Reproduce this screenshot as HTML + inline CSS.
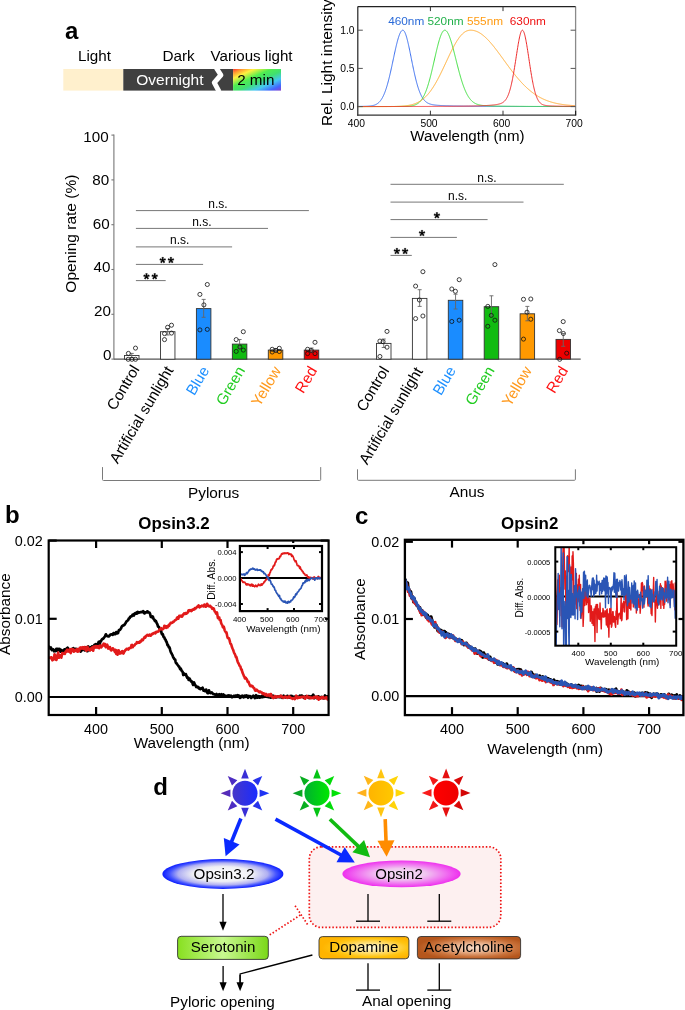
<!DOCTYPE html>
<html><head><meta charset="utf-8"><title>Figure</title>
<style>html,body{margin:0;padding:0;background:#fff;} body{width:685px;height:1010px;overflow:hidden;font-family:"Liberation Sans", sans-serif;} svg{display:block;will-change:transform;}</style>
</head><body>
<svg width="685" height="1010" viewBox="0 0 685 1010" font-family="'Liberation Sans', sans-serif">
<defs>
<linearGradient id="rb" x1="0" y1="0" x2="1" y2="1"><stop offset="0" stop-color="#ff3030"/><stop offset="0.1" stop-color="#ff9a30"/><stop offset="0.22" stop-color="#fff040"/><stop offset="0.4" stop-color="#50ee50"/><stop offset="0.55" stop-color="#40e070"/><stop offset="0.72" stop-color="#44c8f0"/><stop offset="0.88" stop-color="#4466ff"/><stop offset="1" stop-color="#8844cc"/></linearGradient>
<linearGradient id="sb" gradientUnits="userSpaceOnUse" x1="220" y1="0" x2="270" y2="0"><stop offset="0" stop-color="#5f2aae"/><stop offset="1" stop-color="#1535ff"/></linearGradient>
<linearGradient id="sbc" gradientUnits="userSpaceOnUse" x1="232.5" y1="0" x2="257.5" y2="0"><stop offset="0" stop-color="#4636c8"/><stop offset="1" stop-color="#1a2cff"/></linearGradient>
<linearGradient id="sg" gradientUnits="userSpaceOnUse" x1="292" y1="0" x2="342" y2="0"><stop offset="0" stop-color="#0a9a2a"/><stop offset="1" stop-color="#00ee00"/></linearGradient>
<linearGradient id="sgc" gradientUnits="userSpaceOnUse" x1="304.5" y1="0" x2="329.5" y2="0"><stop offset="0" stop-color="#00b030"/><stop offset="1" stop-color="#00e800"/></linearGradient>
<linearGradient id="sy" gradientUnits="userSpaceOnUse" x1="356" y1="0" x2="406" y2="0"><stop offset="0" stop-color="#ffaa22"/><stop offset="1" stop-color="#ffe000"/></linearGradient>
<linearGradient id="syc" gradientUnits="userSpaceOnUse" x1="368.5" y1="0" x2="393.5" y2="0"><stop offset="0" stop-color="#ffb400"/><stop offset="1" stop-color="#ffc800"/></linearGradient>
<linearGradient id="sr" gradientUnits="userSpaceOnUse" x1="421.1" y1="0" x2="471.1" y2="0"><stop offset="0" stop-color="#ff2020"/><stop offset="1" stop-color="#cc0000"/></linearGradient>
<linearGradient id="src" gradientUnits="userSpaceOnUse" x1="433.6" y1="0" x2="458.6" y2="0"><stop offset="0" stop-color="#ff0000"/><stop offset="1" stop-color="#ee0000"/></linearGradient>
<radialGradient id="eb" cx="0.5" cy="0.5" r="0.5"><stop offset="0" stop-color="#ffffff"/><stop offset="0.5" stop-color="#eeeef4"/><stop offset="0.74" stop-color="#b0b0f2"/><stop offset="0.88" stop-color="#4555ff"/><stop offset="1" stop-color="#0a1cff"/></radialGradient>
<radialGradient id="ep" cx="0.5" cy="0.5" r="0.5"><stop offset="0" stop-color="#f4dcf4"/><stop offset="0.4" stop-color="#f0c8f0"/><stop offset="0.75" stop-color="#f070f0"/><stop offset="1" stop-color="#ee30ee"/></radialGradient>
<linearGradient id="gs" x1="0" y1="0" x2="1" y2="0"><stop offset="0" stop-color="#88e020"/><stop offset="0.5" stop-color="#c8f890"/><stop offset="1" stop-color="#7ad818"/></linearGradient>
<radialGradient id="gd" cx="0.58" cy="0.5" r="0.55"><stop offset="0" stop-color="#fffae0"/><stop offset="0.35" stop-color="#ffe488"/><stop offset="0.75" stop-color="#ffc410"/><stop offset="1" stop-color="#ffb400"/></radialGradient>
<radialGradient id="ga" cx="0.55" cy="0.5" r="0.55"><stop offset="0" stop-color="#f8dcc8"/><stop offset="0.35" stop-color="#eab490"/><stop offset="0.75" stop-color="#c87038"/><stop offset="1" stop-color="#b5561c"/></radialGradient>
</defs>
<rect width="685" height="1010" fill="#fff"/>
<text x="65.00" y="38.80" font-size="24" text-anchor="start" fill="#000" font-weight="bold">a</text>
<text x="78.00" y="60.60" font-size="15.2" text-anchor="start" fill="#000">Light</text>
<text x="162.40" y="60.60" font-size="15.3" text-anchor="start" fill="#000">Dark</text>
<text x="210.60" y="60.60" font-size="15.1" text-anchor="start" fill="#000">Various light</text>
<rect x="63.30" y="69.00" width="60.00" height="21.60" fill="#fff0cd" stroke="none" stroke-width="1"/>
<rect x="123.30" y="69.00" width="109.80" height="21.60" fill="#404040" stroke="none" stroke-width="1"/>
<polyline points="216.30,68.00 220.90,75.00 214.30,82.60 219.10,91.60" fill="none" stroke="#fff" stroke-width="5" stroke-linejoin="round" stroke-linecap="butt"/>
<rect x="233.10" y="69.00" width="47.90" height="21.60" fill="url(#rb)" stroke="none" stroke-width="1"/>
<text x="136.30" y="85.20" font-size="15.5" text-anchor="start" fill="#fff">Overnight</text>
<text x="237.20" y="84.90" font-size="15.2" text-anchor="start" fill="#000">2 min</text>
<polyline points="357.80,106.41 358.04,106.41 358.28,106.41 358.53,106.41 358.77,106.40 359.01,106.40 359.25,106.40 359.50,106.40 359.74,106.39 359.98,106.39 360.22,106.39 360.46,106.39 360.71,106.38 360.95,106.38 361.19,106.38 361.43,106.37 361.68,106.37 361.92,106.37 362.16,106.36 362.40,106.36 362.65,106.35 362.89,106.35 363.13,106.35 363.37,106.34 363.61,106.34 363.86,106.33 364.10,106.33 364.34,106.32 364.58,106.31 364.83,106.31 365.07,106.30 365.31,106.29 365.55,106.29 365.79,106.28 366.04,106.27 366.28,106.26 366.52,106.25 366.76,106.24 367.01,106.23 367.25,106.22 367.49,106.21 367.73,106.19 367.98,106.18 368.22,106.16 368.46,106.15 368.70,106.13 368.94,106.11 369.19,106.09 369.43,106.07 369.67,106.05 369.91,106.02 370.16,106.00 370.40,105.97 370.64,105.94 370.88,105.91 371.12,105.88 371.37,105.84 371.61,105.80 371.85,105.76 372.09,105.72 372.34,105.67 372.58,105.62 372.82,105.57 373.06,105.51 373.31,105.45 373.55,105.39 373.79,105.32 374.03,105.25 374.27,105.17 374.52,105.09 374.76,105.00 375.00,104.91 375.24,104.81 375.49,104.71 375.73,104.60 375.97,104.48 376.21,104.36 376.45,104.23 376.70,104.09 376.94,103.94 377.18,103.79 377.42,103.62 377.67,103.45 377.91,103.27 378.15,103.08 378.39,102.88 378.64,102.66 378.88,102.44 379.12,102.21 379.36,101.96 379.60,101.70 379.85,101.43 380.09,101.15 380.33,100.85 380.57,100.54 380.82,100.21 381.06,99.87 381.30,99.52 381.54,99.14 381.78,98.76 382.03,98.35 382.27,97.93 382.51,97.49 382.75,97.04 383.00,96.56 383.24,96.07 383.48,95.56 383.72,95.03 383.97,94.48 384.21,93.91 384.45,93.33 384.69,92.72 384.93,92.09 385.18,91.44 385.42,90.77 385.66,90.08 385.90,89.37 386.15,88.64 386.39,87.89 386.63,87.12 386.87,86.32 387.11,85.51 387.36,84.67 387.60,83.82 387.84,82.95 388.08,82.05 388.33,81.14 388.57,80.21 388.81,79.26 389.05,78.29 389.29,77.31 389.54,76.31 389.78,75.29 390.02,74.26 390.26,73.21 390.51,72.15 390.75,71.07 390.99,69.99 391.23,68.89 391.48,67.79 391.72,66.67 391.96,65.55 392.20,64.42 392.44,63.28 392.69,62.14 392.93,61.00 393.17,59.86 393.41,58.72 393.66,57.57 393.90,56.44 394.14,55.30 394.38,54.17 394.62,53.05 394.87,51.94 395.11,50.84 395.35,49.75 395.59,48.67 395.84,47.61 396.08,46.57 396.32,45.54 396.56,44.54 396.81,43.55 397.05,42.59 397.29,41.66 397.53,40.75 397.77,39.87 398.02,39.02 398.26,38.20 398.50,37.42 398.74,36.67 398.99,35.95 399.23,35.27 399.47,34.63 399.71,34.03 399.95,33.47 400.20,32.95 400.44,32.47 400.68,32.03 400.92,31.65 401.17,31.30 401.41,31.00 401.65,30.75 401.89,30.55 402.14,30.39 402.38,30.28 402.62,30.22 402.86,30.20 403.10,30.24 403.35,30.35 403.59,30.51 403.83,30.74 404.07,31.02 404.32,31.36 404.56,31.76 404.80,32.22 405.04,32.73 405.28,33.29 405.53,33.91 405.77,34.57 406.01,35.28 406.25,36.04 406.50,36.84 406.74,37.68 406.98,38.57 407.22,39.49 407.47,40.44 407.71,41.43 407.95,42.44 408.19,43.49 408.43,44.56 408.68,45.65 408.92,46.76 409.16,47.90 409.40,49.05 409.65,50.21 409.89,51.39 410.13,52.58 410.37,53.77 410.61,54.97 410.86,56.18 411.10,57.39 411.34,58.60 411.58,59.81 411.83,61.02 412.07,62.22 412.31,63.42 412.55,64.61 412.80,65.79 413.04,66.96 413.28,68.12 413.52,69.27 413.76,70.40 414.01,71.52 414.25,72.62 414.49,73.71 414.73,74.78 414.98,75.83 415.22,76.86 415.46,77.88 415.70,78.87 415.94,79.84 416.19,80.79 416.43,81.72 416.67,82.63 416.91,83.51 417.16,84.37 417.40,85.21 417.64,86.03 417.88,86.83 418.13,87.60 418.37,88.34 418.61,89.07 418.85,89.77 419.09,90.45 419.34,91.11 419.58,91.75 419.82,92.36 420.06,92.95 420.31,93.52 420.55,94.07 420.79,94.60 421.03,95.11 421.27,95.60 421.52,96.07 421.76,96.52 422.00,96.96 422.24,97.37 422.49,97.77 422.73,98.15 422.97,98.51 423.21,98.86 423.45,99.19 423.70,99.51 423.94,99.81 424.18,100.10 424.42,100.38 424.67,100.64 424.91,100.89 425.15,101.13 425.39,101.35 425.64,101.57 425.88,101.77 426.12,101.97 426.36,102.15 426.60,102.33 426.85,102.49 427.09,102.65 427.33,102.80 427.57,102.94 427.82,103.08 428.06,103.20 428.30,103.32 428.54,103.44 428.78,103.55 429.03,103.65 429.27,103.74 429.51,103.84 429.75,103.92 430.00,104.01 430.24,104.08 430.48,104.16 430.72,104.23 430.97,104.30 431.21,104.36 431.45,104.42 431.69,104.48 431.93,104.53 432.18,104.58 432.42,104.63 432.66,104.68 432.90,104.72 433.15,104.76 433.39,104.80 433.63,104.84 433.87,104.88 434.11,104.91 434.36,104.95 434.60,104.98 434.84,105.01 435.08,105.04 435.33,105.07 435.57,105.10 435.81,105.12 436.05,105.15 436.30,105.17 436.54,105.19 436.78,105.22 437.02,105.24 437.26,105.26 437.51,105.28 437.75,105.30 437.99,105.32 438.23,105.34 438.48,105.35 438.72,105.37 438.96,105.39 439.20,105.40 439.44,105.42 439.69,105.44 439.93,105.45 440.17,105.47 440.41,105.48 440.66,105.49 440.90,105.51 441.14,105.52 441.38,105.54 441.63,105.55 441.87,105.56 442.11,105.57 442.35,105.59 442.59,105.60 442.84,105.61 443.08,105.62 443.32,105.63 443.56,105.64 443.81,105.65 444.05,105.66 444.29,105.67 444.53,105.68 444.77,105.69 445.02,105.70 445.26,105.71 445.50,105.72 445.74,105.73 445.99,105.74 446.23,105.75 446.47,105.76 446.71,105.77 446.96,105.78 447.20,105.79 447.44,105.79 447.68,105.80 447.92,105.81 448.17,105.82 448.41,105.83 448.65,105.83 448.89,105.84 449.14,105.85 449.38,105.86 449.62,105.86 449.86,105.87 450.10,105.88 450.35,105.89 450.59,105.89 450.83,105.90 451.07,105.91 451.32,105.91 451.56,105.92 451.80,105.93 452.04,105.93 452.28,105.94 452.53,105.94 452.77,105.95 453.01,105.96 453.25,105.96 453.50,105.97 453.74,105.97 453.98,105.98 454.22,105.99 454.47,105.99 454.71,106.00 454.95,106.00 455.19,106.01 455.43,106.01 455.68,106.02 455.92,106.02 456.16,106.03 456.40,106.03 456.65,106.04 456.89,106.04 457.13,106.05 457.37,106.05 457.61,106.06 457.86,106.06 458.10,106.07 458.34,106.07 458.58,106.07 458.83,106.08 459.07,106.08 459.31,106.09 459.55,106.09 459.80,106.10 460.04,106.10 460.28,106.10 460.52,106.11 460.76,106.11 461.01,106.12 461.25,106.12 461.49,106.12 461.73,106.13 461.98,106.13 462.22,106.13 462.46,106.14 462.70,106.14 462.94,106.15 463.19,106.15 463.43,106.15 463.67,106.16 463.91,106.16 464.16,106.16 464.40,106.17 464.64,106.17 464.88,106.17 465.13,106.18 465.37,106.18 465.61,106.18 465.85,106.19 466.09,106.19 466.34,106.19 466.58,106.19 466.82,106.20 467.06,106.20 467.31,106.20 467.55,106.21 467.79,106.21 468.03,106.21 468.27,106.21 468.52,106.22 468.76,106.22 469.00,106.22 469.24,106.23 469.49,106.23 469.73,106.23 469.97,106.23 470.21,106.24 470.46,106.24 470.70,106.24 470.94,106.24 471.18,106.25 471.42,106.25 471.67,106.25 471.91,106.25 472.15,106.26 472.39,106.26 472.64,106.26 472.88,106.26 473.12,106.26 473.36,106.27 473.60,106.27 473.85,106.27 474.09,106.27 474.33,106.28 474.57,106.28 474.82,106.28 475.06,106.28 475.30,106.28 475.54,106.29 475.79,106.29 476.03,106.29 476.27,106.29 476.51,106.29 476.75,106.30 477.00,106.30 477.24,106.30 477.48,106.30 477.72,106.30 477.97,106.31 478.21,106.31 478.45,106.31 478.69,106.31 478.93,106.31 479.18,106.32 479.42,106.32 479.66,106.32 479.90,106.32 480.15,106.32 480.39,106.32 480.63,106.33 480.87,106.33 481.12,106.33 481.36,106.33 481.60,106.33 481.84,106.33 482.08,106.34 482.33,106.34 482.57,106.34 482.81,106.34 483.05,106.34 483.30,106.34 483.54,106.34 483.78,106.35 484.02,106.35 484.26,106.35 484.51,106.35 484.75,106.35 484.99,106.35 485.23,106.35 485.48,106.36 485.72,106.36 485.96,106.36 486.20,106.36 486.44,106.36 486.69,106.36 486.93,106.36 487.17,106.37 487.41,106.37 487.66,106.37 487.90,106.37 488.14,106.37 488.38,106.37 488.63,106.37 488.87,106.37 489.11,106.38 489.35,106.38 489.59,106.38 489.84,106.38 490.08,106.38 490.32,106.38 490.56,106.38 490.81,106.38 491.05,106.39 491.29,106.39 491.53,106.39 491.77,106.39 492.02,106.39 492.26,106.39 492.50,106.39 492.74,106.39 492.99,106.39 493.23,106.40 493.47,106.40 493.71,106.40 493.96,106.40 494.20,106.40 494.44,106.40 494.68,106.40 494.92,106.40 495.17,106.40 495.41,106.41 495.65,106.41 495.89,106.41 496.14,106.41 496.38,106.41 496.62,106.41 496.86,106.41 497.10,106.41 497.35,106.41 497.59,106.41 497.83,106.41 498.07,106.42 498.32,106.42 498.56,106.42 498.80,106.42 499.04,106.42 499.29,106.42 499.53,106.42 499.77,106.42 500.01,106.42 500.25,106.42 500.50,106.42 500.74,106.43 500.98,106.43 501.22,106.43 501.47,106.43 501.71,106.43 501.95,106.43 502.19,106.43 502.43,106.43 502.68,106.43 502.92,106.43 503.16,106.43 503.40,106.43 503.65,106.44 503.89,106.44 504.13,106.44 504.37,106.44 504.62,106.44 504.86,106.44 505.10,106.44 505.34,106.44 505.58,106.44 505.83,106.44 506.07,106.44 506.31,106.44 506.55,106.44 506.80,106.44 507.04,106.45 507.28,106.45 507.52,106.45 507.76,106.45 508.01,106.45 508.25,106.45 508.49,106.45 508.73,106.45 508.98,106.45 509.22,106.45 509.46,106.45 509.70,106.45 509.95,106.45 510.19,106.45 510.43,106.46 510.67,106.46 510.91,106.46 511.16,106.46 511.40,106.46 511.64,106.46 511.88,106.46 512.13,106.46 512.37,106.46 512.61,106.46 512.85,106.46 513.09,106.46 513.34,106.46 513.58,106.46 513.82,106.46 514.06,106.46 514.31,106.46 514.55,106.47 514.79,106.47 515.03,106.47 515.27,106.47 515.52,106.47 515.76,106.47 516.00,106.47 516.24,106.47 516.49,106.47 516.73,106.47 516.97,106.47 517.21,106.47 517.46,106.47 517.70,106.47 517.94,106.47 518.18,106.47 518.42,106.47 518.67,106.47 518.91,106.48 519.15,106.48 519.39,106.48 519.64,106.48 519.88,106.48 520.12,106.48 520.36,106.48 520.60,106.48 520.85,106.48 521.09,106.48 521.33,106.48 521.57,106.48 521.82,106.48 522.06,106.48 522.30,106.48 522.54,106.48 522.79,106.48 523.03,106.48 523.27,106.48 523.51,106.48 523.75,106.49 524.00,106.49 524.24,106.49 524.48,106.49 524.72,106.49 524.97,106.49 525.21,106.49 525.45,106.49 525.69,106.49 525.93,106.49 526.18,106.49 526.42,106.49 526.66,106.49 526.90,106.49 527.15,106.49 527.39,106.49 527.63,106.49 527.87,106.49 528.12,106.49 528.36,106.49 528.60,106.49 528.84,106.49 529.08,106.49 529.33,106.49 529.57,106.50 529.81,106.50 530.05,106.50 530.30,106.50 530.54,106.50 530.78,106.50 531.02,106.50 531.26,106.50 531.51,106.50 531.75,106.50 531.99,106.50 532.23,106.50 532.48,106.50 532.72,106.50 532.96,106.50 533.20,106.50 533.45,106.50 533.69,106.50 533.93,106.50 534.17,106.50 534.41,106.50 534.66,106.50 534.90,106.50 535.14,106.50 535.38,106.50 535.63,106.50 535.87,106.50 536.11,106.51 536.35,106.51 536.59,106.51 536.84,106.51 537.08,106.51 537.32,106.51 537.56,106.51 537.81,106.51 538.05,106.51 538.29,106.51 538.53,106.51 538.78,106.51 539.02,106.51 539.26,106.51 539.50,106.51 539.74,106.51 539.99,106.51 540.23,106.51 540.47,106.51 540.71,106.51 540.96,106.51 541.20,106.51 541.44,106.51 541.68,106.51 541.92,106.51 542.17,106.51 542.41,106.51 542.65,106.51 542.89,106.51 543.14,106.51 543.38,106.51 543.62,106.52 543.86,106.52 544.11,106.52 544.35,106.52 544.59,106.52 544.83,106.52 545.07,106.52 545.32,106.52 545.56,106.52 545.80,106.52 546.04,106.52 546.29,106.52 546.53,106.52 546.77,106.52 547.01,106.52 547.25,106.52 547.50,106.52 547.74,106.52 547.98,106.52 548.22,106.52 548.47,106.52 548.71,106.52 548.95,106.52 549.19,106.52 549.43,106.52 549.68,106.52 549.92,106.52 550.16,106.52 550.40,106.52 550.65,106.52 550.89,106.52 551.13,106.52 551.37,106.52 551.62,106.52 551.86,106.52 552.10,106.52 552.34,106.52 552.58,106.52 552.83,106.53 553.07,106.53 553.31,106.53 553.55,106.53 553.80,106.53 554.04,106.53 554.28,106.53 554.52,106.53 554.76,106.53 555.01,106.53 555.25,106.53 555.49,106.53 555.73,106.53 555.98,106.53 556.22,106.53 556.46,106.53 556.70,106.53 556.95,106.53 557.19,106.53 557.43,106.53 557.67,106.53 557.91,106.53 558.16,106.53 558.40,106.53 558.64,106.53 558.88,106.53 559.13,106.53 559.37,106.53 559.61,106.53 559.85,106.53 560.09,106.53 560.34,106.53 560.58,106.53 560.82,106.53 561.06,106.53 561.31,106.53 561.55,106.53 561.79,106.53 562.03,106.53 562.28,106.53 562.52,106.53 562.76,106.53 563.00,106.53 563.24,106.53 563.49,106.53 563.73,106.53 563.97,106.54 564.21,106.54 564.46,106.54 564.70,106.54 564.94,106.54 565.18,106.54 565.42,106.54 565.67,106.54 565.91,106.54 566.15,106.54 566.39,106.54 566.64,106.54 566.88,106.54 567.12,106.54 567.36,106.54 567.61,106.54 567.85,106.54 568.09,106.54 568.33,106.54 568.57,106.54 568.82,106.54 569.06,106.54 569.30,106.54 569.54,106.54 569.79,106.54 570.03,106.54 570.27,106.54 570.51,106.54 570.75,106.54 571.00,106.54 571.24,106.54 571.48,106.54 571.72,106.54 571.97,106.54 572.21,106.54 572.45,106.54 572.69,106.54 572.94,106.54 573.18,106.54 573.42,106.54 573.66,106.54 573.90,106.54 574.15,106.54 574.39,106.54 574.63,106.54 574.87,106.54 575.12,106.54 575.36,106.54 575.60,106.54" fill="none" stroke="#3c70f0" stroke-width="1.0" stroke-linejoin="round"/>
<polyline points="357.80,106.55 358.04,106.55 358.28,106.55 358.53,106.55 358.77,106.55 359.01,106.55 359.25,106.55 359.50,106.55 359.74,106.55 359.98,106.55 360.22,106.55 360.46,106.55 360.71,106.55 360.95,106.55 361.19,106.55 361.43,106.55 361.68,106.55 361.92,106.55 362.16,106.55 362.40,106.55 362.65,106.55 362.89,106.55 363.13,106.55 363.37,106.55 363.61,106.55 363.86,106.55 364.10,106.55 364.34,106.55 364.58,106.55 364.83,106.55 365.07,106.55 365.31,106.55 365.55,106.55 365.79,106.55 366.04,106.55 366.28,106.54 366.52,106.54 366.76,106.54 367.01,106.54 367.25,106.54 367.49,106.54 367.73,106.54 367.98,106.54 368.22,106.54 368.46,106.54 368.70,106.54 368.94,106.54 369.19,106.54 369.43,106.54 369.67,106.54 369.91,106.54 370.16,106.54 370.40,106.54 370.64,106.54 370.88,106.54 371.12,106.54 371.37,106.54 371.61,106.54 371.85,106.54 372.09,106.54 372.34,106.54 372.58,106.53 372.82,106.53 373.06,106.53 373.31,106.53 373.55,106.53 373.79,106.53 374.03,106.53 374.27,106.53 374.52,106.53 374.76,106.53 375.00,106.53 375.24,106.53 375.49,106.53 375.73,106.53 375.97,106.53 376.21,106.53 376.45,106.53 376.70,106.53 376.94,106.53 377.18,106.53 377.42,106.53 377.67,106.53 377.91,106.52 378.15,106.52 378.39,106.52 378.64,106.52 378.88,106.52 379.12,106.52 379.36,106.52 379.60,106.52 379.85,106.52 380.09,106.52 380.33,106.52 380.57,106.52 380.82,106.52 381.06,106.52 381.30,106.52 381.54,106.52 381.78,106.52 382.03,106.51 382.27,106.51 382.51,106.51 382.75,106.51 383.00,106.51 383.24,106.51 383.48,106.51 383.72,106.51 383.97,106.51 384.21,106.51 384.45,106.51 384.69,106.51 384.93,106.51 385.18,106.51 385.42,106.51 385.66,106.50 385.90,106.50 386.15,106.50 386.39,106.50 386.63,106.50 386.87,106.50 387.11,106.50 387.36,106.50 387.60,106.50 387.84,106.50 388.08,106.50 388.33,106.50 388.57,106.49 388.81,106.49 389.05,106.49 389.29,106.49 389.54,106.49 389.78,106.49 390.02,106.49 390.26,106.49 390.51,106.49 390.75,106.49 390.99,106.49 391.23,106.48 391.48,106.48 391.72,106.48 391.96,106.48 392.20,106.48 392.44,106.48 392.69,106.48 392.93,106.48 393.17,106.48 393.41,106.47 393.66,106.47 393.90,106.47 394.14,106.47 394.38,106.47 394.62,106.47 394.87,106.47 395.11,106.47 395.35,106.46 395.59,106.46 395.84,106.46 396.08,106.46 396.32,106.46 396.56,106.46 396.81,106.46 397.05,106.45 397.29,106.45 397.53,106.45 397.77,106.45 398.02,106.45 398.26,106.45 398.50,106.44 398.74,106.44 398.99,106.44 399.23,106.44 399.47,106.44 399.71,106.43 399.95,106.43 400.20,106.43 400.44,106.43 400.68,106.42 400.92,106.42 401.17,106.42 401.41,106.41 401.65,106.41 401.89,106.41 402.14,106.40 402.38,106.40 402.62,106.40 402.86,106.39 403.10,106.39 403.35,106.38 403.59,106.38 403.83,106.37 404.07,106.37 404.32,106.36 404.56,106.36 404.80,106.35 405.04,106.34 405.28,106.33 405.53,106.33 405.77,106.32 406.01,106.31 406.25,106.30 406.50,106.29 406.74,106.28 406.98,106.27 407.22,106.26 407.47,106.24 407.71,106.23 407.95,106.21 408.19,106.20 408.43,106.18 408.68,106.16 408.92,106.14 409.16,106.12 409.40,106.10 409.65,106.08 409.89,106.05 410.13,106.03 410.37,106.00 410.61,105.97 410.86,105.94 411.10,105.90 411.34,105.87 411.58,105.83 411.83,105.79 412.07,105.74 412.31,105.70 412.55,105.65 412.80,105.60 413.04,105.54 413.28,105.48 413.52,105.42 413.76,105.35 414.01,105.28 414.25,105.21 414.49,105.13 414.73,105.05 414.98,104.96 415.22,104.87 415.46,104.77 415.70,104.67 415.94,104.56 416.19,104.44 416.43,104.32 416.67,104.19 416.91,104.06 417.16,103.91 417.40,103.77 417.64,103.61 417.88,103.44 418.13,103.27 418.37,103.09 418.61,102.90 418.85,102.69 419.09,102.48 419.34,102.26 419.58,102.03 419.82,101.79 420.06,101.54 420.31,101.28 420.55,101.00 420.79,100.71 421.03,100.41 421.27,100.10 421.52,99.77 421.76,99.44 422.00,99.08 422.24,98.72 422.49,98.33 422.73,97.94 422.97,97.53 423.21,97.10 423.45,96.66 423.70,96.20 423.94,95.73 424.18,95.23 424.42,94.73 424.67,94.20 424.91,93.66 425.15,93.10 425.39,92.53 425.64,91.93 425.88,91.32 426.12,90.69 426.36,90.05 426.60,89.38 426.85,88.70 427.09,88.00 427.33,87.28 427.57,86.54 427.82,85.79 428.06,85.01 428.30,84.22 428.54,83.42 428.78,82.59 429.03,81.75 429.27,80.89 429.51,80.02 429.75,79.13 430.00,78.23 430.24,77.31 430.48,76.37 430.72,75.43 430.97,74.47 431.21,73.49 431.45,72.51 431.69,71.51 431.93,70.50 432.18,69.49 432.42,68.46 432.66,67.42 432.90,66.38 433.15,65.34 433.39,64.28 433.63,63.22 433.87,62.16 434.11,61.10 434.36,60.04 434.60,58.97 434.84,57.91 435.08,56.85 435.33,55.79 435.57,54.74 435.81,53.69 436.05,52.65 436.30,51.62 436.54,50.59 436.78,49.58 437.02,48.58 437.26,47.60 437.51,46.63 437.75,45.67 437.99,44.73 438.23,43.81 438.48,42.92 438.72,42.04 438.96,41.18 439.20,40.35 439.44,39.55 439.69,38.77 439.93,38.02 440.17,37.29 440.41,36.60 440.66,35.94 440.90,35.30 441.14,34.71 441.38,34.14 441.63,33.61 441.87,33.12 442.11,32.66 442.35,32.24 442.59,31.86 442.84,31.51 443.08,31.21 443.32,30.94 443.56,30.72 443.81,30.53 444.05,30.39 444.29,30.28 444.53,30.22 444.77,30.20 445.02,30.22 445.26,30.27 445.50,30.36 445.74,30.49 445.99,30.65 446.23,30.84 446.47,31.08 446.71,31.34 446.96,31.64 447.20,31.97 447.44,32.34 447.68,32.74 447.92,33.17 448.17,33.63 448.41,34.12 448.65,34.64 448.89,35.20 449.14,35.77 449.38,36.38 449.62,37.01 449.86,37.67 450.10,38.35 450.35,39.05 450.59,39.78 450.83,40.53 451.07,41.30 451.32,42.09 451.56,42.90 451.80,43.72 452.04,44.56 452.28,45.42 452.53,46.29 452.77,47.17 453.01,48.07 453.25,48.98 453.50,49.89 453.74,50.82 453.98,51.75 454.22,52.70 454.47,53.64 454.71,54.60 454.95,55.55 455.19,56.52 455.43,57.48 455.68,58.44 455.92,59.41 456.16,60.37 456.40,61.34 456.65,62.30 456.89,63.26 457.13,64.22 457.37,65.17 457.61,66.12 457.86,67.06 458.10,67.99 458.34,68.92 458.58,69.84 458.83,70.75 459.07,71.66 459.31,72.55 459.55,73.44 459.80,74.31 460.04,75.17 460.28,76.03 460.52,76.87 460.76,77.69 461.01,78.51 461.25,79.31 461.49,80.11 461.73,80.88 461.98,81.65 462.22,82.40 462.46,83.13 462.70,83.86 462.94,84.56 463.19,85.26 463.43,85.94 463.67,86.60 463.91,87.25 464.16,87.89 464.40,88.51 464.64,89.11 464.88,89.70 465.13,90.28 465.37,90.84 465.61,91.39 465.85,91.92 466.09,92.44 466.34,92.94 466.58,93.43 466.82,93.91 467.06,94.37 467.31,94.82 467.55,95.26 467.79,95.68 468.03,96.09 468.27,96.48 468.52,96.87 468.76,97.24 469.00,97.59 469.24,97.94 469.49,98.28 469.73,98.60 469.97,98.91 470.21,99.21 470.46,99.50 470.70,99.78 470.94,100.05 471.18,100.31 471.42,100.56 471.67,100.80 471.91,101.03 472.15,101.26 472.39,101.47 472.64,101.68 472.88,101.87 473.12,102.06 473.36,102.24 473.60,102.42 473.85,102.58 474.09,102.74 474.33,102.90 474.57,103.04 474.82,103.18 475.06,103.32 475.30,103.45 475.54,103.57 475.79,103.68 476.03,103.80 476.27,103.90 476.51,104.01 476.75,104.10 477.00,104.20 477.24,104.28 477.48,104.37 477.72,104.45 477.97,104.53 478.21,104.60 478.45,104.67 478.69,104.74 478.93,104.80 479.18,104.86 479.42,104.92 479.66,104.97 479.90,105.03 480.15,105.08 480.39,105.12 480.63,105.17 480.87,105.21 481.12,105.25 481.36,105.29 481.60,105.33 481.84,105.36 482.08,105.40 482.33,105.43 482.57,105.46 482.81,105.49 483.05,105.52 483.30,105.54 483.54,105.57 483.78,105.59 484.02,105.61 484.26,105.64 484.51,105.66 484.75,105.68 484.99,105.70 485.23,105.71 485.48,105.73 485.72,105.75 485.96,105.76 486.20,105.78 486.44,105.79 486.69,105.81 486.93,105.82 487.17,105.83 487.41,105.85 487.66,105.86 487.90,105.87 488.14,105.88 488.38,105.89 488.63,105.90 488.87,105.91 489.11,105.92 489.35,105.93 489.59,105.94 489.84,105.95 490.08,105.96 490.32,105.97 490.56,105.97 490.81,105.98 491.05,105.99 491.29,106.00 491.53,106.00 491.77,106.01 492.02,106.02 492.26,106.02 492.50,106.03 492.74,106.03 492.99,106.04 493.23,106.05 493.47,106.05 493.71,106.06 493.96,106.06 494.20,106.07 494.44,106.07 494.68,106.08 494.92,106.08 495.17,106.09 495.41,106.09 495.65,106.10 495.89,106.10 496.14,106.11 496.38,106.11 496.62,106.12 496.86,106.12 497.10,106.13 497.35,106.13 497.59,106.13 497.83,106.14 498.07,106.14 498.32,106.15 498.56,106.15 498.80,106.15 499.04,106.16 499.29,106.16 499.53,106.17 499.77,106.17 500.01,106.17 500.25,106.18 500.50,106.18 500.74,106.18 500.98,106.19 501.22,106.19 501.47,106.19 501.71,106.20 501.95,106.20 502.19,106.20 502.43,106.21 502.68,106.21 502.92,106.21 503.16,106.22 503.40,106.22 503.65,106.22 503.89,106.22 504.13,106.23 504.37,106.23 504.62,106.23 504.86,106.24 505.10,106.24 505.34,106.24 505.58,106.24 505.83,106.25 506.07,106.25 506.31,106.25 506.55,106.26 506.80,106.26 507.04,106.26 507.28,106.26 507.52,106.27 507.76,106.27 508.01,106.27 508.25,106.27 508.49,106.27 508.73,106.28 508.98,106.28 509.22,106.28 509.46,106.28 509.70,106.29 509.95,106.29 510.19,106.29 510.43,106.29 510.67,106.30 510.91,106.30 511.16,106.30 511.40,106.30 511.64,106.30 511.88,106.31 512.13,106.31 512.37,106.31 512.61,106.31 512.85,106.31 513.09,106.32 513.34,106.32 513.58,106.32 513.82,106.32 514.06,106.32 514.31,106.33 514.55,106.33 514.79,106.33 515.03,106.33 515.27,106.33 515.52,106.33 515.76,106.34 516.00,106.34 516.24,106.34 516.49,106.34 516.73,106.34 516.97,106.34 517.21,106.35 517.46,106.35 517.70,106.35 517.94,106.35 518.18,106.35 518.42,106.35 518.67,106.36 518.91,106.36 519.15,106.36 519.39,106.36 519.64,106.36 519.88,106.36 520.12,106.36 520.36,106.37 520.60,106.37 520.85,106.37 521.09,106.37 521.33,106.37 521.57,106.37 521.82,106.37 522.06,106.38 522.30,106.38 522.54,106.38 522.79,106.38 523.03,106.38 523.27,106.38 523.51,106.38 523.75,106.39 524.00,106.39 524.24,106.39 524.48,106.39 524.72,106.39 524.97,106.39 525.21,106.39 525.45,106.39 525.69,106.40 525.93,106.40 526.18,106.40 526.42,106.40 526.66,106.40 526.90,106.40 527.15,106.40 527.39,106.40 527.63,106.40 527.87,106.41 528.12,106.41 528.36,106.41 528.60,106.41 528.84,106.41 529.08,106.41 529.33,106.41 529.57,106.41 529.81,106.41 530.05,106.42 530.30,106.42 530.54,106.42 530.78,106.42 531.02,106.42 531.26,106.42 531.51,106.42 531.75,106.42 531.99,106.42 532.23,106.42 532.48,106.42 532.72,106.43 532.96,106.43 533.20,106.43 533.45,106.43 533.69,106.43 533.93,106.43 534.17,106.43 534.41,106.43 534.66,106.43 534.90,106.43 535.14,106.43 535.38,106.44 535.63,106.44 535.87,106.44 536.11,106.44 536.35,106.44 536.59,106.44 536.84,106.44 537.08,106.44 537.32,106.44 537.56,106.44 537.81,106.44 538.05,106.44 538.29,106.45 538.53,106.45 538.78,106.45 539.02,106.45 539.26,106.45 539.50,106.45 539.74,106.45 539.99,106.45 540.23,106.45 540.47,106.45 540.71,106.45 540.96,106.45 541.20,106.45 541.44,106.46 541.68,106.46 541.92,106.46 542.17,106.46 542.41,106.46 542.65,106.46 542.89,106.46 543.14,106.46 543.38,106.46 543.62,106.46 543.86,106.46 544.11,106.46 544.35,106.46 544.59,106.46 544.83,106.46 545.07,106.47 545.32,106.47 545.56,106.47 545.80,106.47 546.04,106.47 546.29,106.47 546.53,106.47 546.77,106.47 547.01,106.47 547.25,106.47 547.50,106.47 547.74,106.47 547.98,106.47 548.22,106.47 548.47,106.47 548.71,106.47 548.95,106.48 549.19,106.48 549.43,106.48 549.68,106.48 549.92,106.48 550.16,106.48 550.40,106.48 550.65,106.48 550.89,106.48 551.13,106.48 551.37,106.48 551.62,106.48 551.86,106.48 552.10,106.48 552.34,106.48 552.58,106.48 552.83,106.48 553.07,106.48 553.31,106.48 553.55,106.49 553.80,106.49 554.04,106.49 554.28,106.49 554.52,106.49 554.76,106.49 555.01,106.49 555.25,106.49 555.49,106.49 555.73,106.49 555.98,106.49 556.22,106.49 556.46,106.49 556.70,106.49 556.95,106.49 557.19,106.49 557.43,106.49 557.67,106.49 557.91,106.49 558.16,106.49 558.40,106.49 558.64,106.50 558.88,106.50 559.13,106.50 559.37,106.50 559.61,106.50 559.85,106.50 560.09,106.50 560.34,106.50 560.58,106.50 560.82,106.50 561.06,106.50 561.31,106.50 561.55,106.50 561.79,106.50 562.03,106.50 562.28,106.50 562.52,106.50 562.76,106.50 563.00,106.50 563.24,106.50 563.49,106.50 563.73,106.50 563.97,106.50 564.21,106.50 564.46,106.50 564.70,106.51 564.94,106.51 565.18,106.51 565.42,106.51 565.67,106.51 565.91,106.51 566.15,106.51 566.39,106.51 566.64,106.51 566.88,106.51 567.12,106.51 567.36,106.51 567.61,106.51 567.85,106.51 568.09,106.51 568.33,106.51 568.57,106.51 568.82,106.51 569.06,106.51 569.30,106.51 569.54,106.51 569.79,106.51 570.03,106.51 570.27,106.51 570.51,106.51 570.75,106.51 571.00,106.51 571.24,106.51 571.48,106.52 571.72,106.52 571.97,106.52 572.21,106.52 572.45,106.52 572.69,106.52 572.94,106.52 573.18,106.52 573.42,106.52 573.66,106.52 573.90,106.52 574.15,106.52 574.39,106.52 574.63,106.52 574.87,106.52 575.12,106.52 575.36,106.52 575.60,106.52" fill="none" stroke="#3ee03e" stroke-width="1.0" stroke-linejoin="round"/>
<polyline points="357.80,106.60 358.04,106.60 358.28,106.60 358.53,106.60 358.77,106.60 359.01,106.60 359.25,106.60 359.50,106.60 359.74,106.60 359.98,106.60 360.22,106.60 360.46,106.60 360.71,106.60 360.95,106.60 361.19,106.60 361.43,106.60 361.68,106.60 361.92,106.60 362.16,106.60 362.40,106.60 362.65,106.60 362.89,106.60 363.13,106.60 363.37,106.60 363.61,106.60 363.86,106.60 364.10,106.60 364.34,106.60 364.58,106.60 364.83,106.60 365.07,106.60 365.31,106.60 365.55,106.60 365.79,106.60 366.04,106.60 366.28,106.60 366.52,106.60 366.76,106.60 367.01,106.60 367.25,106.60 367.49,106.60 367.73,106.60 367.98,106.60 368.22,106.60 368.46,106.60 368.70,106.60 368.94,106.60 369.19,106.60 369.43,106.60 369.67,106.60 369.91,106.60 370.16,106.60 370.40,106.60 370.64,106.60 370.88,106.60 371.12,106.60 371.37,106.60 371.61,106.60 371.85,106.60 372.09,106.60 372.34,106.60 372.58,106.60 372.82,106.60 373.06,106.60 373.31,106.60 373.55,106.60 373.79,106.60 374.03,106.60 374.27,106.60 374.52,106.60 374.76,106.60 375.00,106.60 375.24,106.60 375.49,106.60 375.73,106.60 375.97,106.60 376.21,106.60 376.45,106.60 376.70,106.60 376.94,106.60 377.18,106.60 377.42,106.60 377.67,106.60 377.91,106.60 378.15,106.60 378.39,106.60 378.64,106.60 378.88,106.60 379.12,106.60 379.36,106.60 379.60,106.59 379.85,106.59 380.09,106.59 380.33,106.59 380.57,106.59 380.82,106.59 381.06,106.59 381.30,106.59 381.54,106.59 381.78,106.59 382.03,106.59 382.27,106.59 382.51,106.59 382.75,106.59 383.00,106.59 383.24,106.59 383.48,106.59 383.72,106.59 383.97,106.59 384.21,106.59 384.45,106.58 384.69,106.58 384.93,106.58 385.18,106.58 385.42,106.58 385.66,106.58 385.90,106.58 386.15,106.58 386.39,106.58 386.63,106.58 386.87,106.57 387.11,106.57 387.36,106.57 387.60,106.57 387.84,106.57 388.08,106.57 388.33,106.57 388.57,106.56 388.81,106.56 389.05,106.56 389.29,106.56 389.54,106.56 389.78,106.55 390.02,106.55 390.26,106.55 390.51,106.55 390.75,106.54 390.99,106.54 391.23,106.54 391.48,106.54 391.72,106.53 391.96,106.53 392.20,106.53 392.44,106.52 392.69,106.52 392.93,106.51 393.17,106.51 393.41,106.51 393.66,106.50 393.90,106.50 394.14,106.49 394.38,106.49 394.62,106.48 394.87,106.48 395.11,106.47 395.35,106.46 395.59,106.46 395.84,106.45 396.08,106.44 396.32,106.44 396.56,106.43 396.81,106.42 397.05,106.42 397.29,106.41 397.53,106.40 397.77,106.39 398.02,106.38 398.26,106.37 398.50,106.36 398.74,106.35 398.99,106.34 399.23,106.33 399.47,106.32 399.71,106.30 399.95,106.29 400.20,106.28 400.44,106.27 400.68,106.25 400.92,106.24 401.17,106.22 401.41,106.21 401.65,106.19 401.89,106.17 402.14,106.16 402.38,106.14 402.62,106.12 402.86,106.10 403.10,106.08 403.35,106.06 403.59,106.04 403.83,106.01 404.07,105.99 404.32,105.97 404.56,105.94 404.80,105.92 405.04,105.89 405.28,105.86 405.53,105.84 405.77,105.81 406.01,105.78 406.25,105.74 406.50,105.71 406.74,105.68 406.98,105.64 407.22,105.61 407.47,105.57 407.71,105.53 407.95,105.50 408.19,105.45 408.43,105.41 408.68,105.37 408.92,105.33 409.16,105.28 409.40,105.23 409.65,105.18 409.89,105.13 410.13,105.08 410.37,105.03 410.61,104.98 410.86,104.92 411.10,104.86 411.34,104.80 411.58,104.74 411.83,104.68 412.07,104.61 412.31,104.55 412.55,104.48 412.80,104.41 413.04,104.33 413.28,104.26 413.52,104.18 413.76,104.10 414.01,104.02 414.25,103.94 414.49,103.85 414.73,103.77 414.98,103.68 415.22,103.58 415.46,103.49 415.70,103.39 415.94,103.29 416.19,103.19 416.43,103.09 416.67,102.98 416.91,102.87 417.16,102.76 417.40,102.64 417.64,102.52 417.88,102.40 418.13,102.28 418.37,102.15 418.61,102.02 418.85,101.89 419.09,101.75 419.34,101.61 419.58,101.47 419.82,101.32 420.06,101.17 420.31,101.02 420.55,100.86 420.79,100.70 421.03,100.54 421.27,100.37 421.52,100.20 421.76,100.03 422.00,99.85 422.24,99.67 422.49,99.49 422.73,99.30 422.97,99.11 423.21,98.91 423.45,98.71 423.70,98.51 423.94,98.30 424.18,98.09 424.42,97.87 424.67,97.65 424.91,97.43 425.15,97.20 425.39,96.97 425.64,96.73 425.88,96.49 426.12,96.25 426.36,96.00 426.60,95.74 426.85,95.49 427.09,95.22 427.33,94.96 427.57,94.69 427.82,94.41 428.06,94.13 428.30,93.85 428.54,93.56 428.78,93.27 429.03,92.97 429.27,92.67 429.51,92.36 429.75,92.05 430.00,91.73 430.24,91.41 430.48,91.09 430.72,90.76 430.97,90.42 431.21,90.08 431.45,89.74 431.69,89.39 431.93,89.04 432.18,88.68 432.42,88.32 432.66,87.96 432.90,87.59 433.15,87.21 433.39,86.83 433.63,86.45 433.87,86.06 434.11,85.67 434.36,85.28 434.60,84.87 434.84,84.47 435.08,84.06 435.33,83.65 435.57,83.23 435.81,82.81 436.05,82.38 436.30,81.96 436.54,81.52 436.78,81.09 437.02,80.64 437.26,80.20 437.51,79.75 437.75,79.30 437.99,78.84 438.23,78.39 438.48,77.92 438.72,77.46 438.96,76.99 439.20,76.52 439.44,76.04 439.69,75.56 439.93,75.08 440.17,74.60 440.41,74.11 440.66,73.62 440.90,73.13 441.14,72.64 441.38,72.14 441.63,71.64 441.87,71.14 442.11,70.64 442.35,70.13 442.59,69.63 442.84,69.12 443.08,68.61 443.32,68.10 443.56,67.58 443.81,67.07 444.05,66.55 444.29,66.04 444.53,65.52 444.77,65.00 445.02,64.48 445.26,63.96 445.50,63.44 445.74,62.92 445.99,62.40 446.23,61.88 446.47,61.36 446.71,60.84 446.96,60.32 447.20,59.80 447.44,59.29 447.68,58.77 447.92,58.25 448.17,57.74 448.41,57.22 448.65,56.71 448.89,56.20 449.14,55.69 449.38,55.18 449.62,54.67 449.86,54.17 450.10,53.67 450.35,53.17 450.59,52.67 450.83,52.17 451.07,51.68 451.32,51.19 451.56,50.71 451.80,50.22 452.04,49.74 452.28,49.27 452.53,48.79 452.77,48.32 453.01,47.86 453.25,47.40 453.50,46.94 453.74,46.49 453.98,46.04 454.22,45.59 454.47,45.15 454.71,44.72 454.95,44.29 455.19,43.86 455.43,43.44 455.68,43.03 455.92,42.62 456.16,42.21 456.40,41.81 456.65,41.42 456.89,41.03 457.13,40.65 457.37,40.27 457.61,39.90 457.86,39.54 458.10,39.18 458.34,38.83 458.58,38.48 458.83,38.14 459.07,37.81 459.31,37.49 459.55,37.17 459.80,36.86 460.04,36.55 460.28,36.25 460.52,35.96 460.76,35.68 461.01,35.40 461.25,35.13 461.49,34.86 461.73,34.61 461.98,34.36 462.22,34.12 462.46,33.88 462.70,33.66 462.94,33.44 463.19,33.22 463.43,33.02 463.67,32.82 463.91,32.63 464.16,32.45 464.40,32.28 464.64,32.11 464.88,31.95 465.13,31.79 465.37,31.65 465.61,31.51 465.85,31.38 466.09,31.26 466.34,31.14 466.58,31.03 466.82,30.93 467.06,30.84 467.31,30.75 467.55,30.67 467.79,30.59 468.03,30.53 468.27,30.47 468.52,30.41 468.76,30.37 469.00,30.32 469.24,30.29 469.49,30.26 469.73,30.24 469.97,30.22 470.21,30.21 470.46,30.20 470.70,30.20 470.94,30.20 471.18,30.21 471.42,30.22 471.67,30.23 471.91,30.25 472.15,30.27 472.39,30.29 472.64,30.32 472.88,30.36 473.12,30.39 473.36,30.44 473.60,30.48 473.85,30.53 474.09,30.59 474.33,30.64 474.57,30.71 474.82,30.77 475.06,30.84 475.30,30.92 475.54,31.00 475.79,31.08 476.03,31.16 476.27,31.25 476.51,31.35 476.75,31.45 477.00,31.55 477.24,31.65 477.48,31.76 477.72,31.88 477.97,31.99 478.21,32.12 478.45,32.24 478.69,32.37 478.93,32.50 479.18,32.64 479.42,32.78 479.66,32.92 479.90,33.07 480.15,33.22 480.39,33.37 480.63,33.53 480.87,33.69 481.12,33.86 481.36,34.03 481.60,34.20 481.84,34.37 482.08,34.55 482.33,34.73 482.57,34.92 482.81,35.11 483.05,35.30 483.30,35.50 483.54,35.70 483.78,35.90 484.02,36.10 484.26,36.31 484.51,36.52 484.75,36.74 484.99,36.95 485.23,37.17 485.48,37.40 485.72,37.62 485.96,37.85 486.20,38.08 486.44,38.32 486.69,38.56 486.93,38.80 487.17,39.04 487.41,39.29 487.66,39.53 487.90,39.78 488.14,40.04 488.38,40.29 488.63,40.55 488.87,40.81 489.11,41.08 489.35,41.34 489.59,41.61 489.84,41.88 490.08,42.15 490.32,42.43 490.56,42.70 490.81,42.98 491.05,43.26 491.29,43.55 491.53,43.83 491.77,44.12 492.02,44.41 492.26,44.70 492.50,44.99 492.74,45.29 492.99,45.58 493.23,45.88 493.47,46.18 493.71,46.48 493.96,46.79 494.20,47.09 494.44,47.40 494.68,47.71 494.92,48.01 495.17,48.33 495.41,48.64 495.65,48.95 495.89,49.26 496.14,49.58 496.38,49.90 496.62,50.22 496.86,50.53 497.10,50.85 497.35,51.18 497.59,51.50 497.83,51.82 498.07,52.15 498.32,52.47 498.56,52.80 498.80,53.12 499.04,53.45 499.29,53.78 499.53,54.11 499.77,54.44 500.01,54.77 500.25,55.10 500.50,55.43 500.74,55.76 500.98,56.09 501.22,56.43 501.47,56.76 501.71,57.09 501.95,57.42 502.19,57.76 502.43,58.09 502.68,58.43 502.92,58.76 503.16,59.10 503.40,59.43 503.65,59.76 503.89,60.10 504.13,60.43 504.37,60.77 504.62,61.10 504.86,61.44 505.10,61.77 505.34,62.10 505.58,62.44 505.83,62.77 506.07,63.10 506.31,63.44 506.55,63.77 506.80,64.10 507.04,64.43 507.28,64.76 507.52,65.09 507.76,65.42 508.01,65.75 508.25,66.08 508.49,66.41 508.73,66.74 508.98,67.07 509.22,67.39 509.46,67.72 509.70,68.04 509.95,68.37 510.19,68.69 510.43,69.01 510.67,69.33 510.91,69.66 511.16,69.98 511.40,70.29 511.64,70.61 511.88,70.93 512.13,71.24 512.37,71.56 512.61,71.87 512.85,72.19 513.09,72.50 513.34,72.81 513.58,73.12 513.82,73.43 514.06,73.73 514.31,74.04 514.55,74.34 514.79,74.65 515.03,74.95 515.27,75.25 515.52,75.55 515.76,75.85 516.00,76.14 516.24,76.44 516.49,76.73 516.73,77.03 516.97,77.32 517.21,77.61 517.46,77.90 517.70,78.18 517.94,78.47 518.18,78.75 518.42,79.03 518.67,79.32 518.91,79.59 519.15,79.87 519.39,80.15 519.64,80.42 519.88,80.70 520.12,80.97 520.36,81.24 520.60,81.51 520.85,81.77 521.09,82.04 521.33,82.30 521.57,82.56 521.82,82.82 522.06,83.08 522.30,83.34 522.54,83.59 522.79,83.85 523.03,84.10 523.27,84.35 523.51,84.60 523.75,84.85 524.00,85.09 524.24,85.33 524.48,85.57 524.72,85.81 524.97,86.05 525.21,86.29 525.45,86.52 525.69,86.76 525.93,86.99 526.18,87.22 526.42,87.44 526.66,87.67 526.90,87.89 527.15,88.11 527.39,88.34 527.63,88.55 527.87,88.77 528.12,88.99 528.36,89.20 528.60,89.41 528.84,89.62 529.08,89.83 529.33,90.03 529.57,90.24 529.81,90.44 530.05,90.64 530.30,90.84 530.54,91.04 530.78,91.23 531.02,91.43 531.26,91.62 531.51,91.81 531.75,92.00 531.99,92.19 532.23,92.37 532.48,92.55 532.72,92.74 532.96,92.92 533.20,93.09 533.45,93.27 533.69,93.45 533.93,93.62 534.17,93.79 534.41,93.96 534.66,94.13 534.90,94.29 535.14,94.46 535.38,94.62 535.63,94.78 535.87,94.94 536.11,95.10 536.35,95.26 536.59,95.41 536.84,95.56 537.08,95.71 537.32,95.86 537.56,96.01 537.81,96.16 538.05,96.30 538.29,96.45 538.53,96.59 538.78,96.73 539.02,96.87 539.26,97.01 539.50,97.14 539.74,97.27 539.99,97.41 540.23,97.54 540.47,97.67 540.71,97.80 540.96,97.92 541.20,98.05 541.44,98.17 541.68,98.29 541.92,98.41 542.17,98.53 542.41,98.65 542.65,98.77 542.89,98.88 543.14,99.00 543.38,99.11 543.62,99.22 543.86,99.33 544.11,99.44 544.35,99.54 544.59,99.65 544.83,99.75 545.07,99.86 545.32,99.96 545.56,100.06 545.80,100.16 546.04,100.25 546.29,100.35 546.53,100.44 546.77,100.54 547.01,100.63 547.25,100.72 547.50,100.81 547.74,100.90 547.98,100.99 548.22,101.08 548.47,101.16 548.71,101.25 548.95,101.33 549.19,101.41 549.43,101.49 549.68,101.57 549.92,101.65 550.16,101.73 550.40,101.80 550.65,101.88 550.89,101.95 551.13,102.03 551.37,102.10 551.62,102.17 551.86,102.24 552.10,102.31 552.34,102.38 552.58,102.45 552.83,102.51 553.07,102.58 553.31,102.64 553.55,102.71 553.80,102.77 554.04,102.83 554.28,102.89 554.52,102.95 554.76,103.01 555.01,103.07 555.25,103.12 555.49,103.18 555.73,103.24 555.98,103.29 556.22,103.35 556.46,103.40 556.70,103.45 556.95,103.50 557.19,103.55 557.43,103.60 557.67,103.65 557.91,103.70 558.16,103.75 558.40,103.79 558.64,103.84 558.88,103.88 559.13,103.93 559.37,103.97 559.61,104.02 559.85,104.06 560.09,104.10 560.34,104.14 560.58,104.18 560.82,104.22 561.06,104.26 561.31,104.30 561.55,104.34 561.79,104.37 562.03,104.41 562.28,104.45 562.52,104.48 562.76,104.52 563.00,104.55 563.24,104.58 563.49,104.62 563.73,104.65 563.97,104.68 564.21,104.71 564.46,104.74 564.70,104.78 564.94,104.80 565.18,104.83 565.42,104.86 565.67,104.89 565.91,104.92 566.15,104.95 566.39,104.97 566.64,105.00 566.88,105.03 567.12,105.05 567.36,105.08 567.61,105.10 567.85,105.13 568.09,105.15 568.33,105.17 568.57,105.20 568.82,105.22 569.06,105.24 569.30,105.26 569.54,105.28 569.79,105.30 570.03,105.33 570.27,105.35 570.51,105.37 570.75,105.39 571.00,105.40 571.24,105.42 571.48,105.44 571.72,105.46 571.97,105.48 572.21,105.50 572.45,105.51 572.69,105.53 572.94,105.55 573.18,105.56 573.42,105.58 573.66,105.59 573.90,105.61 574.15,105.62 574.39,105.64 574.63,105.65 574.87,105.67 575.12,105.68 575.36,105.70 575.60,105.71" fill="none" stroke="#ffaa2a" stroke-width="1.0" stroke-linejoin="round"/>
<polyline points="357.80,106.55 358.04,106.55 358.28,106.55 358.53,106.55 358.77,106.55 359.01,106.55 359.25,106.55 359.50,106.55 359.74,106.54 359.98,106.54 360.22,106.54 360.46,106.54 360.71,106.54 360.95,106.54 361.19,106.54 361.43,106.54 361.68,106.54 361.92,106.54 362.16,106.54 362.40,106.54 362.65,106.54 362.89,106.54 363.13,106.54 363.37,106.54 363.61,106.54 363.86,106.54 364.10,106.54 364.34,106.54 364.58,106.54 364.83,106.54 365.07,106.54 365.31,106.54 365.55,106.54 365.79,106.54 366.04,106.54 366.28,106.54 366.52,106.54 366.76,106.54 367.01,106.54 367.25,106.54 367.49,106.54 367.73,106.54 367.98,106.54 368.22,106.54 368.46,106.54 368.70,106.54 368.94,106.54 369.19,106.54 369.43,106.54 369.67,106.54 369.91,106.54 370.16,106.54 370.40,106.54 370.64,106.54 370.88,106.54 371.12,106.54 371.37,106.54 371.61,106.54 371.85,106.54 372.09,106.54 372.34,106.54 372.58,106.54 372.82,106.53 373.06,106.53 373.31,106.53 373.55,106.53 373.79,106.53 374.03,106.53 374.27,106.53 374.52,106.53 374.76,106.53 375.00,106.53 375.24,106.53 375.49,106.53 375.73,106.53 375.97,106.53 376.21,106.53 376.45,106.53 376.70,106.53 376.94,106.53 377.18,106.53 377.42,106.53 377.67,106.53 377.91,106.53 378.15,106.53 378.39,106.53 378.64,106.53 378.88,106.53 379.12,106.53 379.36,106.53 379.60,106.53 379.85,106.53 380.09,106.53 380.33,106.53 380.57,106.53 380.82,106.53 381.06,106.53 381.30,106.53 381.54,106.53 381.78,106.53 382.03,106.53 382.27,106.53 382.51,106.53 382.75,106.53 383.00,106.53 383.24,106.52 383.48,106.52 383.72,106.52 383.97,106.52 384.21,106.52 384.45,106.52 384.69,106.52 384.93,106.52 385.18,106.52 385.42,106.52 385.66,106.52 385.90,106.52 386.15,106.52 386.39,106.52 386.63,106.52 386.87,106.52 387.11,106.52 387.36,106.52 387.60,106.52 387.84,106.52 388.08,106.52 388.33,106.52 388.57,106.52 388.81,106.52 389.05,106.52 389.29,106.52 389.54,106.52 389.78,106.52 390.02,106.52 390.26,106.52 390.51,106.52 390.75,106.52 390.99,106.52 391.23,106.52 391.48,106.52 391.72,106.51 391.96,106.51 392.20,106.51 392.44,106.51 392.69,106.51 392.93,106.51 393.17,106.51 393.41,106.51 393.66,106.51 393.90,106.51 394.14,106.51 394.38,106.51 394.62,106.51 394.87,106.51 395.11,106.51 395.35,106.51 395.59,106.51 395.84,106.51 396.08,106.51 396.32,106.51 396.56,106.51 396.81,106.51 397.05,106.51 397.29,106.51 397.53,106.51 397.77,106.51 398.02,106.51 398.26,106.51 398.50,106.51 398.74,106.50 398.99,106.50 399.23,106.50 399.47,106.50 399.71,106.50 399.95,106.50 400.20,106.50 400.44,106.50 400.68,106.50 400.92,106.50 401.17,106.50 401.41,106.50 401.65,106.50 401.89,106.50 402.14,106.50 402.38,106.50 402.62,106.50 402.86,106.50 403.10,106.50 403.35,106.50 403.59,106.50 403.83,106.50 404.07,106.50 404.32,106.50 404.56,106.50 404.80,106.49 405.04,106.49 405.28,106.49 405.53,106.49 405.77,106.49 406.01,106.49 406.25,106.49 406.50,106.49 406.74,106.49 406.98,106.49 407.22,106.49 407.47,106.49 407.71,106.49 407.95,106.49 408.19,106.49 408.43,106.49 408.68,106.49 408.92,106.49 409.16,106.49 409.40,106.49 409.65,106.49 409.89,106.49 410.13,106.48 410.37,106.48 410.61,106.48 410.86,106.48 411.10,106.48 411.34,106.48 411.58,106.48 411.83,106.48 412.07,106.48 412.31,106.48 412.55,106.48 412.80,106.48 413.04,106.48 413.28,106.48 413.52,106.48 413.76,106.48 414.01,106.48 414.25,106.48 414.49,106.48 414.73,106.47 414.98,106.47 415.22,106.47 415.46,106.47 415.70,106.47 415.94,106.47 416.19,106.47 416.43,106.47 416.67,106.47 416.91,106.47 417.16,106.47 417.40,106.47 417.64,106.47 417.88,106.47 418.13,106.47 418.37,106.47 418.61,106.47 418.85,106.46 419.09,106.46 419.34,106.46 419.58,106.46 419.82,106.46 420.06,106.46 420.31,106.46 420.55,106.46 420.79,106.46 421.03,106.46 421.27,106.46 421.52,106.46 421.76,106.46 422.00,106.46 422.24,106.46 422.49,106.45 422.73,106.45 422.97,106.45 423.21,106.45 423.45,106.45 423.70,106.45 423.94,106.45 424.18,106.45 424.42,106.45 424.67,106.45 424.91,106.45 425.15,106.45 425.39,106.45 425.64,106.44 425.88,106.44 426.12,106.44 426.36,106.44 426.60,106.44 426.85,106.44 427.09,106.44 427.33,106.44 427.57,106.44 427.82,106.44 428.06,106.44 428.30,106.44 428.54,106.44 428.78,106.43 429.03,106.43 429.27,106.43 429.51,106.43 429.75,106.43 430.00,106.43 430.24,106.43 430.48,106.43 430.72,106.43 430.97,106.43 431.21,106.43 431.45,106.42 431.69,106.42 431.93,106.42 432.18,106.42 432.42,106.42 432.66,106.42 432.90,106.42 433.15,106.42 433.39,106.42 433.63,106.42 433.87,106.41 434.11,106.41 434.36,106.41 434.60,106.41 434.84,106.41 435.08,106.41 435.33,106.41 435.57,106.41 435.81,106.41 436.05,106.41 436.30,106.40 436.54,106.40 436.78,106.40 437.02,106.40 437.26,106.40 437.51,106.40 437.75,106.40 437.99,106.40 438.23,106.40 438.48,106.39 438.72,106.39 438.96,106.39 439.20,106.39 439.44,106.39 439.69,106.39 439.93,106.39 440.17,106.39 440.41,106.38 440.66,106.38 440.90,106.38 441.14,106.38 441.38,106.38 441.63,106.38 441.87,106.38 442.11,106.38 442.35,106.37 442.59,106.37 442.84,106.37 443.08,106.37 443.32,106.37 443.56,106.37 443.81,106.37 444.05,106.36 444.29,106.36 444.53,106.36 444.77,106.36 445.02,106.36 445.26,106.36 445.50,106.36 445.74,106.35 445.99,106.35 446.23,106.35 446.47,106.35 446.71,106.35 446.96,106.35 447.20,106.34 447.44,106.34 447.68,106.34 447.92,106.34 448.17,106.34 448.41,106.34 448.65,106.33 448.89,106.33 449.14,106.33 449.38,106.33 449.62,106.33 449.86,106.33 450.10,106.32 450.35,106.32 450.59,106.32 450.83,106.32 451.07,106.32 451.32,106.31 451.56,106.31 451.80,106.31 452.04,106.31 452.28,106.31 452.53,106.30 452.77,106.30 453.01,106.30 453.25,106.30 453.50,106.30 453.74,106.29 453.98,106.29 454.22,106.29 454.47,106.29 454.71,106.29 454.95,106.28 455.19,106.28 455.43,106.28 455.68,106.28 455.92,106.27 456.16,106.27 456.40,106.27 456.65,106.27 456.89,106.26 457.13,106.26 457.37,106.26 457.61,106.26 457.86,106.25 458.10,106.25 458.34,106.25 458.58,106.25 458.83,106.24 459.07,106.24 459.31,106.24 459.55,106.24 459.80,106.23 460.04,106.23 460.28,106.23 460.52,106.22 460.76,106.22 461.01,106.22 461.25,106.22 461.49,106.21 461.73,106.21 461.98,106.21 462.22,106.20 462.46,106.20 462.70,106.20 462.94,106.19 463.19,106.19 463.43,106.19 463.67,106.18 463.91,106.18 464.16,106.18 464.40,106.17 464.64,106.17 464.88,106.17 465.13,106.16 465.37,106.16 465.61,106.16 465.85,106.15 466.09,106.15 466.34,106.14 466.58,106.14 466.82,106.14 467.06,106.13 467.31,106.13 467.55,106.12 467.79,106.12 468.03,106.12 468.27,106.11 468.52,106.11 468.76,106.10 469.00,106.10 469.24,106.09 469.49,106.09 469.73,106.08 469.97,106.08 470.21,106.08 470.46,106.07 470.70,106.07 470.94,106.06 471.18,106.06 471.42,106.05 471.67,106.05 471.91,106.04 472.15,106.03 472.39,106.03 472.64,106.02 472.88,106.02 473.12,106.01 473.36,106.01 473.60,106.00 473.85,106.00 474.09,105.99 474.33,105.98 474.57,105.98 474.82,105.97 475.06,105.97 475.30,105.96 475.54,105.95 475.79,105.95 476.03,105.94 476.27,105.93 476.51,105.93 476.75,105.92 477.00,105.91 477.24,105.90 477.48,105.90 477.72,105.89 477.97,105.88 478.21,105.87 478.45,105.87 478.69,105.86 478.93,105.85 479.18,105.84 479.42,105.83 479.66,105.83 479.90,105.82 480.15,105.81 480.39,105.80 480.63,105.79 480.87,105.78 481.12,105.77 481.36,105.76 481.60,105.75 481.84,105.74 482.08,105.73 482.33,105.72 482.57,105.71 482.81,105.70 483.05,105.69 483.30,105.68 483.54,105.67 483.78,105.66 484.02,105.65 484.26,105.64 484.51,105.62 484.75,105.61 484.99,105.60 485.23,105.59 485.48,105.57 485.72,105.56 485.96,105.55 486.20,105.54 486.44,105.52 486.69,105.51 486.93,105.49 487.17,105.48 487.41,105.46 487.66,105.45 487.90,105.43 488.14,105.42 488.38,105.40 488.63,105.39 488.87,105.37 489.11,105.35 489.35,105.33 489.59,105.32 489.84,105.30 490.08,105.28 490.32,105.26 490.56,105.24 490.81,105.22 491.05,105.20 491.29,105.18 491.53,105.16 491.77,105.14 492.02,105.12 492.26,105.09 492.50,105.07 492.74,105.04 492.99,105.02 493.23,105.00 493.47,104.97 493.71,104.94 493.96,104.92 494.20,104.89 494.44,104.86 494.68,104.83 494.92,104.80 495.17,104.77 495.41,104.73 495.65,104.70 495.89,104.66 496.14,104.63 496.38,104.59 496.62,104.55 496.86,104.51 497.10,104.47 497.35,104.42 497.59,104.38 497.83,104.33 498.07,104.28 498.32,104.23 498.56,104.17 498.80,104.12 499.04,104.05 499.29,103.99 499.53,103.92 499.77,103.85 500.01,103.78 500.25,103.70 500.50,103.61 500.74,103.53 500.98,103.43 501.22,103.33 501.47,103.22 501.71,103.11 501.95,102.99 502.19,102.86 502.43,102.73 502.68,102.58 502.92,102.43 503.16,102.26 503.40,102.09 503.65,101.90 503.89,101.70 504.13,101.49 504.37,101.26 504.62,101.02 504.86,100.76 505.10,100.49 505.34,100.20 505.58,99.89 505.83,99.56 506.07,99.21 506.31,98.84 506.55,98.44 506.80,98.02 507.04,97.58 507.28,97.11 507.52,96.62 507.76,96.09 508.01,95.54 508.25,94.96 508.49,94.34 508.73,93.70 508.98,93.02 509.22,92.31 509.46,91.56 509.70,90.78 509.95,89.96 510.19,89.11 510.43,88.21 510.67,87.28 510.91,86.32 511.16,85.31 511.40,84.27 511.64,83.19 511.88,82.07 512.13,80.91 512.37,79.72 512.61,78.49 512.85,77.22 513.09,75.93 513.34,74.59 513.58,73.23 513.82,71.83 514.06,70.41 514.31,68.96 514.55,67.48 514.79,65.99 515.03,64.47 515.27,62.94 515.52,61.39 515.76,59.83 516.00,58.26 516.24,56.69 516.49,55.13 516.73,53.56 516.97,52.00 517.21,50.46 517.46,48.93 517.70,47.43 517.94,45.95 518.18,44.51 518.42,43.10 518.67,41.74 518.91,40.43 519.15,39.17 519.39,37.97 519.64,36.84 519.88,35.78 520.12,34.80 520.36,33.90 520.60,33.09 520.85,32.37 521.09,31.75 521.33,31.23 521.57,30.81 521.82,30.50 522.06,30.30 522.30,30.21 522.54,30.22 522.79,30.34 523.03,30.56 523.27,30.88 523.51,31.30 523.75,31.82 524.00,32.43 524.24,33.14 524.48,33.93 524.72,34.81 524.97,35.76 525.21,36.80 525.45,37.91 525.69,39.08 525.93,40.32 526.18,41.62 526.42,42.97 526.66,44.37 526.90,45.81 527.15,47.29 527.39,48.80 527.63,50.35 527.87,51.91 528.12,53.50 528.36,55.10 528.60,56.71 528.84,58.33 529.08,59.94 529.33,61.56 529.57,63.17 529.81,64.77 530.05,66.35 530.30,67.92 530.54,69.47 530.78,71.00 531.02,72.50 531.26,73.97 531.51,75.41 531.75,76.82 531.99,78.20 532.23,79.54 532.48,80.84 532.72,82.11 532.96,83.34 533.20,84.52 533.45,85.67 533.69,86.78 533.93,87.84 534.17,88.87 534.41,89.85 534.66,90.79 534.90,91.69 535.14,92.55 535.38,93.37 535.63,94.16 535.87,94.90 536.11,95.61 536.35,96.28 536.59,96.91 536.84,97.51 537.08,98.08 537.32,98.61 537.56,99.12 537.81,99.59 538.05,100.04 538.29,100.46 538.53,100.85 538.78,101.21 539.02,101.56 539.26,101.88 539.50,102.18 539.74,102.46 539.99,102.72 540.23,102.96 540.47,103.18 540.71,103.39 540.96,103.59 541.20,103.77 541.44,103.93 541.68,104.09 541.92,104.23 542.17,104.36 542.41,104.48 542.65,104.59 542.89,104.70 543.14,104.79 543.38,104.88 543.62,104.96 543.86,105.04 544.11,105.11 544.35,105.17 544.59,105.23 544.83,105.29 545.07,105.34 545.32,105.39 545.56,105.43 545.80,105.47 546.04,105.51 546.29,105.54 546.53,105.58 546.77,105.61 547.01,105.64 547.25,105.66 547.50,105.69 547.74,105.71 547.98,105.73 548.22,105.75 548.47,105.77 548.71,105.79 548.95,105.81 549.19,105.83 549.43,105.84 549.68,105.86 549.92,105.87 550.16,105.88 550.40,105.90 550.65,105.91 550.89,105.92 551.13,105.93 551.37,105.95 551.62,105.96 551.86,105.97 552.10,105.98 552.34,105.99 552.58,106.00 552.83,106.01 553.07,106.02 553.31,106.02 553.55,106.03 553.80,106.04 554.04,106.05 554.28,106.06 554.52,106.07 554.76,106.07 555.01,106.08 555.25,106.09 555.49,106.10 555.73,106.10 555.98,106.11 556.22,106.12 556.46,106.12 556.70,106.13 556.95,106.14 557.19,106.14 557.43,106.15 557.67,106.15 557.91,106.16 558.16,106.16 558.40,106.17 558.64,106.18 558.88,106.18 559.13,106.19 559.37,106.19 559.61,106.20 559.85,106.20 560.09,106.21 560.34,106.21 560.58,106.22 560.82,106.22 561.06,106.23 561.31,106.23 561.55,106.23 561.79,106.24 562.03,106.24 562.28,106.25 562.52,106.25 562.76,106.25 563.00,106.26 563.24,106.26 563.49,106.27 563.73,106.27 563.97,106.27 564.21,106.28 564.46,106.28 564.70,106.28 564.94,106.29 565.18,106.29 565.42,106.29 565.67,106.30 565.91,106.30 566.15,106.30 566.39,106.31 566.64,106.31 566.88,106.31 567.12,106.32 567.36,106.32 567.61,106.32 567.85,106.33 568.09,106.33 568.33,106.33 568.57,106.33 568.82,106.34 569.06,106.34 569.30,106.34 569.54,106.34 569.79,106.35 570.03,106.35 570.27,106.35 570.51,106.35 570.75,106.36 571.00,106.36 571.24,106.36 571.48,106.36 571.72,106.37 571.97,106.37 572.21,106.37 572.45,106.37 572.69,106.37 572.94,106.38 573.18,106.38 573.42,106.38 573.66,106.38 573.90,106.38 574.15,106.39 574.39,106.39 574.63,106.39 574.87,106.39 575.12,106.39 575.36,106.40 575.60,106.40" fill="none" stroke="#ee2a2a" stroke-width="1.0" stroke-linejoin="round"/>
<line x1="575.60" y1="6.60" x2="575.60" y2="115.20" stroke="#8a8a8a" stroke-width="1.3"/>
<line x1="357.80" y1="6.60" x2="575.60" y2="6.60" stroke="#222" stroke-width="1.2"/>
<line x1="357.80" y1="6.60" x2="357.80" y2="115.80" stroke="#222" stroke-width="1.2"/>
<line x1="357.20" y1="115.20" x2="576.20" y2="115.20" stroke="#333" stroke-width="1.2"/>
<line x1="575.60" y1="115.20" x2="575.60" y2="110.70" stroke="#222" stroke-width="1.2"/>
<line x1="430.40" y1="115.20" x2="430.40" y2="110.70" stroke="#333" stroke-width="1"/>
<line x1="430.40" y1="6.60" x2="430.40" y2="11.10" stroke="#333" stroke-width="1"/>
<line x1="503.00" y1="115.20" x2="503.00" y2="110.70" stroke="#333" stroke-width="1"/>
<line x1="503.00" y1="6.60" x2="503.00" y2="11.10" stroke="#333" stroke-width="1"/>
<line x1="357.80" y1="106.60" x2="362.80" y2="106.60" stroke="#555" stroke-width="1"/>
<line x1="575.60" y1="106.60" x2="570.60" y2="106.60" stroke="#555" stroke-width="1"/>
<line x1="357.80" y1="68.40" x2="362.80" y2="68.40" stroke="#555" stroke-width="1"/>
<line x1="575.60" y1="68.40" x2="570.60" y2="68.40" stroke="#555" stroke-width="1"/>
<line x1="357.80" y1="30.20" x2="362.80" y2="30.20" stroke="#555" stroke-width="1"/>
<line x1="575.60" y1="30.20" x2="570.60" y2="30.20" stroke="#555" stroke-width="1"/>
<text x="354.50" y="110.30" font-size="10.3" text-anchor="end" fill="#000">0.0</text>
<text x="354.50" y="72.10" font-size="10.3" text-anchor="end" fill="#000">0.5</text>
<text x="354.50" y="33.90" font-size="10.3" text-anchor="end" fill="#000">1.0</text>
<text x="356.40" y="126.80" font-size="10.3" text-anchor="middle" fill="#000">400</text>
<text x="429.00" y="126.80" font-size="10.3" text-anchor="middle" fill="#000">500</text>
<text x="501.60" y="126.80" font-size="10.3" text-anchor="middle" fill="#000">600</text>
<text x="574.20" y="126.80" font-size="10.3" text-anchor="middle" fill="#000">700</text>
<text x="467.40" y="140.70" font-size="15.1" text-anchor="middle" fill="#000">Wavelength (nm)</text>
<text x="332.40" y="62.60" font-size="15.5" text-anchor="middle" fill="#000" transform="rotate(-90 332.40 62.60)">Rel. Light intensity</text>
<text x="388.20" y="24.60" font-size="11.8" text-anchor="start" fill="#2a6ad8">460nm</text>
<text x="427.50" y="24.60" font-size="11.8" text-anchor="start" fill="#22b04a">520nm</text>
<text x="467.00" y="24.60" font-size="11.8" text-anchor="start" fill="#ff9a10">555nm</text>
<text x="509.80" y="24.60" font-size="11.8" text-anchor="start" fill="#ee1111">630nm</text>
<line x1="113.90" y1="134.60" x2="113.90" y2="359.60" stroke="#777" stroke-width="1.1"/>
<line x1="111.40" y1="359.10" x2="113.90" y2="359.10" stroke="#777" stroke-width="1.1"/>
<text x="111.50" y="359.70" font-size="15.2" text-anchor="end" fill="#000">0</text>
<line x1="111.40" y1="314.30" x2="113.90" y2="314.30" stroke="#777" stroke-width="1.1"/>
<text x="110.90" y="316.40" font-size="15.2" text-anchor="end" fill="#000">20</text>
<line x1="111.40" y1="269.50" x2="113.90" y2="269.50" stroke="#777" stroke-width="1.1"/>
<text x="110.50" y="272.20" font-size="15.2" text-anchor="end" fill="#000">40</text>
<line x1="111.40" y1="224.70" x2="113.90" y2="224.70" stroke="#777" stroke-width="1.1"/>
<text x="109.70" y="228.70" font-size="15.2" text-anchor="end" fill="#000">60</text>
<line x1="111.40" y1="179.90" x2="113.90" y2="179.90" stroke="#777" stroke-width="1.1"/>
<text x="109.20" y="185.10" font-size="15.2" text-anchor="end" fill="#000">80</text>
<line x1="111.40" y1="135.10" x2="113.90" y2="135.10" stroke="#777" stroke-width="1.1"/>
<text x="108.60" y="141.80" font-size="15.2" text-anchor="end" fill="#000">100</text>
<line x1="113.90" y1="359.20" x2="580.70" y2="359.20" stroke="#555" stroke-width="1.3"/>
<text x="76.20" y="233.60" font-size="15.5" text-anchor="middle" fill="#000" transform="rotate(-90 76.20 233.60)">Opening rate (%)</text>
<rect x="124.50" y="355.50" width="14.50" height="3.70" fill="#ffffff" stroke="#333" stroke-width="0.9"/>
<line x1="131.75" y1="353.40" x2="131.75" y2="357.50" stroke="#666" stroke-width="0.9"/>
<line x1="129.75" y1="353.40" x2="133.75" y2="353.40" stroke="#666" stroke-width="0.9"/>
<line x1="129.75" y1="357.50" x2="133.75" y2="357.50" stroke="#666" stroke-width="0.9"/>
<circle cx="135.50" cy="348.10" r="2.05" fill="none" stroke="#111" stroke-width="0.8"/>
<circle cx="128.40" cy="353.40" r="2.05" fill="none" stroke="#111" stroke-width="0.8"/>
<circle cx="128.20" cy="359.30" r="2.05" fill="none" stroke="#111" stroke-width="0.8"/>
<circle cx="131.90" cy="359.30" r="2.05" fill="none" stroke="#111" stroke-width="0.8"/>
<circle cx="135.50" cy="359.30" r="2.05" fill="none" stroke="#111" stroke-width="0.8"/>
<rect x="160.45" y="331.70" width="14.50" height="27.50" fill="#ffffff" stroke="#333" stroke-width="0.9"/>
<line x1="167.70" y1="328.50" x2="167.70" y2="335.00" stroke="#666" stroke-width="0.9"/>
<line x1="165.70" y1="328.50" x2="169.70" y2="328.50" stroke="#666" stroke-width="0.9"/>
<line x1="165.70" y1="335.00" x2="169.70" y2="335.00" stroke="#666" stroke-width="0.9"/>
<circle cx="171.50" cy="325.20" r="2.05" fill="none" stroke="#111" stroke-width="0.8"/>
<circle cx="167.60" cy="327.30" r="2.05" fill="none" stroke="#111" stroke-width="0.8"/>
<circle cx="164.50" cy="333.60" r="2.05" fill="none" stroke="#111" stroke-width="0.8"/>
<circle cx="171.50" cy="333.10" r="2.05" fill="none" stroke="#111" stroke-width="0.8"/>
<circle cx="164.50" cy="339.60" r="2.05" fill="none" stroke="#111" stroke-width="0.8"/>
<rect x="196.40" y="308.60" width="14.50" height="50.60" fill="#1a8cff" stroke="#333" stroke-width="0.9"/>
<line x1="203.65" y1="299.40" x2="203.65" y2="317.30" stroke="#666" stroke-width="0.9"/>
<line x1="201.65" y1="299.40" x2="205.65" y2="299.40" stroke="#666" stroke-width="0.9"/>
<line x1="201.65" y1="317.30" x2="205.65" y2="317.30" stroke="#666" stroke-width="0.9"/>
<circle cx="207.30" cy="284.50" r="2.05" fill="none" stroke="#111" stroke-width="0.8"/>
<circle cx="199.90" cy="294.40" r="2.05" fill="none" stroke="#111" stroke-width="0.8"/>
<circle cx="203.90" cy="304.90" r="2.05" fill="none" stroke="#111" stroke-width="0.8"/>
<circle cx="199.90" cy="329.90" r="2.05" fill="none" stroke="#111" stroke-width="0.8"/>
<circle cx="207.30" cy="329.40" r="2.05" fill="none" stroke="#111" stroke-width="0.8"/>
<rect x="232.35" y="344.10" width="14.50" height="15.10" fill="#11bb11" stroke="#333" stroke-width="0.9"/>
<line x1="239.60" y1="339.50" x2="239.60" y2="348.50" stroke="#666" stroke-width="0.9"/>
<line x1="237.60" y1="339.50" x2="241.60" y2="339.50" stroke="#666" stroke-width="0.9"/>
<line x1="237.60" y1="348.50" x2="241.60" y2="348.50" stroke="#666" stroke-width="0.9"/>
<circle cx="243.30" cy="331.70" r="2.05" fill="none" stroke="#111" stroke-width="0.8"/>
<circle cx="236.20" cy="339.60" r="2.05" fill="none" stroke="#111" stroke-width="0.8"/>
<circle cx="239.90" cy="347.00" r="2.05" fill="none" stroke="#111" stroke-width="0.8"/>
<circle cx="236.20" cy="351.40" r="2.05" fill="none" stroke="#111" stroke-width="0.8"/>
<circle cx="243.30" cy="350.10" r="2.05" fill="none" stroke="#111" stroke-width="0.8"/>
<rect x="268.30" y="350.10" width="14.50" height="9.10" fill="#ff9900" stroke="#333" stroke-width="0.9"/>
<line x1="275.55" y1="348.50" x2="275.55" y2="351.50" stroke="#666" stroke-width="0.9"/>
<line x1="273.55" y1="348.50" x2="277.55" y2="348.50" stroke="#666" stroke-width="0.9"/>
<line x1="273.55" y1="351.50" x2="277.55" y2="351.50" stroke="#666" stroke-width="0.9"/>
<circle cx="272.20" cy="349.30" r="2.05" fill="none" stroke="#111" stroke-width="0.8"/>
<circle cx="279.30" cy="348.30" r="2.05" fill="none" stroke="#111" stroke-width="0.8"/>
<circle cx="272.20" cy="352.00" r="2.05" fill="none" stroke="#111" stroke-width="0.8"/>
<circle cx="279.30" cy="351.50" r="2.05" fill="none" stroke="#111" stroke-width="0.8"/>
<circle cx="275.80" cy="350.50" r="2.05" fill="none" stroke="#111" stroke-width="0.8"/>
<rect x="304.25" y="350.10" width="14.50" height="9.10" fill="#ee0000" stroke="#333" stroke-width="0.9"/>
<line x1="311.50" y1="348.00" x2="311.50" y2="352.00" stroke="#666" stroke-width="0.9"/>
<line x1="309.50" y1="348.00" x2="313.50" y2="348.00" stroke="#666" stroke-width="0.9"/>
<line x1="309.50" y1="352.00" x2="313.50" y2="352.00" stroke="#666" stroke-width="0.9"/>
<circle cx="315.00" cy="342.30" r="2.05" fill="none" stroke="#111" stroke-width="0.8"/>
<circle cx="307.60" cy="349.30" r="2.05" fill="none" stroke="#111" stroke-width="0.8"/>
<circle cx="311.30" cy="350.50" r="2.05" fill="none" stroke="#111" stroke-width="0.8"/>
<circle cx="307.60" cy="353.60" r="2.05" fill="none" stroke="#111" stroke-width="0.8"/>
<circle cx="315.00" cy="353.60" r="2.05" fill="none" stroke="#111" stroke-width="0.8"/>
<text x="140.05" y="369.20" font-size="15.2" text-anchor="end" fill="#000" transform="rotate(-59.3 140.05 369.20)">Control</text>
<text x="173.80" y="370.20" font-size="15.2" text-anchor="end" fill="#000" transform="rotate(-59.3 173.80 370.20)">Artificial sunlight</text>
<text x="209.75" y="370.20" font-size="15.2" text-anchor="end" fill="#1e90ff" transform="rotate(-59.3 209.75 370.20)">Blue</text>
<text x="245.70" y="370.20" font-size="15.2" text-anchor="end" fill="#22cc22" transform="rotate(-59.3 245.70 370.20)">Green</text>
<text x="281.65" y="370.20" font-size="15.2" text-anchor="end" fill="#ff9a1e" transform="rotate(-59.3 281.65 370.20)">Yellow</text>
<text x="317.60" y="370.20" font-size="15.2" text-anchor="end" fill="#ff1111" transform="rotate(-59.3 317.60 370.20)">Red</text>
<rect x="376.50" y="343.40" width="14.50" height="15.80" fill="#ffffff" stroke="#333" stroke-width="0.9"/>
<line x1="383.75" y1="339.00" x2="383.75" y2="347.50" stroke="#666" stroke-width="0.9"/>
<line x1="381.75" y1="339.00" x2="385.75" y2="339.00" stroke="#666" stroke-width="0.9"/>
<line x1="381.75" y1="347.50" x2="385.75" y2="347.50" stroke="#666" stroke-width="0.9"/>
<circle cx="387.00" cy="331.40" r="2.05" fill="none" stroke="#111" stroke-width="0.8"/>
<circle cx="379.90" cy="341.10" r="2.05" fill="none" stroke="#111" stroke-width="0.8"/>
<circle cx="383.10" cy="341.70" r="2.05" fill="none" stroke="#111" stroke-width="0.8"/>
<circle cx="387.00" cy="347.20" r="2.05" fill="none" stroke="#111" stroke-width="0.8"/>
<circle cx="379.90" cy="356.50" r="2.05" fill="none" stroke="#111" stroke-width="0.8"/>
<rect x="412.40" y="298.40" width="14.50" height="60.80" fill="#ffffff" stroke="#333" stroke-width="0.9"/>
<line x1="419.65" y1="289.70" x2="419.65" y2="306.40" stroke="#666" stroke-width="0.9"/>
<line x1="417.65" y1="289.70" x2="421.65" y2="289.70" stroke="#666" stroke-width="0.9"/>
<line x1="417.65" y1="306.40" x2="421.65" y2="306.40" stroke="#666" stroke-width="0.9"/>
<circle cx="422.90" cy="271.70" r="2.05" fill="none" stroke="#111" stroke-width="0.8"/>
<circle cx="415.60" cy="286.10" r="2.05" fill="none" stroke="#111" stroke-width="0.8"/>
<circle cx="419.40" cy="300.00" r="2.05" fill="none" stroke="#111" stroke-width="0.8"/>
<circle cx="415.60" cy="318.60" r="2.05" fill="none" stroke="#111" stroke-width="0.8"/>
<circle cx="422.90" cy="316.00" r="2.05" fill="none" stroke="#111" stroke-width="0.8"/>
<rect x="448.30" y="300.30" width="14.50" height="58.90" fill="#1a8cff" stroke="#333" stroke-width="0.9"/>
<line x1="455.55" y1="294.20" x2="455.55" y2="309.00" stroke="#666" stroke-width="0.9"/>
<line x1="453.55" y1="294.20" x2="457.55" y2="294.20" stroke="#666" stroke-width="0.9"/>
<line x1="453.55" y1="309.00" x2="457.55" y2="309.00" stroke="#666" stroke-width="0.9"/>
<circle cx="459.20" cy="279.70" r="2.05" fill="none" stroke="#111" stroke-width="0.8"/>
<circle cx="451.80" cy="289.00" r="2.05" fill="none" stroke="#111" stroke-width="0.8"/>
<circle cx="455.40" cy="291.30" r="2.05" fill="none" stroke="#111" stroke-width="0.8"/>
<circle cx="451.80" cy="321.50" r="2.05" fill="none" stroke="#111" stroke-width="0.8"/>
<circle cx="459.20" cy="320.20" r="2.05" fill="none" stroke="#111" stroke-width="0.8"/>
<rect x="484.20" y="306.70" width="14.50" height="52.50" fill="#11bb11" stroke="#333" stroke-width="0.9"/>
<line x1="491.45" y1="295.80" x2="491.45" y2="316.00" stroke="#666" stroke-width="0.9"/>
<line x1="489.45" y1="295.80" x2="493.45" y2="295.80" stroke="#666" stroke-width="0.9"/>
<line x1="489.45" y1="316.00" x2="493.45" y2="316.00" stroke="#666" stroke-width="0.9"/>
<circle cx="494.90" cy="264.60" r="2.05" fill="none" stroke="#111" stroke-width="0.8"/>
<circle cx="487.80" cy="306.40" r="2.05" fill="none" stroke="#111" stroke-width="0.8"/>
<circle cx="491.30" cy="315.40" r="2.05" fill="none" stroke="#111" stroke-width="0.8"/>
<circle cx="494.90" cy="320.20" r="2.05" fill="none" stroke="#111" stroke-width="0.8"/>
<circle cx="487.80" cy="326.30" r="2.05" fill="none" stroke="#111" stroke-width="0.8"/>
<rect x="520.10" y="313.80" width="14.50" height="45.40" fill="#ff9900" stroke="#333" stroke-width="0.9"/>
<line x1="527.35" y1="306.40" x2="527.35" y2="320.80" stroke="#666" stroke-width="0.9"/>
<line x1="525.35" y1="306.40" x2="529.35" y2="306.40" stroke="#666" stroke-width="0.9"/>
<line x1="525.35" y1="320.80" x2="529.35" y2="320.80" stroke="#666" stroke-width="0.9"/>
<circle cx="523.50" cy="299.30" r="2.05" fill="none" stroke="#111" stroke-width="0.8"/>
<circle cx="530.80" cy="299.00" r="2.05" fill="none" stroke="#111" stroke-width="0.8"/>
<circle cx="527.00" cy="312.20" r="2.05" fill="none" stroke="#111" stroke-width="0.8"/>
<circle cx="530.80" cy="319.20" r="2.05" fill="none" stroke="#111" stroke-width="0.8"/>
<circle cx="523.50" cy="339.10" r="2.05" fill="none" stroke="#111" stroke-width="0.8"/>
<rect x="556.00" y="339.40" width="14.50" height="19.80" fill="#ee0000" stroke="#333" stroke-width="0.9"/>
<line x1="563.25" y1="333.50" x2="563.25" y2="346.30" stroke="#666" stroke-width="0.9"/>
<line x1="561.25" y1="333.50" x2="565.25" y2="333.50" stroke="#666" stroke-width="0.9"/>
<line x1="561.25" y1="346.30" x2="565.25" y2="346.30" stroke="#666" stroke-width="0.9"/>
<circle cx="563.20" cy="321.60" r="2.05" fill="none" stroke="#111" stroke-width="0.8"/>
<circle cx="559.40" cy="330.60" r="2.05" fill="none" stroke="#111" stroke-width="0.8"/>
<circle cx="563.40" cy="333.50" r="2.05" fill="none" stroke="#111" stroke-width="0.8"/>
<circle cx="566.70" cy="353.20" r="2.05" fill="none" stroke="#111" stroke-width="0.8"/>
<circle cx="559.70" cy="359.30" r="2.05" fill="none" stroke="#111" stroke-width="0.8"/>
<text x="389.65" y="370.40" font-size="15.2" text-anchor="end" fill="#000" transform="rotate(-59.3 389.65 370.40)">Control</text>
<text x="423.35" y="371.20" font-size="15.2" text-anchor="end" fill="#000" transform="rotate(-59.3 423.35 371.20)">Artificial sunlight</text>
<text x="456.45" y="370.20" font-size="15.2" text-anchor="end" fill="#1e90ff" transform="rotate(-59.3 456.45 370.20)">Blue</text>
<text x="495.15" y="370.20" font-size="15.2" text-anchor="end" fill="#22cc22" transform="rotate(-59.3 495.15 370.20)">Green</text>
<text x="532.35" y="370.20" font-size="15.2" text-anchor="end" fill="#ff9a1e" transform="rotate(-59.3 532.35 370.20)">Yellow</text>
<text x="568.65" y="370.20" font-size="15.2" text-anchor="end" fill="#ff1111" transform="rotate(-59.3 568.65 370.20)">Red</text>
<line x1="135.90" y1="210.60" x2="308.90" y2="210.60" stroke="#777" stroke-width="1"/>
<text x="217.90" y="208.10" font-size="12" text-anchor="middle" fill="#000">n.s.</text>
<line x1="135.90" y1="228.40" x2="268.00" y2="228.40" stroke="#777" stroke-width="1"/>
<text x="201.80" y="225.90" font-size="12" text-anchor="middle" fill="#000">n.s.</text>
<line x1="135.90" y1="246.90" x2="232.10" y2="246.90" stroke="#777" stroke-width="1"/>
<text x="179.70" y="244.40" font-size="12" text-anchor="middle" fill="#000">n.s.</text>
<line x1="135.90" y1="264.40" x2="203.10" y2="264.40" stroke="#777" stroke-width="1"/>
<path d="M163.00,260.20 L163.50,257.35 L161.90,257.35 L162.40,260.20 Z M162.79,260.49 L165.66,260.08 L165.16,258.56 L162.61,259.91 Z M162.46,260.38 L163.73,262.98 L165.02,262.04 L162.94,260.02 Z M162.46,260.02 L160.38,262.04 L161.67,262.98 L162.94,260.38 Z M162.79,259.91 L160.24,258.56 L159.74,260.08 L162.61,260.49 Z" fill="#000" stroke="#000" stroke-width="0.4" stroke-linejoin="round"/>
<path d="M171.20,260.20 L171.70,257.35 L170.10,257.35 L170.60,260.20 Z M170.99,260.49 L173.86,260.08 L173.36,258.56 L170.81,259.91 Z M170.66,260.38 L171.93,262.98 L173.22,262.04 L171.14,260.02 Z M170.66,260.02 L168.58,262.04 L169.87,262.98 L171.14,260.38 Z M170.99,259.91 L168.44,258.56 L167.94,260.08 L170.81,260.49 Z" fill="#000" stroke="#000" stroke-width="0.4" stroke-linejoin="round"/>
<line x1="135.90" y1="280.60" x2="165.70" y2="280.60" stroke="#777" stroke-width="1"/>
<path d="M146.80,276.40 L147.30,273.55 L145.70,273.55 L146.20,276.40 Z M146.59,276.69 L149.46,276.28 L148.96,274.76 L146.41,276.11 Z M146.26,276.58 L147.53,279.18 L148.82,278.24 L146.74,276.22 Z M146.26,276.22 L144.18,278.24 L145.47,279.18 L146.74,276.58 Z M146.59,276.11 L144.04,274.76 L143.54,276.28 L146.41,276.69 Z" fill="#000" stroke="#000" stroke-width="0.4" stroke-linejoin="round"/>
<path d="M155.00,276.40 L155.50,273.55 L153.90,273.55 L154.40,276.40 Z M154.79,276.69 L157.66,276.28 L157.16,274.76 L154.61,276.11 Z M154.46,276.58 L155.73,279.18 L157.02,278.24 L154.94,276.22 Z M154.46,276.22 L152.38,278.24 L153.67,279.18 L154.94,276.58 Z M154.79,276.11 L152.24,274.76 L151.74,276.28 L154.61,276.69 Z" fill="#000" stroke="#000" stroke-width="0.4" stroke-linejoin="round"/>
<line x1="390.50" y1="184.30" x2="563.80" y2="184.30" stroke="#777" stroke-width="1"/>
<text x="487.00" y="181.80" font-size="12" text-anchor="middle" fill="#000">n.s.</text>
<line x1="390.50" y1="202.10" x2="523.50" y2="202.10" stroke="#777" stroke-width="1"/>
<text x="457.70" y="199.60" font-size="12" text-anchor="middle" fill="#000">n.s.</text>
<line x1="390.50" y1="219.60" x2="487.60" y2="219.60" stroke="#777" stroke-width="1"/>
<path d="M437.20,215.40 L437.70,212.55 L436.10,212.55 L436.60,215.40 Z M436.99,215.69 L439.86,215.28 L439.36,213.76 L436.81,215.11 Z M436.66,215.58 L437.93,218.18 L439.22,217.24 L437.14,215.22 Z M436.66,215.22 L434.58,217.24 L435.87,218.18 L437.14,215.58 Z M436.99,215.11 L434.44,213.76 L433.94,215.28 L436.81,215.69 Z" fill="#000" stroke="#000" stroke-width="0.4" stroke-linejoin="round"/>
<line x1="390.50" y1="237.40" x2="456.90" y2="237.40" stroke="#777" stroke-width="1"/>
<path d="M422.30,233.20 L422.80,230.35 L421.20,230.35 L421.70,233.20 Z M422.09,233.49 L424.96,233.08 L424.46,231.56 L421.91,232.91 Z M421.76,233.38 L423.03,235.98 L424.32,235.04 L422.24,233.02 Z M421.76,233.02 L419.68,235.04 L420.97,235.98 L422.24,233.38 Z M422.09,232.91 L419.54,231.56 L419.04,233.08 L421.91,233.49 Z" fill="#000" stroke="#000" stroke-width="0.4" stroke-linejoin="round"/>
<line x1="390.50" y1="255.40" x2="411.80" y2="255.40" stroke="#777" stroke-width="1"/>
<path d="M397.20,251.20 L397.70,248.35 L396.10,248.35 L396.60,251.20 Z M396.99,251.49 L399.86,251.08 L399.36,249.56 L396.81,250.91 Z M396.66,251.38 L397.93,253.98 L399.22,253.04 L397.14,251.02 Z M396.66,251.02 L394.58,253.04 L395.87,253.98 L397.14,251.38 Z M396.99,250.91 L394.44,249.56 L393.94,251.08 L396.81,251.49 Z" fill="#000" stroke="#000" stroke-width="0.4" stroke-linejoin="round"/>
<path d="M405.40,251.20 L405.90,248.35 L404.30,248.35 L404.80,251.20 Z M405.19,251.49 L408.06,251.08 L407.56,249.56 L405.01,250.91 Z M404.86,251.38 L406.13,253.98 L407.42,253.04 L405.34,251.02 Z M404.86,251.02 L402.78,253.04 L404.07,253.98 L405.34,251.38 Z M405.19,250.91 L402.64,249.56 L402.14,251.08 L405.01,251.49 Z" fill="#000" stroke="#000" stroke-width="0.4" stroke-linejoin="round"/>
<path d="M102.5,467.1 V479.5 Q102.5,480.5 103.5,480.5 H319.7 Q320.7,480.5 320.7,479.5 V467.1" fill="none" stroke="#7a7a7a" stroke-width="1.0"/>
<path d="M357.5,469.3 V479.3 Q357.5,480.3 358.5,480.3 H574.4 Q575.4,480.3 575.4,479.3 V469.3" fill="none" stroke="#7a7a7a" stroke-width="1.0"/>
<text x="213.60" y="497.50" font-size="15.4" text-anchor="middle" fill="#000">Pylorus</text>
<text x="467.00" y="497.40" font-size="15.4" text-anchor="middle" fill="#000">Anus</text>
<text x="5.00" y="522.50" font-size="24" text-anchor="start" fill="#000" font-weight="bold">b</text>
<text x="174.00" y="528.70" font-size="16.9" text-anchor="middle" fill="#000" font-weight="bold">Opsin3.2</text>
<defs><clipPath id="cb"><rect x="48.7" y="540.5" width="279.90000000000003" height="174.5"/></clipPath></defs>
<line x1="48.70" y1="697.00" x2="328.60" y2="697.00" stroke="#000" stroke-width="2.2"/>
<g clip-path="url(#cb)"><path d="M48.70,646.55 L49.15,646.71 L49.60,647.62 L50.05,648.28 L50.50,648.71 L50.95,647.59 L51.40,648.51 L51.85,650.14 L52.30,649.71 L52.75,649.94 L53.20,649.38 L53.65,650.11 L54.10,651.27 L54.55,650.93 L55.00,650.30 L55.45,651.07 L55.90,650.55 L56.35,648.87 L56.80,649.89 L57.25,650.58 L57.70,648.81 L58.15,648.74 L58.60,649.90 L59.05,649.64 L59.50,648.85 L59.95,649.80 L60.40,651.62 L60.85,651.34 L61.30,649.98 L61.75,650.37 L62.20,651.42 L62.65,650.79 L63.10,650.57 L63.55,651.52 L64.00,650.85 L64.45,649.32 L64.90,649.68 L65.35,650.44 L65.80,650.97 L66.25,649.73 L66.70,648.32 L67.15,648.62 L67.60,647.74 L68.05,648.44 L68.50,650.16 L68.95,649.44 L69.40,650.06 L69.85,651.23 L70.30,650.60 L70.75,650.24 L71.20,650.47 L71.65,649.10 L72.10,648.82 L72.55,650.32 L73.00,648.46 L73.45,648.25 L73.90,649.43 L74.35,649.76 L74.80,649.60 L75.25,648.97 L75.70,649.57 L76.15,648.90 L76.60,649.09 L77.05,649.68 L77.50,649.59 L77.95,649.26 L78.40,649.72 L78.85,650.58 L79.30,649.59 L79.75,649.61 L80.20,650.72 L80.65,651.61 L81.10,649.40 L81.55,648.69 L82.00,650.27 L82.45,649.49 L82.90,648.31 L83.35,649.31 L83.80,649.06 L84.25,648.45 L84.70,650.36 L85.15,648.60 L85.60,647.27 L86.05,647.42 L86.50,647.77 L86.95,649.89 L87.40,651.20 L87.85,648.56 L88.30,646.46 L88.75,648.31 L89.20,649.91 L89.65,649.59 L90.10,647.65 L90.55,647.41 L91.00,647.82 L91.45,647.25 L91.90,646.51 L92.35,646.79 L92.80,647.42 L93.25,646.87 L93.70,646.28 L94.15,645.16 L94.60,644.75 L95.05,646.44 L95.50,646.40 L95.95,644.05 L96.40,644.91 L96.85,646.12 L97.30,646.40 L97.75,645.71 L98.20,643.39 L98.65,641.89 L99.10,642.95 L99.55,645.70 L100.00,643.10 L100.45,641.02 L100.90,641.17 L101.35,640.48 L101.80,639.46 L102.25,639.09 L102.70,638.72 L103.15,638.84 L103.60,638.15 L104.05,637.56 L104.50,636.94 L104.95,636.34 L105.40,635.27 L105.85,634.28 L106.30,635.61 L106.75,635.92 L107.20,635.70 L107.65,636.17 L108.10,636.46 L108.55,636.52 L109.00,636.32 L109.45,635.83 L109.90,634.95 L110.35,634.60 L110.80,634.67 L111.25,634.40 L111.70,634.25 L112.15,634.61 L112.60,634.82 L113.05,634.47 L113.50,633.16 L113.95,633.06 L114.40,633.89 L114.85,634.24 L115.30,634.16 L115.75,633.03 L116.20,632.06 L116.65,633.02 L117.10,633.35 L117.55,632.85 L118.00,633.11 L118.45,631.38 L118.90,630.10 L119.35,630.31 L119.80,629.95 L120.25,629.52 L120.70,628.86 L121.15,628.18 L121.60,626.82 L122.05,626.14 L122.50,626.00 L122.95,625.63 L123.40,625.25 L123.85,624.99 L124.30,625.11 L124.75,624.43 L125.20,623.65 L125.65,623.01 L126.10,622.08 L126.55,621.41 L127.00,620.83 L127.45,620.56 L127.90,620.26 L128.35,619.81 L128.80,618.59 L129.25,618.21 L129.70,618.01 L130.15,616.76 L130.60,616.65 L131.05,616.39 L131.50,616.32 L131.95,615.99 L132.40,615.01 L132.85,614.56 L133.30,615.42 L133.75,615.55 L134.20,614.01 L134.65,613.69 L135.10,613.21 L135.55,613.82 L136.00,613.58 L136.45,612.68 L136.90,613.46 L137.35,612.26 L137.80,611.89 L138.25,612.87 L138.70,612.78 L139.15,612.29 L139.60,612.46 L140.05,612.39 L140.50,612.11 L140.95,611.98 L141.40,612.15 L141.85,611.76 L142.30,611.86 L142.75,612.09 L143.20,611.18 L143.65,611.64 L144.10,613.05 L144.55,613.39 L145.00,612.35 L145.45,612.27 L145.90,612.36 L146.35,612.01 L146.80,612.33 L147.25,611.33 L147.70,611.56 L148.15,612.45 L148.60,612.36 L149.05,612.57 L149.50,612.66 L149.95,613.41 L150.40,615.06 L150.85,616.85 L151.30,616.92 L151.75,617.13 L152.20,617.50 L152.65,616.52 L153.10,617.26 L153.55,619.01 L154.00,619.33 L154.45,619.91 L154.90,621.08 L155.35,621.18 L155.80,620.84 L156.25,621.83 L156.70,623.14 L157.15,623.75 L157.60,625.01 L158.05,626.72 L158.50,626.72 L158.95,626.95 L159.40,628.41 L159.85,629.26 L160.30,630.19 L160.75,630.55 L161.20,631.31 L161.65,633.41 L162.10,634.35 L162.55,633.95 L163.00,634.76 L163.45,636.60 L163.90,637.39 L164.35,637.40 L164.80,638.92 L165.25,639.53 L165.70,639.99 L166.15,641.59 L166.60,641.75 L167.05,643.36 L167.50,645.13 L167.95,644.94 L168.40,646.07 L168.85,647.43 L169.30,647.19 L169.75,648.06 L170.20,650.13 L170.65,651.76 L171.10,652.66 L171.55,653.31 L172.00,654.37 L172.45,655.15 L172.90,656.41 L173.35,657.50 L173.80,657.97 L174.25,659.07 L174.70,659.31 L175.15,659.60 L175.60,661.79 L176.05,663.19 L176.50,663.12 L176.95,663.91 L177.40,664.55 L177.85,665.21 L178.30,665.79 L178.75,666.46 L179.20,666.68 L179.65,667.88 L180.10,669.08 L180.55,668.31 L181.00,669.12 L181.45,670.39 L181.90,671.23 L182.35,671.45 L182.80,672.14 L183.25,675.02 L183.70,674.66 L184.15,673.48 L184.60,674.41 L185.05,674.79 L185.50,674.50 L185.95,674.28 L186.40,675.86 L186.85,676.86 L187.30,677.89 L187.75,678.01 L188.20,677.74 L188.65,679.99 L189.10,679.98 L189.55,678.54 L190.00,679.36 L190.45,680.25 L190.90,681.14 L191.35,681.68 L191.80,681.35 L192.25,681.85 L192.70,683.98 L193.15,684.97 L193.60,682.72 L194.05,682.44 L194.50,683.77 L194.95,684.51 L195.40,685.20 L195.85,686.17 L196.30,687.05 L196.75,686.86 L197.20,686.82 L197.65,686.69 L198.10,687.09 L198.55,688.08 L199.00,688.50 L199.45,688.00 L199.90,688.65 L200.35,689.18 L200.80,688.73 L201.25,688.45 L201.70,688.39 L202.15,688.65 L202.60,687.74 L203.05,688.74 L203.50,690.59 L203.95,690.17 L204.40,690.59 L204.85,691.10 L205.30,690.95 L205.75,689.69 L206.20,689.58 L206.65,691.25 L207.10,692.34 L207.55,693.16 L208.00,693.25 L208.45,691.94 L208.90,690.33 L209.35,691.37 L209.80,692.65 L210.25,693.02 L210.70,693.12 L211.15,692.93 L211.60,692.43 L212.05,692.73 L212.50,693.43 L212.95,693.56 L213.40,694.18 L213.85,694.13 L214.30,694.21 L214.75,694.39 L215.20,694.71 L215.65,695.04 L216.10,694.45 L216.55,693.96 L217.00,695.15 L217.45,695.44 L217.90,695.12 L218.35,695.42 L218.80,694.71 L219.25,694.19 L219.70,694.59 L220.15,695.14 L220.60,695.44 L221.05,694.74 L221.50,694.19 L221.95,694.83 L222.40,695.97 L222.85,694.90 L223.30,694.38 L223.75,695.33 L224.20,695.38 L224.65,695.46 L225.10,695.48 L225.55,696.55 L226.00,696.60 L226.45,696.08 L226.90,696.12 L227.35,695.57 L227.80,695.68 L228.25,695.97 L228.70,695.33 L229.15,695.44 L229.60,695.76 L230.05,696.18 L230.50,696.29 L230.95,695.68 L231.40,696.45 L231.85,697.23 L232.30,697.16 L232.75,697.00 L233.20,696.35 L233.65,695.86 L234.10,695.81 L234.55,696.51 L235.00,696.73 L235.45,695.55 L235.90,695.51 L236.35,695.57 L236.80,695.69 L237.25,695.82 L237.70,695.14 L238.15,695.82 L238.60,696.44 L239.05,695.58 L239.50,696.01 L239.95,697.92 L240.40,696.83 L240.85,696.67 L241.30,697.07 L241.75,695.92 L242.20,696.18 L242.65,695.71 L243.10,696.45 L243.55,697.41 L244.00,696.39 L244.45,696.02 L244.90,695.64 L245.35,695.61 L245.80,696.82 L246.25,696.15 L246.70,695.47 L247.15,696.40 L247.60,697.13 L248.05,697.73 L248.50,696.99 L248.95,695.96 L249.40,696.41 L249.85,696.60 L250.30,696.22 L250.75,696.94 L251.20,697.93 L251.65,697.53 L252.10,696.60 L252.55,696.76 L253.00,695.92 L253.45,695.63 L253.90,696.04 L254.35,697.24 L254.80,698.12 L255.25,697.01 L255.70,696.56 L256.15,695.25 L256.60,695.70 L257.05,697.76 L257.50,697.04 L257.95,696.58 L258.40,697.30 L258.85,696.20 L259.30,696.31 L259.75,697.74 L260.20,697.40 L260.65,696.70 L261.10,696.98 L261.55,696.25 L262.00,695.91 L262.45,697.19 L262.90,696.54 L263.35,696.51 L263.80,696.92 L264.25,695.40 L264.70,695.56 L265.15,696.11 L265.60,696.32 L266.05,696.22 L266.50,696.59 L266.95,696.81 L267.40,696.46 L267.85,696.54 L268.30,696.21 L268.75,697.09 L269.20,697.36 L269.65,696.58 L270.10,695.85 L270.55,696.63 L271.00,697.61 L271.45,696.88 L271.90,696.64 L272.35,696.29 L272.80,695.67 L273.25,695.78 L273.70,696.46 L274.15,697.01 L274.60,696.47 L275.05,696.69 L275.50,697.45 L275.95,697.18 L276.40,697.30 L276.85,697.08 L277.30,696.51 L277.75,696.89 L278.20,696.93 L278.65,697.09 L279.10,696.49 L279.55,696.81 L280.00,697.04 L280.45,696.26 L280.90,695.97 L281.35,696.35 L281.80,697.66 L282.25,697.90 L282.70,697.68 L283.15,696.38 L283.60,695.59 L284.05,696.13 L284.50,696.06 L284.95,696.85 L285.40,697.40 L285.85,696.84 L286.30,696.99 L286.75,696.53 L287.20,695.84 L287.65,695.88 L288.10,696.58 L288.55,697.19 L289.00,697.23 L289.45,697.60 L289.90,696.64 L290.35,695.83 L290.80,696.58 L291.25,696.19 L291.70,695.86 L292.15,697.03 L292.60,697.84 L293.05,697.88 L293.50,697.35 L293.95,696.72 L294.40,697.24 L294.85,697.16 L295.30,696.79 L295.75,697.64 L296.20,697.29 L296.65,696.33 L297.10,696.51 L297.55,697.11 L298.00,697.36 L298.45,697.14 L298.90,697.18 L299.35,696.32 L299.80,695.62 L300.25,696.49 L300.70,696.46 L301.15,695.72 L301.60,695.58 L302.05,695.80 L302.50,696.31 L302.95,696.26 L303.40,696.47 L303.85,697.81 L304.30,697.63 L304.75,697.42 L305.20,697.64 L305.65,696.46 L306.10,696.19 L306.55,696.26 L307.00,696.77 L307.45,696.69 L307.90,696.97 L308.35,697.82 L308.80,696.17 L309.25,696.28 L309.70,698.05 L310.15,697.27 L310.60,696.99 L311.05,696.50 L311.50,696.14 L311.95,696.21 L312.40,696.32 L312.85,696.26 L313.30,694.72 L313.75,695.81 L314.20,698.25 L314.65,697.76 L315.10,697.04 L315.55,697.39 L316.00,696.82 L316.45,697.07 L316.90,698.05 L317.35,697.14 L317.80,696.60 L318.25,697.39 L318.70,696.41 L319.15,697.04 L319.60,698.71 L320.05,697.44 L320.50,697.34 L320.95,697.84 L321.40,696.90 L321.85,697.62 L322.30,697.82 L322.75,697.24 L323.20,697.88 L323.65,698.36 L324.10,698.05 L324.55,696.72 L325.00,695.51 L325.45,696.76 L325.90,697.08 L326.35,696.60 L326.80,696.53 L327.25,696.37 L327.70,696.27 L328.15,697.17 L328.60,697.30" fill="none" stroke="#000" stroke-width="2.7" stroke-linejoin="round"/>
<path d="M48.70,657.82 L49.15,657.61 L49.60,657.71 L50.05,657.94 L50.50,658.20 L50.95,657.19 L51.40,657.27 L51.85,658.23 L52.30,660.35 L52.75,659.58 L53.20,657.79 L53.65,659.57 L54.10,657.33 L54.55,654.31 L55.00,655.03 L55.45,656.40 L55.90,659.61 L56.35,659.95 L56.80,658.69 L57.25,658.00 L57.70,654.50 L58.15,652.46 L58.60,655.52 L59.05,657.65 L59.50,655.32 L59.95,655.95 L60.40,655.46 L60.85,655.18 L61.30,657.64 L61.75,655.60 L62.20,652.95 L62.65,654.14 L63.10,653.86 L63.55,653.59 L64.00,653.21 L64.45,652.89 L64.90,653.81 L65.35,652.41 L65.80,651.23 L66.25,651.59 L66.70,650.41 L67.15,649.68 L67.60,650.79 L68.05,651.41 L68.50,650.39 L68.95,651.16 L69.40,651.87 L69.85,649.14 L70.30,650.62 L70.75,653.13 L71.20,651.61 L71.65,649.19 L72.10,649.31 L72.55,649.42 L73.00,649.05 L73.45,651.05 L73.90,651.62 L74.35,650.25 L74.80,650.14 L75.25,649.88 L75.70,650.27 L76.15,651.05 L76.60,649.86 L77.05,649.08 L77.50,651.56 L77.95,651.77 L78.40,649.31 L78.85,650.72 L79.30,650.83 L79.75,647.86 L80.20,648.39 L80.65,648.50 L81.10,647.34 L81.55,648.39 L82.00,648.65 L82.45,647.59 L82.90,647.14 L83.35,647.26 L83.80,648.82 L84.25,648.69 L84.70,647.09 L85.15,649.62 L85.60,649.63 L86.05,649.12 L86.50,650.83 L86.95,649.31 L87.40,646.79 L87.85,647.34 L88.30,649.26 L88.75,649.73 L89.20,649.17 L89.65,649.38 L90.10,650.58 L90.55,648.49 L91.00,648.50 L91.45,649.62 L91.90,647.76 L92.35,647.29 L92.80,649.52 L93.25,650.70 L93.70,647.31 L94.15,646.46 L94.60,647.95 L95.05,647.66 L95.50,647.25 L95.95,646.00 L96.40,647.17 L96.85,647.56 L97.30,646.34 L97.75,646.56 L98.20,646.14 L98.65,647.28 L99.10,648.22 L99.55,646.80 L100.00,645.43 L100.45,645.44 L100.90,647.00 L101.35,647.31 L101.80,646.41 L102.25,645.76 L102.70,645.08 L103.15,645.35 L103.60,643.66 L104.05,644.83 L104.50,645.79 L104.95,643.90 L105.40,646.07 L105.85,647.12 L106.30,646.26 L106.75,645.85 L107.20,644.71 L107.65,645.74 L108.10,648.61 L108.55,647.95 L109.00,648.44 L109.45,648.58 L109.90,647.01 L110.35,648.87 L110.80,649.91 L111.25,650.44 L111.70,650.11 L112.15,648.89 L112.60,648.22 L113.05,648.42 L113.50,649.45 L113.95,649.50 L114.40,650.97 L114.85,651.81 L115.30,649.78 L115.75,652.75 L116.20,653.88 L116.65,650.52 L117.10,652.50 L117.55,654.80 L118.00,652.68 L118.45,650.33 L118.90,650.54 L119.35,652.98 L119.80,653.61 L120.25,652.24 L120.70,652.27 L121.15,653.10 L121.60,652.24 L122.05,651.27 L122.50,651.08 L122.95,652.16 L123.40,653.56 L123.85,652.77 L124.30,651.61 L124.75,651.28 L125.20,650.11 L125.65,649.71 L126.10,649.85 L126.55,648.80 L127.00,648.83 L127.45,649.01 L127.90,649.34 L128.35,649.56 L128.80,649.11 L129.25,648.00 L129.70,647.90 L130.15,648.01 L130.60,647.96 L131.05,647.26 L131.50,645.01 L131.95,644.92 L132.40,647.04 L132.85,647.19 L133.30,645.71 L133.75,645.59 L134.20,645.62 L134.65,645.08 L135.10,644.26 L135.55,643.75 L136.00,643.78 L136.45,643.10 L136.90,642.13 L137.35,642.19 L137.80,642.91 L138.25,642.84 L138.70,642.28 L139.15,641.89 L139.60,642.60 L140.05,642.16 L140.50,641.07 L140.95,641.59 L141.40,640.78 L141.85,639.62 L142.30,639.79 L142.75,640.17 L143.20,639.49 L143.65,638.51 L144.10,638.10 L144.55,637.04 L145.00,637.29 L145.45,637.52 L145.90,635.90 L146.35,635.74 L146.80,635.52 L147.25,634.88 L147.70,635.53 L148.15,635.35 L148.60,635.66 L149.05,635.17 L149.50,634.56 L149.95,635.35 L150.40,635.72 L150.85,635.69 L151.30,634.87 L151.75,634.24 L152.20,633.88 L152.65,634.18 L153.10,633.67 L153.55,633.15 L154.00,633.21 L154.45,632.86 L154.90,632.56 L155.35,633.28 L155.80,632.87 L156.25,631.72 L156.70,631.97 L157.15,631.93 L157.60,631.80 L158.05,631.50 L158.50,631.54 L158.95,630.35 L159.40,629.62 L159.85,629.50 L160.30,629.34 L160.75,629.09 L161.20,628.22 L161.65,628.50 L162.10,629.39 L162.55,629.42 L163.00,628.60 L163.45,628.73 L163.90,627.84 L164.35,625.83 L164.80,625.82 L165.25,626.44 L165.70,626.98 L166.15,627.90 L166.60,626.35 L167.05,626.24 L167.50,627.40 L167.95,626.31 L168.40,625.44 L168.85,625.95 L169.30,625.53 L169.75,623.82 L170.20,623.57 L170.65,622.85 L171.10,622.73 L171.55,623.08 L172.00,622.73 L172.45,622.69 L172.90,621.72 L173.35,621.91 L173.80,621.64 L174.25,621.12 L174.70,620.52 L175.15,619.95 L175.60,620.01 L176.05,619.53 L176.50,619.29 L176.95,617.87 L177.40,617.32 L177.85,618.11 L178.30,618.65 L178.75,617.57 L179.20,615.89 L179.65,615.86 L180.10,616.49 L180.55,616.29 L181.00,615.67 L181.45,616.09 L181.90,616.64 L182.35,616.27 L182.80,615.01 L183.25,614.36 L183.70,614.41 L184.15,613.34 L184.60,613.55 L185.05,613.98 L185.50,612.98 L185.95,613.32 L186.40,613.62 L186.85,613.02 L187.30,612.92 L187.75,612.54 L188.20,611.04 L188.65,610.24 L189.10,611.13 L189.55,610.74 L190.00,610.07 L190.45,610.45 L190.90,610.96 L191.35,611.21 L191.80,610.75 L192.25,609.82 L192.70,609.64 L193.15,609.80 L193.60,609.07 L194.05,609.29 L194.50,609.42 L194.95,608.18 L195.40,608.37 L195.85,608.43 L196.30,607.90 L196.75,607.08 L197.20,606.59 L197.65,606.68 L198.10,606.02 L198.55,605.35 L199.00,606.70 L199.45,607.40 L199.90,606.32 L200.35,606.85 L200.80,606.62 L201.25,606.30 L201.70,605.69 L202.15,605.53 L202.60,606.00 L203.05,606.15 L203.50,606.45 L203.95,605.51 L204.40,604.51 L204.85,604.69 L205.30,605.97 L205.75,606.68 L206.20,606.52 L206.65,605.31 L207.10,603.78 L207.55,604.47 L208.00,605.64 L208.45,605.70 L208.90,606.13 L209.35,606.48 L209.80,605.89 L210.25,605.74 L210.70,606.60 L211.15,607.28 L211.60,607.38 L212.05,608.67 L212.50,608.83 L212.95,608.15 L213.40,608.29 L213.85,608.68 L214.30,610.17 L214.75,611.45 L215.20,611.92 L215.65,612.65 L216.10,613.57 L216.55,613.25 L217.00,612.42 L217.45,615.31 L217.90,618.15 L218.35,617.80 L218.80,617.34 L219.25,617.55 L219.70,619.90 L220.15,619.98 L220.60,620.00 L221.05,622.67 L221.50,623.78 L221.95,624.62 L222.40,625.38 L222.85,627.08 L223.30,627.53 L223.75,626.56 L224.20,628.10 L224.65,630.37 L225.10,631.10 L225.55,631.81 L226.00,632.52 L226.45,632.41 L226.90,634.41 L227.35,636.86 L227.80,638.06 L228.25,638.20 L228.70,638.00 L229.15,638.77 L229.60,640.37 L230.05,642.37 L230.50,643.86 L230.95,644.00 L231.40,644.97 L231.85,646.82 L232.30,647.91 L232.75,649.02 L233.20,650.01 L233.65,651.44 L234.10,652.74 L234.55,653.69 L235.00,654.42 L235.45,655.64 L235.90,657.05 L236.35,656.94 L236.80,658.37 L237.25,660.41 L237.70,661.73 L238.15,662.85 L238.60,663.39 L239.05,664.59 L239.50,665.63 L239.95,666.30 L240.40,666.42 L240.85,668.55 L241.30,669.66 L241.75,669.58 L242.20,671.68 L242.65,673.04 L243.10,673.98 L243.55,675.09 L244.00,676.30 L244.45,676.86 L244.90,678.40 L245.35,678.44 L245.80,677.79 L246.25,678.80 L246.70,679.10 L247.15,680.10 L247.60,681.78 L248.05,681.97 L248.50,681.58 L248.95,682.95 L249.40,684.20 L249.85,685.38 L250.30,686.15 L250.75,685.77 L251.20,685.55 L251.65,685.99 L252.10,686.52 L252.55,686.19 L253.00,686.73 L253.45,687.77 L253.90,688.10 L254.35,688.42 L254.80,689.80 L255.25,690.75 L255.70,690.71 L256.15,690.36 L256.60,689.64 L257.05,690.03 L257.50,690.88 L257.95,691.07 L258.40,691.09 L258.85,691.96 L259.30,692.42 L259.75,691.69 L260.20,691.55 L260.65,691.94 L261.10,692.46 L261.55,692.44 L262.00,692.48 L262.45,693.63 L262.90,693.96 L263.35,693.39 L263.80,693.27 L264.25,693.96 L264.70,694.65 L265.15,695.12 L265.60,694.90 L266.05,693.92 L266.50,694.79 L266.95,695.67 L267.40,695.26 L267.85,695.35 L268.30,694.72 L268.75,694.50 L269.20,695.23 L269.65,695.99 L270.10,695.98 L270.55,694.01 L271.00,693.95 L271.45,695.76 L271.90,696.61 L272.35,696.88 L272.80,697.56 L273.25,698.00 L273.70,697.52 L274.15,697.37 L274.60,696.11 L275.05,696.15 L275.50,697.21 L275.95,696.60 L276.40,696.64 L276.85,697.16 L277.30,696.67 L277.75,696.43 L278.20,696.57 L278.65,696.77 L279.10,696.73 L279.55,696.91 L280.00,696.21 L280.45,695.83 L280.90,695.98 L281.35,695.91 L281.80,697.03 L282.25,697.31 L282.70,697.03 L283.15,697.09 L283.60,697.95 L284.05,697.40 L284.50,697.10 L284.95,696.93 L285.40,696.29 L285.85,697.15 L286.30,697.00 L286.75,697.05 L287.20,697.86 L287.65,697.20 L288.10,696.84 L288.55,697.27 L289.00,696.38 L289.45,696.50 L289.90,697.09 L290.35,697.86 L290.80,697.83 L291.25,698.01 L291.70,698.19 L292.15,698.31 L292.60,698.84 L293.05,698.11 L293.50,698.24 L293.95,698.47 L294.40,698.76 L294.85,699.18 L295.30,698.31 L295.75,696.84 L296.20,695.69 L296.65,696.12 L297.10,697.82 L297.55,698.20 L298.00,697.89 L298.45,697.53 L298.90,697.16 L299.35,697.19 L299.80,697.70 L300.25,696.97 L300.70,697.14 L301.15,697.30 L301.60,696.86 L302.05,697.27 L302.50,697.17 L302.95,696.96 L303.40,696.58 L303.85,696.98 L304.30,697.02 L304.75,698.35 L305.20,698.68 L305.65,697.14 L306.10,697.08 L306.55,696.88 L307.00,695.93 L307.45,696.34 L307.90,697.71 L308.35,697.10 L308.80,696.95 L309.25,697.10 L309.70,697.08 L310.15,697.86 L310.60,698.12 L311.05,698.16 L311.50,697.57 L311.95,697.79 L312.40,697.92 L312.85,697.66 L313.30,698.23 L313.75,697.91 L314.20,696.93 L314.65,697.39 L315.10,697.47 L315.55,696.73 L316.00,696.74 L316.45,697.60 L316.90,698.07 L317.35,696.54 L317.80,696.98 L318.25,699.12 L318.70,699.65 L319.15,698.35 L319.60,697.50 L320.05,698.03 L320.50,698.44 L320.95,698.21 L321.40,697.23 L321.85,697.59 L322.30,698.43 L322.75,697.40 L323.20,696.92 L323.65,697.71 L324.10,697.90 L324.55,698.02 L325.00,698.42 L325.45,698.43 L325.90,697.98 L326.35,697.05 L326.80,697.41 L327.25,698.78 L327.70,699.45 L328.15,698.74 L328.60,697.75" fill="none" stroke="#e21a1a" stroke-width="2.6" stroke-linejoin="round"/></g>
<rect x="48.70" y="540.50" width="279.90" height="174.50" fill="none" stroke="#000" stroke-width="2.2"/>
<line x1="96.10" y1="715.00" x2="96.10" y2="707.00" stroke="#000" stroke-width="2.2"/>
<line x1="96.10" y1="540.50" x2="96.10" y2="548.00" stroke="#000" stroke-width="2.2"/>
<text x="96.10" y="734.20" font-size="14.4" text-anchor="middle" fill="#000">400</text>
<line x1="161.80" y1="715.00" x2="161.80" y2="707.00" stroke="#000" stroke-width="2.2"/>
<line x1="161.80" y1="540.50" x2="161.80" y2="548.00" stroke="#000" stroke-width="2.2"/>
<text x="161.80" y="734.20" font-size="14.4" text-anchor="middle" fill="#000">500</text>
<line x1="227.50" y1="715.00" x2="227.50" y2="707.00" stroke="#000" stroke-width="2.2"/>
<line x1="227.50" y1="540.50" x2="227.50" y2="548.00" stroke="#000" stroke-width="2.2"/>
<text x="227.50" y="734.20" font-size="14.4" text-anchor="middle" fill="#000">600</text>
<line x1="293.20" y1="715.00" x2="293.20" y2="707.00" stroke="#000" stroke-width="2.2"/>
<line x1="293.20" y1="540.50" x2="293.20" y2="548.00" stroke="#000" stroke-width="2.2"/>
<text x="293.20" y="734.20" font-size="14.4" text-anchor="middle" fill="#000">700</text>
<line x1="48.70" y1="618.80" x2="56.70" y2="618.80" stroke="#000" stroke-width="2.2"/>
<line x1="328.60" y1="618.80" x2="320.60" y2="618.80" stroke="#000" stroke-width="2.2"/>
<line x1="48.70" y1="540.60" x2="56.70" y2="540.60" stroke="#000" stroke-width="2.2"/>
<line x1="328.60" y1="540.60" x2="320.60" y2="540.60" stroke="#000" stroke-width="2.2"/>
<text x="42.80" y="702.00" font-size="14.4" text-anchor="end" fill="#000">0.00</text>
<text x="42.80" y="623.80" font-size="14.4" text-anchor="end" fill="#000">0.01</text>
<text x="42.80" y="545.60" font-size="14.4" text-anchor="end" fill="#000">0.02</text>
<text x="191.70" y="747.80" font-size="15.3" text-anchor="middle" fill="#000">Wavelength (nm)</text>
<text x="10.40" y="614.10" font-size="15.3" text-anchor="middle" fill="#000" transform="rotate(-90 10.40 614.10)">Absorbance</text>
<rect x="236.90" y="543.00" width="88.10" height="79.10" fill="#fff" stroke="none" stroke-width="1"/>
<defs><clipPath id="cib"><rect x="239.9" y="546.0" width="82.1" height="65.10000000000002"/></clipPath></defs>
<line x1="239.90" y1="578.10" x2="322.00" y2="578.10" stroke="#000" stroke-width="2.0"/>
<g clip-path="url(#cib)"><path d="M239.90,578.97 L240.25,579.01 L240.60,578.42 L240.95,578.60 L241.30,579.98 L241.65,580.64 L242.00,580.66 L242.35,581.18 L242.70,581.93 L243.05,582.39 L243.40,582.04 L243.75,581.97 L244.10,582.45 L244.45,582.34 L244.80,582.12 L245.15,582.69 L245.50,583.16 L245.85,584.29 L246.20,584.76 L246.55,583.86 L246.90,583.85 L247.25,584.86 L247.60,584.75 L247.95,584.00 L248.30,584.19 L248.65,584.32 L249.00,584.75 L249.35,585.37 L249.70,584.89 L250.05,584.52 L250.40,585.90 L250.75,585.78 L251.10,585.12 L251.45,585.05 L251.80,584.11 L252.15,584.53 L252.50,586.23 L252.85,586.17 L253.20,584.95 L253.55,585.29 L253.90,586.12 L254.25,586.42 L254.60,586.73 L254.95,586.16 L255.30,585.91 L255.65,585.22 L256.00,585.49 L256.35,586.30 L256.70,586.25 L257.05,586.58 L257.40,585.96 L257.75,585.40 L258.10,585.10 L258.45,584.23 L258.80,584.48 L259.15,585.37 L259.50,584.90 L259.85,585.08 L260.20,585.52 L260.55,585.36 L260.90,584.92 L261.25,583.87 L261.60,584.38 L261.95,585.20 L262.30,584.59 L262.65,583.89 L263.00,583.55 L263.35,583.41 L263.70,583.01 L264.05,581.86 L264.40,581.98 L264.75,581.71 L265.10,580.68 L265.45,580.60 L265.80,580.28 L266.15,579.17 L266.50,579.02 L266.85,579.46 L267.20,578.75 L267.55,578.50 L267.90,577.27 L268.25,574.79 L268.60,574.61 L268.95,575.79 L269.30,575.39 L269.65,573.86 L270.00,572.57 L270.35,572.18 L270.70,570.73 L271.05,569.64 L271.40,569.46 L271.75,569.77 L272.10,569.14 L272.45,568.50 L272.80,568.16 L273.15,566.15 L273.50,566.45 L273.85,566.11 L274.20,564.78 L274.55,565.25 L274.90,564.08 L275.25,562.13 L275.60,562.10 L275.95,561.95 L276.30,560.30 L276.65,559.19 L277.00,558.99 L277.35,559.38 L277.70,559.01 L278.05,558.53 L278.40,559.00 L278.75,558.91 L279.10,558.47 L279.45,558.10 L279.80,556.46 L280.15,556.11 L280.50,556.59 L280.85,555.70 L281.20,554.80 L281.55,553.90 L281.90,553.63 L282.25,554.04 L282.60,553.76 L282.95,553.17 L283.30,553.16 L283.65,553.54 L284.00,553.48 L284.35,553.00 L284.70,553.61 L285.05,553.52 L285.40,553.26 L285.75,552.99 L286.10,552.91 L286.45,553.46 L286.80,553.43 L287.15,553.23 L287.50,552.77 L287.85,552.91 L288.20,553.22 L288.55,553.87 L288.90,554.54 L289.25,553.68 L289.60,553.65 L289.95,554.09 L290.30,554.23 L290.65,554.51 L291.00,554.04 L291.35,555.09 L291.70,556.35 L292.05,555.83 L292.40,555.28 L292.75,556.03 L293.10,556.80 L293.45,557.36 L293.80,558.64 L294.15,559.94 L294.50,560.05 L294.85,560.54 L295.20,561.71 L295.55,561.46 L295.90,560.79 L296.25,561.86 L296.60,563.35 L296.95,564.51 L297.30,565.38 L297.65,565.24 L298.00,565.88 L298.35,565.63 L298.70,565.52 L299.05,566.37 L299.40,567.55 L299.75,568.44 L300.10,566.92 L300.45,567.79 L300.80,569.21 L301.15,569.45 L301.50,570.10 L301.85,570.33 L302.20,571.24 L302.55,571.66 L302.90,571.42 L303.25,572.37 L303.60,573.35 L303.95,573.15 L304.30,573.66 L304.65,573.80 L305.00,574.65 L305.35,575.33 L305.70,575.03 L306.05,575.42 L306.40,575.21 L306.75,574.88 L307.10,575.65 L307.45,576.59 L307.80,577.35 L308.15,577.63 L308.50,576.81 L308.85,577.02 L309.20,577.98 L309.55,578.29 L309.90,578.18 L310.25,577.34 L310.60,577.79 L310.95,578.07 L311.30,577.87 L311.65,577.53 L312.00,577.61 L312.35,577.91 L312.70,578.02 L313.05,579.08 L313.40,579.09 L313.75,577.82 L314.10,576.90 L314.45,576.99 L314.80,577.65 L315.15,578.14 L315.50,577.90 L315.85,577.86 L316.20,578.02 L316.55,578.16 L316.90,578.63 L317.25,578.35 L317.60,577.74 L317.95,577.00 L318.30,576.38 L318.65,576.90 L319.00,576.99 L319.35,577.40 L319.70,578.37 L320.05,578.12 L320.40,577.49 L320.75,577.49 L321.10,577.77 L321.45,577.78 L321.80,577.93 L322.15,578.30" fill="none" stroke="#e21a1a" stroke-width="1.7" stroke-linejoin="round"/>
<path d="M239.90,574.69 L240.25,574.43 L240.60,574.21 L240.95,574.33 L241.30,574.33 L241.65,574.06 L242.00,574.75 L242.35,574.79 L242.70,574.68 L243.05,574.78 L243.40,574.60 L243.75,574.16 L244.10,573.80 L244.45,575.12 L244.80,575.35 L245.15,574.60 L245.50,574.29 L245.85,574.17 L246.20,573.49 L246.55,572.62 L246.90,573.10 L247.25,573.55 L247.60,572.87 L247.95,572.10 L248.30,571.77 L248.65,571.42 L249.00,570.73 L249.35,569.89 L249.70,570.07 L250.05,569.68 L250.40,569.05 L250.75,569.27 L251.10,569.00 L251.45,569.14 L251.80,569.16 L252.15,568.80 L252.50,568.40 L252.85,568.03 L253.20,568.65 L253.55,569.16 L253.90,568.84 L254.25,568.94 L254.60,569.31 L254.95,569.32 L255.30,570.02 L255.65,569.88 L256.00,569.47 L256.35,569.91 L256.70,569.72 L257.05,569.12 L257.40,569.60 L257.75,570.28 L258.10,570.09 L258.45,570.07 L258.80,570.14 L259.15,569.83 L259.50,570.03 L259.85,569.75 L260.20,569.73 L260.55,570.01 L260.90,570.03 L261.25,571.15 L261.60,571.37 L261.95,571.04 L262.30,571.55 L262.65,571.82 L263.00,571.64 L263.35,571.84 L263.70,572.96 L264.05,573.77 L264.40,573.75 L264.75,573.40 L265.10,573.89 L265.45,574.28 L265.80,574.66 L266.15,575.16 L266.50,576.22 L266.85,576.40 L267.20,576.51 L267.55,577.98 L267.90,577.18 L268.25,577.24 L268.60,579.15 L268.95,580.33 L269.30,579.64 L269.65,579.56 L270.00,580.37 L270.35,580.74 L270.70,581.52 L271.05,583.28 L271.40,584.13 L271.75,583.78 L272.10,584.11 L272.45,585.02 L272.80,586.01 L273.15,585.91 L273.50,586.83 L273.85,587.36 L274.20,587.23 L274.55,588.50 L274.90,589.95 L275.25,590.23 L275.60,590.24 L275.95,591.55 L276.30,592.30 L276.65,592.84 L277.00,593.63 L277.35,593.87 L277.70,594.31 L278.05,595.18 L278.40,595.47 L278.75,596.32 L279.10,596.02 L279.45,595.48 L279.80,597.46 L280.15,598.56 L280.50,598.19 L280.85,598.70 L281.20,599.96 L281.55,600.09 L281.90,600.42 L282.25,601.01 L282.60,600.96 L282.95,601.24 L283.30,601.94 L283.65,601.67 L284.00,601.21 L284.35,602.13 L284.70,601.94 L285.05,601.15 L285.40,602.02 L285.75,602.76 L286.10,602.49 L286.45,602.53 L286.80,602.12 L287.15,603.24 L287.50,603.18 L287.85,601.70 L288.20,601.46 L288.55,601.39 L288.90,602.53 L289.25,602.57 L289.60,602.00 L289.95,601.57 L290.30,601.86 L290.65,601.91 L291.00,600.38 L291.35,600.38 L291.70,600.44 L292.05,600.02 L292.40,599.85 L292.75,599.27 L293.10,598.83 L293.45,597.90 L293.80,596.76 L294.15,597.12 L294.50,597.27 L294.85,596.54 L295.20,595.96 L295.55,594.54 L295.90,593.76 L296.25,594.77 L296.60,594.53 L296.95,593.31 L297.30,592.54 L297.65,591.98 L298.00,591.93 L298.35,591.53 L298.70,591.13 L299.05,590.44 L299.40,589.68 L299.75,589.39 L300.10,589.19 L300.45,588.54 L300.80,588.54 L301.15,588.07 L301.50,586.79 L301.85,585.82 L302.20,585.61 L302.55,584.92 L302.90,583.30 L303.25,582.85 L303.60,583.36 L303.95,582.86 L304.30,582.70 L304.65,582.76 L305.00,581.18 L305.35,580.75 L305.70,581.83 L306.05,581.29 L306.40,579.71 L306.75,580.03 L307.10,580.88 L307.45,580.86 L307.80,579.95 L308.15,579.43 L308.50,579.56 L308.85,579.86 L309.20,580.52 L309.55,579.87 L309.90,579.39 L310.25,579.18 L310.60,578.77 L310.95,578.44 L311.30,577.80 L311.65,578.34 L312.00,578.26 L312.35,578.46 L312.70,578.61 L313.05,578.27 L313.40,578.47 L313.75,578.29 L314.10,578.38 L314.45,578.98 L314.80,580.24 L315.15,579.28 L315.50,578.09 L315.85,578.52 L316.20,578.00 L316.55,578.19 L316.90,578.20 L317.25,578.03 L317.60,578.91 L317.95,578.07 L318.30,577.63 L318.65,578.66 L319.00,578.13 L319.35,578.15 L319.70,578.68 L320.05,578.30 L320.40,578.64 L320.75,578.22 L321.10,577.96 L321.45,578.40 L321.80,577.67 L322.15,577.68" fill="none" stroke="#2a55b5" stroke-width="1.7" stroke-linejoin="round"/></g>
<rect x="239.90" y="546.00" width="82.10" height="65.10" fill="none" stroke="#000" stroke-width="2.2"/>
<line x1="267.60" y1="546.00" x2="267.60" y2="549.00" stroke="#000" stroke-width="2"/>
<line x1="267.60" y1="611.10" x2="267.60" y2="608.10" stroke="#000" stroke-width="2"/>
<line x1="294.00" y1="546.00" x2="294.00" y2="549.00" stroke="#000" stroke-width="2"/>
<line x1="294.00" y1="611.10" x2="294.00" y2="608.10" stroke="#000" stroke-width="2"/>
<line x1="239.90" y1="552.10" x2="242.90" y2="552.10" stroke="#000" stroke-width="2"/>
<line x1="322.00" y1="552.10" x2="319.00" y2="552.10" stroke="#000" stroke-width="2"/>
<line x1="239.90" y1="604.00" x2="242.90" y2="604.00" stroke="#000" stroke-width="2"/>
<line x1="322.00" y1="604.00" x2="319.00" y2="604.00" stroke="#000" stroke-width="2"/>
<text x="236.50" y="554.90" font-size="7.6" text-anchor="end" fill="#000">0.004</text>
<text x="236.50" y="580.90" font-size="7.6" text-anchor="end" fill="#000">0.000</text>
<text x="236.50" y="606.80" font-size="7.6" text-anchor="end" fill="#000">-0.004</text>
<text x="239.60" y="621.70" font-size="8" text-anchor="middle" fill="#000">400</text>
<text x="266.80" y="621.70" font-size="8" text-anchor="middle" fill="#000">500</text>
<text x="292.80" y="621.70" font-size="8" text-anchor="middle" fill="#000">600</text>
<text x="320.80" y="621.70" font-size="8" text-anchor="middle" fill="#000">700</text>
<text x="283.30" y="631.60" font-size="9.8" text-anchor="middle" fill="#000">Wavelength (nm)</text>
<text x="214.70" y="579.30" font-size="10.3" text-anchor="middle" fill="#000" transform="rotate(-90 214.70 579.30)">Diff. Abs.</text>
<text x="355.00" y="523.60" font-size="24" text-anchor="start" fill="#000" font-weight="bold">c</text>
<text x="529.70" y="528.70" font-size="16.9" text-anchor="middle" fill="#000" font-weight="bold">Opsin2</text>
<defs><clipPath id="cc"><rect x="404.9" y="539.8" width="278.5" height="175.30000000000007"/></clipPath></defs>
<line x1="404.90" y1="696.20" x2="683.40" y2="696.20" stroke="#000" stroke-width="2.2"/>
<g clip-path="url(#cc)"><path d="M405.00,579.82 L405.45,579.67 L405.90,581.99 L406.35,583.03 L406.80,583.60 L407.25,582.57 L407.70,582.97 L408.15,587.27 L408.60,590.12 L409.05,589.15 L409.50,590.86 L409.95,591.96 L410.40,591.33 L410.85,591.78 L411.30,594.51 L411.75,598.44 L412.20,597.29 L412.65,596.59 L413.10,599.34 L413.55,601.96 L414.00,599.59 L414.45,598.53 L414.90,602.23 L415.35,601.46 L415.80,602.01 L416.25,604.38 L416.70,605.46 L417.15,605.49 L417.60,605.97 L418.05,606.69 L418.50,607.54 L418.95,608.88 L419.40,608.48 L419.85,607.46 L420.30,609.84 L420.75,612.70 L421.20,612.42 L421.65,611.17 L422.10,610.45 L422.55,613.13 L423.00,614.63 L423.45,612.67 L423.90,612.46 L424.35,613.87 L424.80,614.09 L425.25,613.52 L425.70,615.37 L426.15,617.29 L426.60,616.37 L427.05,614.77 L427.50,614.86 L427.95,616.81 L428.40,618.65 L428.85,618.76 L429.30,619.44 L429.75,620.38 L430.20,619.06 L430.65,616.71 L431.10,616.75 L431.55,618.45 L432.00,619.88 L432.45,622.11 L432.90,624.08 L433.35,624.28 L433.80,622.39 L434.25,625.20 L434.70,627.16 L435.15,625.22 L435.60,625.23 L436.05,624.75 L436.50,626.16 L436.95,628.35 L437.40,629.78 L437.85,630.97 L438.30,630.76 L438.75,631.37 L439.20,630.74 L439.65,629.57 L440.10,630.26 L440.55,629.95 L441.00,630.33 L441.45,631.62 L441.90,632.75 L442.35,633.35 L442.80,631.14 L443.25,631.37 L443.70,634.72 L444.15,633.11 L444.60,631.21 L445.05,633.15 L445.50,632.78 L445.95,632.41 L446.40,633.91 L446.85,633.34 L447.30,633.73 L447.75,635.55 L448.20,634.22 L448.65,634.02 L449.10,636.43 L449.55,636.40 L450.00,635.95 L450.45,636.58 L450.90,636.33 L451.35,636.73 L451.80,637.33 L452.25,636.28 L452.70,636.60 L453.15,638.00 L453.60,638.41 L454.05,637.68 L454.50,637.68 L454.95,639.19 L455.40,639.27 L455.85,639.38 L456.30,640.29 L456.75,639.74 L457.20,639.56 L457.65,639.62 L458.10,640.11 L458.55,640.46 L459.00,639.66 L459.45,639.92 L459.90,640.45 L460.35,640.94 L460.80,641.51 L461.25,640.75 L461.70,640.26 L462.15,641.46 L462.60,642.41 L463.05,642.46 L463.50,644.05 L463.95,644.94 L464.40,643.44 L464.85,643.44 L465.30,644.60 L465.75,644.66 L466.20,643.01 L466.65,643.17 L467.10,644.65 L467.55,646.28 L468.00,645.41 L468.45,645.38 L468.90,646.79 L469.35,646.73 L469.80,646.98 L470.25,646.84 L470.70,648.09 L471.15,648.38 L471.60,648.67 L472.05,648.91 L472.50,648.32 L472.95,648.58 L473.40,648.86 L473.85,649.26 L474.30,650.77 L474.75,650.41 L475.20,648.78 L475.65,649.78 L476.10,652.16 L476.55,653.10 L477.00,653.12 L477.45,653.50 L477.90,652.45 L478.35,651.99 L478.80,651.01 L479.25,650.80 L479.70,653.14 L480.15,652.79 L480.60,651.35 L481.05,651.76 L481.50,653.46 L481.95,655.26 L482.40,656.99 L482.85,657.37 L483.30,654.97 L483.75,652.79 L484.20,654.06 L484.65,656.41 L485.10,655.50 L485.55,654.70 L486.00,655.65 L486.45,656.21 L486.90,656.59 L487.35,657.11 L487.80,658.10 L488.25,658.03 L488.70,658.04 L489.15,659.47 L489.60,658.55 L490.05,656.83 L490.50,658.01 L490.95,660.06 L491.40,660.05 L491.85,659.78 L492.30,659.68 L492.75,659.78 L493.20,659.79 L493.65,659.86 L494.10,660.73 L494.55,660.78 L495.00,661.63 L495.45,662.29 L495.90,661.26 L496.35,661.38 L496.80,660.91 L497.25,661.20 L497.70,664.26 L498.15,664.20 L498.60,663.00 L499.05,662.94 L499.50,663.37 L499.95,663.28 L500.40,663.41 L500.85,663.75 L501.30,663.28 L501.75,663.76 L502.20,664.23 L502.65,663.27 L503.10,664.86 L503.55,666.28 L504.00,664.11 L504.45,664.93 L504.90,666.20 L505.35,665.85 L505.80,666.51 L506.25,665.99 L506.70,663.84 L507.15,664.53 L507.60,666.73 L508.05,667.61 L508.50,667.15 L508.95,666.52 L509.40,667.43 L509.85,667.58 L510.30,667.34 L510.75,667.88 L511.20,667.59 L511.65,668.61 L512.10,668.83 L512.55,668.02 L513.00,668.58 L513.45,668.28 L513.90,669.01 L514.35,670.28 L514.80,671.04 L515.25,670.94 L515.70,669.91 L516.15,670.26 L516.60,669.79 L517.05,669.43 L517.50,670.83 L517.95,671.30 L518.40,670.37 L518.85,669.19 L519.30,671.12 L519.75,671.89 L520.20,669.92 L520.65,669.59 L521.10,670.78 L521.55,672.46 L522.00,672.58 L522.45,672.73 L522.90,673.02 L523.35,672.69 L523.80,673.31 L524.25,672.90 L524.70,672.60 L525.15,672.73 L525.60,672.27 L526.05,673.08 L526.50,673.09 L526.95,672.86 L527.40,673.02 L527.85,673.05 L528.30,673.35 L528.75,674.24 L529.20,674.76 L529.65,674.24 L530.10,675.37 L530.55,673.61 L531.00,671.99 L531.45,672.21 L531.90,673.05 L532.35,675.20 L532.80,675.75 L533.25,675.77 L533.70,674.94 L534.15,676.02 L534.60,676.90 L535.05,675.75 L535.50,674.97 L535.95,675.54 L536.40,676.07 L536.85,675.65 L537.30,676.23 L537.75,676.78 L538.20,676.26 L538.65,677.05 L539.10,677.07 L539.55,675.70 L540.00,676.66 L540.45,677.59 L540.90,677.57 L541.35,677.36 L541.80,677.48 L542.25,677.52 L542.70,676.58 L543.15,677.54 L543.60,678.08 L544.05,677.60 L544.50,678.84 L544.95,679.14 L545.40,680.56 L545.85,679.78 L546.30,677.70 L546.75,678.78 L547.20,680.25 L547.65,680.18 L548.10,678.54 L548.55,679.56 L549.00,680.02 L549.45,679.30 L549.90,680.58 L550.35,680.42 L550.80,679.70 L551.25,680.57 L551.70,680.87 L552.15,680.88 L552.60,680.55 L553.05,680.43 L553.50,680.48 L553.95,679.71 L554.40,681.66 L554.85,683.08 L555.30,682.69 L555.75,681.93 L556.20,681.47 L556.65,682.10 L557.10,681.35 L557.55,681.97 L558.00,682.56 L558.45,682.23 L558.90,681.86 L559.35,682.76 L559.80,684.33 L560.25,684.06 L560.70,683.10 L561.15,682.59 L561.60,684.03 L562.05,684.28 L562.50,683.75 L562.95,684.10 L563.40,683.29 L563.85,684.26 L564.30,683.79 L564.75,683.04 L565.20,684.33 L565.65,683.24 L566.10,683.58 L566.55,685.03 L567.00,684.93 L567.45,684.15 L567.90,684.49 L568.35,685.80 L568.80,685.74 L569.25,686.21 L569.70,686.70 L570.15,686.17 L570.60,686.59 L571.05,685.76 L571.50,684.62 L571.95,685.45 L572.40,686.20 L572.85,686.91 L573.30,687.39 L573.75,686.62 L574.20,686.11 L574.65,685.91 L575.10,685.61 L575.55,685.57 L576.00,686.45 L576.45,686.51 L576.90,685.77 L577.35,686.24 L577.80,686.21 L578.25,686.03 L578.70,685.04 L579.15,685.49 L579.60,686.76 L580.05,686.71 L580.50,687.21 L580.95,685.98 L581.40,687.34 L581.85,688.70 L582.30,687.36 L582.75,686.20 L583.20,686.56 L583.65,688.04 L584.10,687.49 L584.55,687.47 L585.00,688.59 L585.45,688.30 L585.90,686.98 L586.35,688.12 L586.80,688.94 L587.25,688.05 L587.70,689.42 L588.15,689.71 L588.60,688.20 L589.05,688.34 L589.50,688.26 L589.95,688.29 L590.40,688.71 L590.85,688.22 L591.30,688.02 L591.75,688.70 L592.20,689.17 L592.65,689.40 L593.10,689.71 L593.55,689.55 L594.00,689.43 L594.45,689.09 L594.90,688.65 L595.35,689.60 L595.80,688.56 L596.25,688.19 L596.70,691.51 L597.15,690.15 L597.60,689.14 L598.05,689.25 L598.50,688.58 L598.95,690.78 L599.40,691.54 L599.85,689.98 L600.30,688.26 L600.75,687.97 L601.20,689.30 L601.65,690.02 L602.10,689.62 L602.55,690.08 L603.00,690.39 L603.45,690.62 L603.90,690.49 L604.35,689.18 L604.80,690.08 L605.25,689.41 L605.70,689.33 L606.15,690.74 L606.60,689.89 L607.05,689.99 L607.50,689.94 L607.95,690.31 L608.40,690.42 L608.85,689.79 L609.30,690.56 L609.75,690.95 L610.20,691.32 L610.65,691.65 L611.10,690.40 L611.55,690.83 L612.00,691.90 L612.45,691.09 L612.90,690.40 L613.35,691.95 L613.80,691.55 L614.25,690.16 L614.70,690.95 L615.15,690.78 L615.60,689.16 L616.05,688.93 L616.50,690.79 L616.95,692.32 L617.40,692.52 L617.85,692.41 L618.30,691.30 L618.75,691.54 L619.20,693.11 L619.65,692.29 L620.10,692.20 L620.55,692.46 L621.00,692.03 L621.45,692.53 L621.90,691.51 L622.35,692.25 L622.80,692.69 L623.25,691.73 L623.70,692.01 L624.15,692.40 L624.60,693.03 L625.05,692.80 L625.50,693.46 L625.95,693.67 L626.40,692.56 L626.85,690.58 L627.30,690.70 L627.75,692.39 L628.20,692.05 L628.65,691.73 L629.10,692.71 L629.55,693.96 L630.00,694.83 L630.45,694.93 L630.90,693.32 L631.35,692.79 L631.80,692.42 L632.25,692.76 L632.70,693.89 L633.15,693.08 L633.60,692.83 L634.05,693.10 L634.50,692.80 L634.95,693.84 L635.40,696.26 L635.85,695.99 L636.30,694.73 L636.75,694.34 L637.20,693.49 L637.65,694.83 L638.10,694.86 L638.55,693.75 L639.00,693.95 L639.45,694.11 L639.90,694.20 L640.35,694.24 L640.80,693.51 L641.25,693.11 L641.70,694.83 L642.15,694.27 L642.60,693.01 L643.05,694.58 L643.50,695.30 L643.95,695.15 L644.40,693.50 L644.85,692.95 L645.30,693.60 L645.75,692.66 L646.20,693.77 L646.65,695.45 L647.10,694.27 L647.55,692.85 L648.00,693.46 L648.45,694.12 L648.90,693.69 L649.35,695.24 L649.80,696.50 L650.25,694.87 L650.70,694.20 L651.15,695.95 L651.60,697.75 L652.05,695.99 L652.50,694.82 L652.95,695.97 L653.40,695.03 L653.85,693.89 L654.30,695.54 L654.75,695.51 L655.20,694.41 L655.65,694.03 L656.10,693.85 L656.55,695.19 L657.00,695.18 L657.45,693.95 L657.90,694.11 L658.35,696.11 L658.80,696.66 L659.25,695.20 L659.70,695.23 L660.15,695.90 L660.60,695.92 L661.05,694.52 L661.50,694.67 L661.95,695.72 L662.40,696.11 L662.85,695.41 L663.30,695.58 L663.75,696.17 L664.20,694.44 L664.65,695.64 L665.10,696.44 L665.55,695.86 L666.00,696.12 L666.45,696.61 L666.90,697.46 L667.35,697.50 L667.80,697.28 L668.25,695.57 L668.70,694.06 L669.15,695.26 L669.60,695.76 L670.05,695.96 L670.50,696.71 L670.95,695.54 L671.40,694.80 L671.85,695.01 L672.30,695.14 L672.75,695.77 L673.20,696.81 L673.65,697.83 L674.10,696.80 L674.55,695.62 L675.00,697.27 L675.45,698.24 L675.90,697.42 L676.35,695.38 L676.80,694.61 L677.25,696.25 L677.70,696.56 L678.15,697.76 L678.60,698.23 L679.05,697.17 L679.50,696.44 L679.95,695.62 L680.40,695.93 L680.85,696.23 L681.30,696.54 L681.75,697.22 L682.20,697.56 L682.65,697.99 L683.10,697.00 L683.55,696.51" fill="none" stroke="#000" stroke-width="3.0" stroke-linejoin="round"/>
<path d="M405.00,580.39 L405.45,581.50 L405.90,583.25 L406.35,583.19 L406.80,584.59 L407.25,586.58 L407.70,588.75 L408.15,591.68 L408.60,590.63 L409.05,589.72 L409.50,593.54 L409.95,595.74 L410.40,594.85 L410.85,594.73 L411.30,594.96 L411.75,597.05 L412.20,598.67 L412.65,597.99 L413.10,599.50 L413.55,601.47 L414.00,600.20 L414.45,601.69 L414.90,603.24 L415.35,603.81 L415.80,604.22 L416.25,604.59 L416.70,604.33 L417.15,605.12 L417.60,605.99 L418.05,606.53 L418.50,606.23 L418.95,606.62 L419.40,610.30 L419.85,611.31 L420.30,612.22 L420.75,611.16 L421.20,611.97 L421.65,615.01 L422.10,612.79 L422.55,610.92 L423.00,611.98 L423.45,613.18 L423.90,614.36 L424.35,612.47 L424.80,613.32 L425.25,615.91 L425.70,614.82 L426.15,616.44 L426.60,617.55 L427.05,618.19 L427.50,619.49 L427.95,618.54 L428.40,619.61 L428.85,621.15 L429.30,619.98 L429.75,618.10 L430.20,618.51 L430.65,621.11 L431.10,621.86 L431.55,623.41 L432.00,624.35 L432.45,623.32 L432.90,623.96 L433.35,623.44 L433.80,623.48 L434.25,624.25 L434.70,622.66 L435.15,622.14 L435.60,625.67 L436.05,627.51 L436.50,627.23 L436.95,626.78 L437.40,626.84 L437.85,629.52 L438.30,630.66 L438.75,629.86 L439.20,631.70 L439.65,632.60 L440.10,631.25 L440.55,632.87 L441.00,632.00 L441.45,631.84 L441.90,632.80 L442.35,631.81 L442.80,632.47 L443.25,633.53 L443.70,634.47 L444.15,634.81 L444.60,635.08 L445.05,636.31 L445.50,637.91 L445.95,637.41 L446.40,636.68 L446.85,635.81 L447.30,634.19 L447.75,635.28 L448.20,636.54 L448.65,636.96 L449.10,635.33 L449.55,637.24 L450.00,637.94 L450.45,635.96 L450.90,637.58 L451.35,636.86 L451.80,636.07 L452.25,635.87 L452.70,635.53 L453.15,635.81 L453.60,637.02 L454.05,638.68 L454.50,638.63 L454.95,639.48 L455.40,640.80 L455.85,640.21 L456.30,639.40 L456.75,639.45 L457.20,639.53 L457.65,640.77 L458.10,641.44 L458.55,640.61 L459.00,640.54 L459.45,641.33 L459.90,641.44 L460.35,641.52 L460.80,641.98 L461.25,642.87 L461.70,643.86 L462.15,642.31 L462.60,641.69 L463.05,643.28 L463.50,643.32 L463.95,643.61 L464.40,644.34 L464.85,644.44 L465.30,644.45 L465.75,644.55 L466.20,645.23 L466.65,644.43 L467.10,643.84 L467.55,644.46 L468.00,646.46 L468.45,647.65 L468.90,647.14 L469.35,647.39 L469.80,647.16 L470.25,646.91 L470.70,648.13 L471.15,648.71 L471.60,649.52 L472.05,650.23 L472.50,649.62 L472.95,649.69 L473.40,649.93 L473.85,650.43 L474.30,651.78 L474.75,653.55 L475.20,652.13 L475.65,651.07 L476.10,652.51 L476.55,652.02 L477.00,651.42 L477.45,651.96 L477.90,651.08 L478.35,652.04 L478.80,653.80 L479.25,653.58 L479.70,653.92 L480.15,654.39 L480.60,656.07 L481.05,656.28 L481.50,655.57 L481.95,655.36 L482.40,655.27 L482.85,655.62 L483.30,655.50 L483.75,655.33 L484.20,655.11 L484.65,656.19 L485.10,657.39 L485.55,657.60 L486.00,656.90 L486.45,657.01 L486.90,656.03 L487.35,656.63 L487.80,658.44 L488.25,658.21 L488.70,659.19 L489.15,658.95 L489.60,659.03 L490.05,659.22 L490.50,659.16 L490.95,659.39 L491.40,659.44 L491.85,660.84 L492.30,660.43 L492.75,659.33 L493.20,659.75 L493.65,660.54 L494.10,662.73 L494.55,662.40 L495.00,659.56 L495.45,659.74 L495.90,660.26 L496.35,660.55 L496.80,661.80 L497.25,661.77 L497.70,661.56 L498.15,661.20 L498.60,661.98 L499.05,662.92 L499.50,663.73 L499.95,665.10 L500.40,664.08 L500.85,663.41 L501.30,664.22 L501.75,665.17 L502.20,664.30 L502.65,663.99 L503.10,666.48 L503.55,666.69 L504.00,665.87 L504.45,666.15 L504.90,665.46 L505.35,666.27 L505.80,667.40 L506.25,667.08 L506.70,667.55 L507.15,668.12 L507.60,666.63 L508.05,666.61 L508.50,667.63 L508.95,667.60 L509.40,667.69 L509.85,667.21 L510.30,668.46 L510.75,669.18 L511.20,668.57 L511.65,668.57 L512.10,668.98 L512.55,669.33 L513.00,667.95 L513.45,667.58 L513.90,669.12 L514.35,670.33 L514.80,671.53 L515.25,670.64 L515.70,671.18 L516.15,672.01 L516.60,671.26 L517.05,671.01 L517.50,670.47 L517.95,671.87 L518.40,672.26 L518.85,671.42 L519.30,672.43 L519.75,673.74 L520.20,672.18 L520.65,671.11 L521.10,672.19 L521.55,673.61 L522.00,675.33 L522.45,674.28 L522.90,673.09 L523.35,673.81 L523.80,674.45 L524.25,673.84 L524.70,673.79 L525.15,673.69 L525.60,671.57 L526.05,671.28 L526.50,673.26 L526.95,674.78 L527.40,673.35 L527.85,671.83 L528.30,673.39 L528.75,672.53 L529.20,673.04 L529.65,676.00 L530.10,673.88 L530.55,673.84 L531.00,675.76 L531.45,676.31 L531.90,676.75 L532.35,675.83 L532.80,675.87 L533.25,676.75 L533.70,676.94 L534.15,676.50 L534.60,675.59 L535.05,676.01 L535.50,677.09 L535.95,678.09 L536.40,678.20 L536.85,677.11 L537.30,676.85 L537.75,677.51 L538.20,677.91 L538.65,677.14 L539.10,678.42 L539.55,680.15 L540.00,678.97 L540.45,677.32 L540.90,678.46 L541.35,678.72 L541.80,679.94 L542.25,680.52 L542.70,679.47 L543.15,678.86 L543.60,678.36 L544.05,680.03 L544.50,680.47 L544.95,679.56 L545.40,680.98 L545.85,681.94 L546.30,680.36 L546.75,679.64 L547.20,679.75 L547.65,681.13 L548.10,680.95 L548.55,680.24 L549.00,680.35 L549.45,681.26 L549.90,681.82 L550.35,681.71 L550.80,682.31 L551.25,681.52 L551.70,681.75 L552.15,682.86 L552.60,681.82 L553.05,681.81 L553.50,684.96 L553.95,684.47 L554.40,682.74 L554.85,682.22 L555.30,682.25 L555.75,682.87 L556.20,683.21 L556.65,683.69 L557.10,682.59 L557.55,683.47 L558.00,684.23 L558.45,683.02 L558.90,683.34 L559.35,683.51 L559.80,683.84 L560.25,684.53 L560.70,684.14 L561.15,684.70 L561.60,684.19 L562.05,684.47 L562.50,684.09 L562.95,684.57 L563.40,686.06 L563.85,684.94 L564.30,684.43 L564.75,685.03 L565.20,685.48 L565.65,685.10 L566.10,685.95 L566.55,685.86 L567.00,685.13 L567.45,685.76 L567.90,686.69 L568.35,686.39 L568.80,685.89 L569.25,686.10 L569.70,686.55 L570.15,687.56 L570.60,686.56 L571.05,685.60 L571.50,686.25 L571.95,686.80 L572.40,687.88 L572.85,687.57 L573.30,686.82 L573.75,687.64 L574.20,686.78 L574.65,685.64 L575.10,686.22 L575.55,686.78 L576.00,687.29 L576.45,687.03 L576.90,688.07 L577.35,688.02 L577.80,686.83 L578.25,688.05 L578.70,688.74 L579.15,688.10 L579.60,687.91 L580.05,688.51 L580.50,688.33 L580.95,688.29 L581.40,687.77 L581.85,687.46 L582.30,687.06 L582.75,686.51 L583.20,686.89 L583.65,688.34 L584.10,688.84 L584.55,688.30 L585.00,688.06 L585.45,687.81 L585.90,688.29 L586.35,687.93 L586.80,688.73 L587.25,688.28 L587.70,688.19 L588.15,691.05 L588.60,690.18 L589.05,688.55 L589.50,688.13 L589.95,688.16 L590.40,688.11 L590.85,688.60 L591.30,689.46 L591.75,687.92 L592.20,687.46 L592.65,687.68 L593.10,688.38 L593.55,690.01 L594.00,689.99 L594.45,688.73 L594.90,688.50 L595.35,689.39 L595.80,688.40 L596.25,688.76 L596.70,690.65 L597.15,688.73 L597.60,689.28 L598.05,689.87 L598.50,689.01 L598.95,690.89 L599.40,690.02 L599.85,688.11 L600.30,688.50 L600.75,689.04 L601.20,689.73 L601.65,690.15 L602.10,689.97 L602.55,690.05 L603.00,690.31 L603.45,690.12 L603.90,690.51 L604.35,691.12 L604.80,690.30 L605.25,691.54 L605.70,691.43 L606.15,690.78 L606.60,691.18 L607.05,691.00 L607.50,691.88 L607.95,692.26 L608.40,692.90 L608.85,691.85 L609.30,692.85 L609.75,693.71 L610.20,691.39 L610.65,690.30 L611.10,692.41 L611.55,694.42 L612.00,692.95 L612.45,692.43 L612.90,693.36 L613.35,692.98 L613.80,691.91 L614.25,691.88 L614.70,692.76 L615.15,692.85 L615.60,691.56 L616.05,692.10 L616.50,691.83 L616.95,690.91 L617.40,692.89 L617.85,693.59 L618.30,692.99 L618.75,692.96 L619.20,693.54 L619.65,693.49 L620.10,691.60 L620.55,691.84 L621.00,691.15 L621.45,689.70 L621.90,692.76 L622.35,694.81 L622.80,693.52 L623.25,692.84 L623.70,693.24 L624.15,693.98 L624.60,693.46 L625.05,692.27 L625.50,692.41 L625.95,693.11 L626.40,693.73 L626.85,693.43 L627.30,693.79 L627.75,693.42 L628.20,692.92 L628.65,693.17 L629.10,692.61 L629.55,693.90 L630.00,694.39 L630.45,692.97 L630.90,693.25 L631.35,693.29 L631.80,693.69 L632.25,694.94 L632.70,695.26 L633.15,694.06 L633.60,693.34 L634.05,695.27 L634.50,695.26 L634.95,694.93 L635.40,696.10 L635.85,694.42 L636.30,694.26 L636.75,695.69 L637.20,695.51 L637.65,696.16 L638.10,695.93 L638.55,694.93 L639.00,695.06 L639.45,694.83 L639.90,694.80 L640.35,693.75 L640.80,694.59 L641.25,695.60 L641.70,694.87 L642.15,695.45 L642.60,695.21 L643.05,695.11 L643.50,695.13 L643.95,694.02 L644.40,693.66 L644.85,695.54 L645.30,695.27 L645.75,693.85 L646.20,695.92 L646.65,697.43 L647.10,697.11 L647.55,696.35 L648.00,695.55 L648.45,696.09 L648.90,696.32 L649.35,695.80 L649.80,694.52 L650.25,694.14 L650.70,694.14 L651.15,695.68 L651.60,696.43 L652.05,695.33 L652.50,695.81 L652.95,695.97 L653.40,696.17 L653.85,695.79 L654.30,694.49 L654.75,696.07 L655.20,696.63 L655.65,695.22 L656.10,695.20 L656.55,695.19 L657.00,695.75 L657.45,696.63 L657.90,695.97 L658.35,695.71 L658.80,695.99 L659.25,696.62 L659.70,696.29 L660.15,695.61 L660.60,696.91 L661.05,696.00 L661.50,695.65 L661.95,696.66 L662.40,696.11 L662.85,695.91 L663.30,697.10 L663.75,697.43 L664.20,696.56 L664.65,696.30 L665.10,696.90 L665.55,697.88 L666.00,698.14 L666.45,697.82 L666.90,698.35 L667.35,696.92 L667.80,695.02 L668.25,694.58 L668.70,696.07 L669.15,696.10 L669.60,695.56 L670.05,697.55 L670.50,696.71 L670.95,695.84 L671.40,696.60 L671.85,697.52 L672.30,696.75 L672.75,696.52 L673.20,697.97 L673.65,697.89 L674.10,697.58 L674.55,698.32 L675.00,698.39 L675.45,697.61 L675.90,697.28 L676.35,697.75 L676.80,697.81 L677.25,697.85 L677.70,698.13 L678.15,698.46 L678.60,697.93 L679.05,697.28 L679.50,698.05 L679.95,698.30 L680.40,698.83 L680.85,698.85 L681.30,698.74 L681.75,699.77 L682.20,699.77 L682.65,697.87 L683.10,696.45 L683.55,697.57" fill="none" stroke="#e21a1a" stroke-width="2.8" stroke-linejoin="round"/>
<path d="M405.00,579.39 L405.45,580.83 L405.90,582.72 L406.35,583.53 L406.80,587.16 L407.25,589.20 L407.70,589.08 L408.15,588.62 L408.60,587.60 L409.05,590.29 L409.50,592.18 L409.95,592.02 L410.40,592.89 L410.85,593.84 L411.30,597.40 L411.75,597.90 L412.20,596.23 L412.65,597.63 L413.10,599.07 L413.55,598.60 L414.00,597.48 L414.45,598.89 L414.90,601.19 L415.35,601.76 L415.80,601.78 L416.25,602.41 L416.70,603.76 L417.15,605.31 L417.60,604.90 L418.05,605.23 L418.50,607.80 L418.95,608.81 L419.40,607.71 L419.85,607.97 L420.30,609.70 L420.75,611.22 L421.20,610.13 L421.65,610.50 L422.10,612.06 L422.55,612.05 L423.00,613.60 L423.45,613.02 L423.90,612.06 L424.35,613.24 L424.80,615.16 L425.25,615.20 L425.70,613.62 L426.15,613.94 L426.60,616.11 L427.05,618.33 L427.50,617.94 L427.95,616.98 L428.40,617.75 L428.85,618.38 L429.30,618.09 L429.75,618.25 L430.20,619.81 L430.65,620.77 L431.10,621.04 L431.55,620.43 L432.00,620.35 L432.45,621.11 L432.90,623.13 L433.35,625.71 L433.80,625.58 L434.25,626.27 L434.70,626.22 L435.15,624.99 L435.60,624.59 L436.05,625.64 L436.50,627.00 L436.95,627.40 L437.40,628.82 L437.85,629.00 L438.30,627.95 L438.75,628.60 L439.20,630.06 L439.65,630.59 L440.10,631.75 L440.55,631.99 L441.00,631.55 L441.45,633.82 L441.90,635.44 L442.35,634.02 L442.80,632.36 L443.25,632.21 L443.70,633.63 L444.15,635.03 L444.60,637.12 L445.05,636.27 L445.50,634.31 L445.95,634.38 L446.40,634.49 L446.85,634.63 L447.30,633.71 L447.75,635.21 L448.20,636.51 L448.65,636.92 L449.10,636.49 L449.55,635.69 L450.00,636.95 L450.45,635.48 L450.90,634.41 L451.35,636.25 L451.80,637.35 L452.25,635.93 L452.70,635.63 L453.15,636.35 L453.60,636.74 L454.05,638.60 L454.50,638.77 L454.95,639.30 L455.40,639.73 L455.85,638.22 L456.30,639.59 L456.75,640.87 L457.20,640.98 L457.65,641.83 L458.10,641.86 L458.55,641.64 L459.00,640.11 L459.45,639.05 L459.90,640.64 L460.35,641.51 L460.80,641.92 L461.25,641.72 L461.70,642.19 L462.15,643.99 L462.60,643.88 L463.05,643.37 L463.50,643.55 L463.95,643.83 L464.40,643.87 L464.85,643.22 L465.30,643.47 L465.75,644.14 L466.20,643.37 L466.65,643.78 L467.10,645.09 L467.55,645.41 L468.00,645.38 L468.45,645.89 L468.90,646.96 L469.35,646.55 L469.80,646.70 L470.25,647.97 L470.70,648.58 L471.15,647.84 L471.60,647.07 L472.05,648.01 L472.50,648.33 L472.95,650.23 L473.40,650.71 L473.85,648.98 L474.30,650.21 L474.75,650.72 L475.20,649.12 L475.65,649.58 L476.10,650.69 L476.55,650.70 L477.00,650.55 L477.45,650.56 L477.90,651.72 L478.35,652.49 L478.80,652.14 L479.25,651.98 L479.70,652.39 L480.15,653.18 L480.60,653.87 L481.05,653.25 L481.50,653.98 L481.95,654.56 L482.40,654.61 L482.85,654.69 L483.30,654.83 L483.75,655.54 L484.20,655.59 L484.65,656.18 L485.10,656.63 L485.55,656.62 L486.00,656.65 L486.45,655.96 L486.90,656.01 L487.35,655.64 L487.80,654.48 L488.25,655.87 L488.70,657.34 L489.15,658.68 L489.60,659.45 L490.05,659.41 L490.50,659.01 L490.95,658.79 L491.40,659.93 L491.85,660.19 L492.30,659.89 L492.75,659.83 L493.20,659.25 L493.65,658.84 L494.10,658.74 L494.55,659.79 L495.00,660.74 L495.45,660.29 L495.90,660.92 L496.35,661.21 L496.80,661.87 L497.25,663.66 L497.70,663.51 L498.15,662.11 L498.60,661.11 L499.05,663.04 L499.50,664.49 L499.95,662.72 L500.40,663.34 L500.85,663.25 L501.30,662.53 L501.75,663.65 L502.20,663.93 L502.65,663.59 L503.10,665.55 L503.55,666.25 L504.00,665.21 L504.45,665.70 L504.90,664.67 L505.35,664.50 L505.80,665.83 L506.25,666.95 L506.70,666.77 L507.15,666.60 L507.60,666.78 L508.05,667.09 L508.50,665.93 L508.95,666.11 L509.40,667.46 L509.85,666.89 L510.30,665.67 L510.75,665.54 L511.20,667.90 L511.65,670.20 L512.10,669.55 L512.55,667.85 L513.00,668.78 L513.45,669.56 L513.90,669.05 L514.35,668.94 L514.80,669.25 L515.25,669.93 L515.70,670.85 L516.15,671.74 L516.60,671.99 L517.05,671.45 L517.50,671.12 L517.95,671.44 L518.40,670.85 L518.85,671.76 L519.30,672.70 L519.75,672.37 L520.20,671.83 L520.65,671.73 L521.10,672.62 L521.55,671.99 L522.00,671.46 L522.45,671.16 L522.90,672.86 L523.35,674.32 L523.80,673.40 L524.25,672.89 L524.70,672.49 L525.15,671.35 L525.60,670.81 L526.05,671.73 L526.50,672.90 L526.95,672.68 L527.40,673.42 L527.85,674.63 L528.30,674.37 L528.75,673.06 L529.20,672.96 L529.65,674.19 L530.10,673.66 L530.55,672.43 L531.00,674.58 L531.45,676.49 L531.90,675.17 L532.35,675.92 L532.80,677.01 L533.25,676.41 L533.70,675.98 L534.15,676.33 L534.60,677.25 L535.05,676.93 L535.50,675.99 L535.95,676.45 L536.40,674.94 L536.85,674.76 L537.30,676.43 L537.75,676.50 L538.20,676.77 L538.65,677.13 L539.10,677.45 L539.55,677.41 L540.00,677.40 L540.45,677.78 L540.90,677.68 L541.35,678.15 L541.80,677.54 L542.25,677.18 L542.70,678.67 L543.15,677.87 L543.60,677.44 L544.05,679.23 L544.50,679.56 L544.95,678.29 L545.40,676.61 L545.85,677.52 L546.30,679.62 L546.75,679.93 L547.20,681.30 L547.65,681.05 L548.10,679.97 L548.55,679.67 L549.00,679.68 L549.45,680.23 L549.90,680.89 L550.35,681.40 L550.80,680.56 L551.25,680.05 L551.70,681.55 L552.15,681.38 L552.60,681.12 L553.05,682.91 L553.50,682.99 L553.95,682.26 L554.40,682.85 L554.85,683.06 L555.30,682.33 L555.75,682.12 L556.20,683.00 L556.65,683.71 L557.10,684.11 L557.55,683.59 L558.00,682.55 L558.45,682.63 L558.90,683.15 L559.35,683.12 L559.80,683.66 L560.25,684.43 L560.70,683.31 L561.15,681.30 L561.60,680.84 L562.05,683.72 L562.50,684.93 L562.95,684.18 L563.40,684.03 L563.85,684.27 L564.30,683.40 L564.75,681.96 L565.20,682.22 L565.65,683.62 L566.10,685.19 L566.55,685.53 L567.00,685.08 L567.45,684.04 L567.90,684.71 L568.35,685.43 L568.80,684.99 L569.25,685.20 L569.70,685.00 L570.15,684.66 L570.60,684.67 L571.05,684.39 L571.50,685.00 L571.95,685.79 L572.40,686.36 L572.85,685.40 L573.30,685.58 L573.75,686.77 L574.20,686.00 L574.65,685.61 L575.10,685.27 L575.55,684.90 L576.00,686.06 L576.45,686.95 L576.90,686.90 L577.35,687.63 L577.80,686.92 L578.25,686.31 L578.70,686.47 L579.15,687.35 L579.60,687.72 L580.05,687.24 L580.50,687.68 L580.95,687.59 L581.40,688.50 L581.85,688.03 L582.30,687.59 L582.75,689.14 L583.20,687.68 L583.65,687.41 L584.10,688.38 L584.55,688.45 L585.00,687.58 L585.45,687.24 L585.90,687.45 L586.35,687.15 L586.80,688.75 L587.25,688.94 L587.70,686.67 L588.15,685.93 L588.60,686.71 L589.05,688.31 L589.50,688.66 L589.95,687.09 L590.40,688.31 L590.85,689.53 L591.30,689.10 L591.75,688.50 L592.20,689.25 L592.65,689.74 L593.10,687.63 L593.55,687.04 L594.00,687.81 L594.45,688.49 L594.90,689.57 L595.35,689.26 L595.80,688.45 L596.25,690.37 L596.70,690.86 L597.15,689.18 L597.60,689.20 L598.05,688.80 L598.50,689.18 L598.95,690.64 L599.40,689.99 L599.85,690.07 L600.30,690.31 L600.75,689.91 L601.20,689.68 L601.65,689.04 L602.10,688.61 L602.55,689.32 L603.00,690.15 L603.45,689.90 L603.90,689.42 L604.35,688.90 L604.80,689.27 L605.25,690.37 L605.70,691.02 L606.15,690.34 L606.60,690.39 L607.05,692.00 L607.50,691.93 L607.95,692.16 L608.40,692.42 L608.85,692.04 L609.30,691.48 L609.75,691.44 L610.20,691.08 L610.65,690.54 L611.10,691.14 L611.55,689.77 L612.00,689.17 L612.45,691.21 L612.90,692.45 L613.35,692.61 L613.80,692.48 L614.25,689.86 L614.70,689.95 L615.15,691.49 L615.60,691.07 L616.05,691.20 L616.50,691.09 L616.95,690.82 L617.40,692.15 L617.85,693.10 L618.30,691.95 L618.75,691.46 L619.20,692.55 L619.65,693.11 L620.10,692.66 L620.55,691.69 L621.00,691.33 L621.45,691.43 L621.90,690.52 L622.35,691.85 L622.80,692.91 L623.25,692.11 L623.70,691.75 L624.15,692.54 L624.60,694.52 L625.05,694.45 L625.50,693.75 L625.95,692.63 L626.40,692.19 L626.85,693.16 L627.30,694.04 L627.75,693.95 L628.20,692.44 L628.65,692.43 L629.10,692.79 L629.55,693.80 L630.00,694.54 L630.45,693.87 L630.90,693.61 L631.35,693.97 L631.80,693.58 L632.25,692.50 L632.70,691.65 L633.15,693.03 L633.60,694.59 L634.05,694.29 L634.50,694.03 L634.95,694.72 L635.40,694.11 L635.85,693.86 L636.30,693.99 L636.75,692.97 L637.20,692.78 L637.65,693.16 L638.10,693.79 L638.55,694.05 L639.00,693.90 L639.45,692.78 L639.90,693.55 L640.35,695.30 L640.80,695.45 L641.25,694.63 L641.70,694.46 L642.15,693.45 L642.60,693.02 L643.05,694.88 L643.50,695.42 L643.95,694.17 L644.40,694.46 L644.85,694.96 L645.30,694.92 L645.75,694.14 L646.20,693.38 L646.65,694.52 L647.10,695.08 L647.55,695.27 L648.00,695.11 L648.45,694.66 L648.90,695.01 L649.35,695.72 L649.80,694.50 L650.25,693.78 L650.70,694.65 L651.15,694.99 L651.60,695.80 L652.05,694.90 L652.50,694.63 L652.95,694.41 L653.40,693.63 L653.85,694.44 L654.30,694.78 L654.75,694.76 L655.20,694.64 L655.65,694.85 L656.10,695.04 L656.55,694.13 L657.00,693.45 L657.45,694.38 L657.90,695.64 L658.35,696.59 L658.80,698.10 L659.25,697.57 L659.70,695.30 L660.15,695.38 L660.60,696.35 L661.05,696.37 L661.50,695.30 L661.95,695.18 L662.40,695.87 L662.85,695.08 L663.30,694.37 L663.75,696.06 L664.20,695.46 L664.65,694.84 L665.10,696.12 L665.55,696.93 L666.00,697.51 L666.45,696.12 L666.90,696.56 L667.35,696.79 L667.80,697.29 L668.25,698.72 L668.70,697.45 L669.15,696.92 L669.60,697.12 L670.05,696.09 L670.50,696.68 L670.95,697.56 L671.40,697.46 L671.85,697.90 L672.30,698.29 L672.75,698.30 L673.20,697.39 L673.65,696.82 L674.10,697.17 L674.55,697.08 L675.00,696.70 L675.45,697.99 L675.90,698.48 L676.35,698.53 L676.80,697.77 L677.25,696.58 L677.70,696.83 L678.15,696.64 L678.60,696.77 L679.05,696.97 L679.50,696.91 L679.95,698.16 L680.40,698.89 L680.85,697.32 L681.30,696.58 L681.75,697.56 L682.20,698.28 L682.65,697.46 L683.10,697.72 L683.55,697.22" fill="none" stroke="#2a55b5" stroke-width="2.8" stroke-linejoin="round"/></g>
<rect x="404.90" y="539.80" width="278.50" height="175.30" fill="none" stroke="#000" stroke-width="2.3"/>
<line x1="452.00" y1="715.10" x2="452.00" y2="707.10" stroke="#000" stroke-width="2.2"/>
<line x1="452.00" y1="539.80" x2="452.00" y2="547.60" stroke="#000" stroke-width="2.2"/>
<text x="452.00" y="734.20" font-size="14.4" text-anchor="middle" fill="#000">400</text>
<line x1="517.70" y1="715.10" x2="517.70" y2="707.10" stroke="#000" stroke-width="2.2"/>
<line x1="517.70" y1="539.80" x2="517.70" y2="547.60" stroke="#000" stroke-width="2.2"/>
<text x="517.70" y="734.20" font-size="14.4" text-anchor="middle" fill="#000">500</text>
<line x1="583.40" y1="715.10" x2="583.40" y2="707.10" stroke="#000" stroke-width="2.2"/>
<line x1="583.40" y1="539.80" x2="583.40" y2="547.60" stroke="#000" stroke-width="2.2"/>
<text x="583.40" y="734.20" font-size="14.4" text-anchor="middle" fill="#000">600</text>
<line x1="649.10" y1="715.10" x2="649.10" y2="707.10" stroke="#000" stroke-width="2.2"/>
<line x1="649.10" y1="539.80" x2="649.10" y2="547.60" stroke="#000" stroke-width="2.2"/>
<text x="649.10" y="734.20" font-size="14.4" text-anchor="middle" fill="#000">700</text>
<line x1="404.90" y1="619.00" x2="412.90" y2="619.00" stroke="#000" stroke-width="2.2"/>
<line x1="683.40" y1="619.00" x2="678.40" y2="619.00" stroke="#000" stroke-width="2.2"/>
<line x1="404.90" y1="541.80" x2="412.90" y2="541.80" stroke="#000" stroke-width="2.2"/>
<line x1="683.40" y1="541.80" x2="678.40" y2="541.80" stroke="#000" stroke-width="2.2"/>
<text x="399.30" y="701.20" font-size="14.4" text-anchor="end" fill="#000">0.00</text>
<text x="399.30" y="624.00" font-size="14.4" text-anchor="end" fill="#000">0.01</text>
<text x="399.30" y="546.80" font-size="14.4" text-anchor="end" fill="#000">0.02</text>
<text x="545.20" y="754.00" font-size="15.3" text-anchor="middle" fill="#000">Wavelength (nm)</text>
<text x="365.30" y="619.10" font-size="15.3" text-anchor="middle" fill="#000" transform="rotate(-90 365.30 619.10)">Absorbance</text>
<rect x="552.30" y="544.20" width="125.90" height="104.50" fill="#fff" stroke="none" stroke-width="1"/>
<defs><clipPath id="cic"><rect x="555.3" y="547.2" width="120.90000000000009" height="98.5"/></clipPath></defs>
<line x1="555.30" y1="596.60" x2="676.20" y2="596.60" stroke="#000" stroke-width="2.0"/>
<g clip-path="url(#cic)"><path d="M555.22,560.70 L555.65,584.25 L556.07,597.48 L556.49,599.74 L556.91,624.50 L557.34,608.80 L557.76,579.86 L558.18,593.07 L558.61,581.50 L559.03,584.34 L559.45,575.31 L559.87,615.75 L560.29,587.64 L560.72,588.27 L561.14,587.71 L561.56,599.70 L561.99,626.81 L562.41,568.12 L562.83,564.30 L563.25,531.96 L563.68,566.05 L564.10,547.08 L564.52,568.85 L564.94,589.13 L565.37,570.92 L565.79,605.49 L566.21,576.18 L566.63,583.49 L567.06,603.16 L567.48,555.82 L567.90,557.97 L568.32,571.61 L568.75,564.25 L569.17,546.96 L569.59,583.96 L570.01,609.30 L570.44,601.03 L570.86,566.98 L571.28,577.16 L571.70,613.50 L572.13,555.90 L572.55,579.85 L572.97,551.77 L573.39,562.95 L573.82,594.26 L574.24,587.36 L574.66,601.21 L575.08,603.99 L575.51,596.82 L575.93,585.67 L576.35,573.34 L576.77,608.63 L577.20,584.96 L577.62,595.52 L578.04,599.71 L578.46,579.15 L578.89,601.78 L579.31,575.30 L579.73,601.40 L580.15,610.38 L580.58,584.56 L581.00,618.53 L581.42,614.37 L581.84,599.08 L582.27,596.18 L582.69,600.32 L583.11,626.39 L583.53,616.61 L583.96,588.35 L584.38,587.92 L584.80,605.47 L585.22,594.04 L585.65,594.91 L586.07,588.11 L586.49,604.62 L586.91,585.67 L587.34,602.58 L587.76,587.88 L588.18,593.76 L588.60,612.53 L589.03,607.52 L589.45,603.47 L589.87,598.23 L590.29,621.30 L590.72,614.62 L591.14,605.74 L591.56,608.24 L591.98,623.20 L592.41,622.81 L592.83,611.67 L593.25,625.54 L593.67,614.71 L594.10,608.87 L594.52,617.15 L594.94,641.58 L595.36,606.67 L595.79,606.87 L596.21,604.46 L596.63,609.51 L597.05,632.54 L597.48,604.46 L597.90,614.17 L598.32,608.78 L598.74,618.73 L599.17,619.50 L599.59,619.43 L600.01,602.83 L600.43,614.80 L600.86,619.13 L601.28,628.89 L601.70,613.02 L602.12,617.18 L602.55,615.87 L602.97,608.33 L603.39,610.72 L603.81,617.25 L604.24,615.32 L604.66,616.46 L605.08,610.77 L605.50,611.01 L605.93,616.00 L606.35,625.04 L606.77,609.62 L607.19,609.11 L607.62,626.99 L608.04,613.77 L608.46,620.80 L608.88,637.12 L609.31,617.71 L609.73,608.69 L610.15,623.95 L610.57,623.73 L611.00,608.08 L611.42,627.33 L611.84,625.90 L612.26,620.25 L612.69,611.72 L613.11,611.67 L613.53,622.16 L613.95,620.18 L614.38,616.57 L614.80,620.91 L615.22,625.22 L615.64,627.30 L616.07,610.93 L616.49,619.38 L616.91,591.42 L617.33,611.73 L617.76,624.21 L618.18,617.38 L618.60,614.30 L619.02,613.78 L619.45,613.35 L619.87,613.29 L620.29,618.65 L620.71,611.48 L621.14,597.35 L621.56,620.77 L621.98,619.64 L622.40,608.98 L622.83,603.20 L623.25,606.05 L623.67,601.29 L624.09,611.55 L624.52,611.90 L624.94,602.54 L625.36,601.00 L625.78,590.59 L626.21,590.27 L626.63,619.65 L627.05,594.80 L627.47,606.75 L627.90,618.73 L628.32,595.12 L628.74,599.40 L629.16,600.38 L629.59,608.40 L630.01,605.71 L630.43,598.40 L630.85,610.02 L631.28,597.45 L631.70,595.45 L632.12,597.87 L632.54,593.78 L632.97,597.11 L633.39,607.04 L633.81,605.88 L634.23,595.29 L634.66,587.76 L635.08,595.16 L635.50,601.08 L635.92,595.02 L636.35,612.94 L636.77,605.57 L637.19,599.97 L637.61,597.13 L638.04,599.51 L638.46,599.02 L638.88,607.34 L639.30,601.78 L639.73,594.33 L640.15,613.29 L640.57,607.49 L640.99,599.75 L641.42,583.15 L641.84,590.46 L642.26,582.41 L642.68,584.43 L643.11,600.67 L643.53,597.23 L643.95,607.26 L644.37,585.94 L644.80,589.99 L645.22,591.23 L645.64,590.58 L646.06,592.42 L646.49,594.70 L646.91,594.09 L647.33,585.61 L647.75,603.74 L648.18,606.07 L648.60,596.56 L649.02,586.07 L649.44,594.41 L649.87,598.45 L650.29,589.02 L650.71,595.57 L651.13,613.81 L651.56,605.71 L651.98,615.54 L652.40,598.58 L652.82,600.63 L653.25,592.59 L653.67,577.42 L654.09,601.97 L654.51,596.49 L654.94,600.02 L655.36,622.05 L655.78,603.46 L656.20,603.08 L656.63,594.07 L657.05,604.15 L657.47,608.26 L657.89,591.21 L658.32,597.14 L658.74,604.66 L659.16,603.42 L659.58,599.27 L660.01,589.12 L660.43,583.66 L660.85,608.39 L661.27,585.98 L661.70,596.05 L662.12,593.27 L662.54,587.73 L662.96,605.27 L663.39,588.75 L663.81,608.37 L664.23,600.76 L664.65,604.24 L665.08,581.24 L665.50,581.66 L665.92,589.65 L666.34,591.85 L666.77,601.33 L667.19,580.74 L667.61,583.85 L668.03,588.35 L668.46,597.50 L668.88,599.64 L669.30,597.24 L669.72,584.43 L670.15,605.01 L670.57,595.38 L670.99,581.65 L671.41,588.42 L671.84,580.65 L672.26,592.64 L672.68,592.50 L673.10,583.86 L673.53,590.45 L673.95,593.24 L674.37,600.94 L674.79,609.72 L675.22,582.84 L675.64,600.06 L676.06,603.01" fill="none" stroke="#e21a1a" stroke-width="1.4" stroke-linejoin="round"/>
<path d="M555.22,576.95 L555.65,635.42 L556.07,650.85 L556.49,624.75 L556.91,607.80 L557.34,596.62 L557.76,588.60 L558.18,573.34 L558.61,609.50 L559.03,593.41 L559.45,609.28 L559.87,626.84 L560.29,592.13 L560.72,593.75 L561.14,543.84 L561.56,585.56 L561.99,628.68 L562.41,585.62 L562.83,613.79 L563.25,552.99 L563.68,662.14 L564.10,627.45 L564.52,627.37 L564.94,601.43 L565.37,609.73 L565.79,658.24 L566.21,667.32 L566.63,599.36 L567.06,556.72 L567.48,557.13 L567.90,618.66 L568.32,590.12 L568.75,634.14 L569.17,653.35 L569.59,564.67 L570.01,582.90 L570.44,616.38 L570.86,617.51 L571.28,574.36 L571.70,593.68 L572.13,614.92 L572.55,593.77 L572.97,602.73 L573.39,615.15 L573.82,613.63 L574.24,585.60 L574.66,607.93 L575.08,618.84 L575.51,568.58 L575.93,577.16 L576.35,588.51 L576.77,597.71 L577.20,592.85 L577.62,619.60 L578.04,595.45 L578.46,590.20 L578.89,597.62 L579.31,586.61 L579.73,605.94 L580.15,589.67 L580.58,618.00 L581.00,591.84 L581.42,600.91 L581.84,612.04 L582.27,596.02 L582.69,588.46 L583.11,598.03 L583.53,572.29 L583.96,598.60 L584.38,571.15 L584.80,581.06 L585.22,590.81 L585.65,575.15 L586.07,596.15 L586.49,581.78 L586.91,585.32 L587.34,580.05 L587.76,597.67 L588.18,594.84 L588.60,592.14 L589.03,585.73 L589.45,585.25 L589.87,585.77 L590.29,587.88 L590.72,591.27 L591.14,596.28 L591.56,589.19 L591.98,581.97 L592.41,578.30 L592.83,589.79 L593.25,577.89 L593.67,596.20 L594.10,580.13 L594.52,594.19 L594.94,584.16 L595.36,593.21 L595.79,593.32 L596.21,590.12 L596.63,575.30 L597.05,591.03 L597.48,581.32 L597.90,584.84 L598.32,583.73 L598.74,583.65 L599.17,581.27 L599.59,595.06 L600.01,585.68 L600.43,583.38 L600.86,590.40 L601.28,583.32 L601.70,593.69 L602.12,580.54 L602.55,591.29 L602.97,588.11 L603.39,580.04 L603.81,577.87 L604.24,590.28 L604.66,590.81 L605.08,578.56 L605.50,607.69 L605.93,575.93 L606.35,576.27 L606.77,594.03 L607.19,577.04 L607.62,583.28 L608.04,582.56 L608.46,603.46 L608.88,589.71 L609.31,587.47 L609.73,589.10 L610.15,588.94 L610.57,588.18 L611.00,607.61 L611.42,587.53 L611.84,591.25 L612.26,586.70 L612.69,589.78 L613.11,586.06 L613.53,583.91 L613.95,572.67 L614.38,592.25 L614.80,573.32 L615.22,587.87 L615.64,592.79 L616.07,596.97 L616.49,579.55 L616.91,597.48 L617.33,579.19 L617.76,583.45 L618.18,590.35 L618.60,591.09 L619.02,582.41 L619.45,584.91 L619.87,580.48 L620.29,586.09 L620.71,589.94 L621.14,582.03 L621.56,595.11 L621.98,579.70 L622.40,585.68 L622.83,594.51 L623.25,593.76 L623.67,588.54 L624.09,599.84 L624.52,575.74 L624.94,579.19 L625.36,595.07 L625.78,588.08 L626.21,574.89 L626.63,585.19 L627.05,596.49 L627.47,605.75 L627.90,602.50 L628.32,581.75 L628.74,589.06 L629.16,602.05 L629.59,587.44 L630.01,596.20 L630.43,599.12 L630.85,598.59 L631.28,598.67 L631.70,582.92 L632.12,603.17 L632.54,599.34 L632.97,586.36 L633.39,585.16 L633.81,604.05 L634.23,580.89 L634.66,588.21 L635.08,607.89 L635.50,582.85 L635.92,607.85 L636.35,591.41 L636.77,605.36 L637.19,610.15 L637.61,590.11 L638.04,593.37 L638.46,597.22 L638.88,595.13 L639.30,597.37 L639.73,598.56 L640.15,604.74 L640.57,592.14 L640.99,596.42 L641.42,598.45 L641.84,600.93 L642.26,598.73 L642.68,608.17 L643.11,598.95 L643.53,604.11 L643.95,586.79 L644.37,603.86 L644.80,600.03 L645.22,596.47 L645.64,590.52 L646.06,593.07 L646.49,596.47 L646.91,580.10 L647.33,596.72 L647.75,594.12 L648.18,575.72 L648.60,603.39 L649.02,589.23 L649.44,593.20 L649.87,606.65 L650.29,601.35 L650.71,590.22 L651.13,607.67 L651.56,598.01 L651.98,589.46 L652.40,598.41 L652.82,594.55 L653.25,601.70 L653.67,601.36 L654.09,601.29 L654.51,599.28 L654.94,591.77 L655.36,596.01 L655.78,581.53 L656.20,592.39 L656.63,594.47 L657.05,579.43 L657.47,597.43 L657.89,602.76 L658.32,595.43 L658.74,604.93 L659.16,592.65 L659.58,586.17 L660.01,591.72 L660.43,599.72 L660.85,597.70 L661.27,592.90 L661.70,587.58 L662.12,599.65 L662.54,599.77 L662.96,588.29 L663.39,594.92 L663.81,593.96 L664.23,592.90 L664.65,602.50 L665.08,597.72 L665.50,588.47 L665.92,597.78 L666.34,598.09 L666.77,594.29 L667.19,593.60 L667.61,577.15 L668.03,602.76 L668.46,595.49 L668.88,581.15 L669.30,596.30 L669.72,593.66 L670.15,607.67 L670.57,589.12 L670.99,589.89 L671.41,590.28 L671.84,597.94 L672.26,593.72 L672.68,597.06 L673.10,590.05 L673.53,596.65 L673.95,590.53 L674.37,606.76 L674.79,599.06 L675.22,618.32 L675.64,597.68 L676.06,590.65" fill="none" stroke="#2a55b5" stroke-width="1.4" stroke-linejoin="round"/></g>
<rect x="555.30" y="547.20" width="120.90" height="98.50" fill="none" stroke="#000" stroke-width="2.0"/>
<line x1="578.30" y1="547.20" x2="578.30" y2="550.20" stroke="#000" stroke-width="2"/>
<line x1="578.30" y1="645.70" x2="578.30" y2="642.70" stroke="#000" stroke-width="2"/>
<line x1="610.80" y1="547.20" x2="610.80" y2="550.20" stroke="#000" stroke-width="2"/>
<line x1="610.80" y1="645.70" x2="610.80" y2="642.70" stroke="#000" stroke-width="2"/>
<line x1="643.30" y1="547.20" x2="643.30" y2="550.20" stroke="#000" stroke-width="2"/>
<line x1="643.30" y1="645.70" x2="643.30" y2="642.70" stroke="#000" stroke-width="2"/>
<line x1="555.30" y1="561.60" x2="558.30" y2="561.60" stroke="#000" stroke-width="2"/>
<line x1="676.20" y1="561.60" x2="672.70" y2="561.60" stroke="#000" stroke-width="2"/>
<line x1="555.30" y1="631.60" x2="558.30" y2="631.60" stroke="#000" stroke-width="2"/>
<line x1="676.20" y1="631.60" x2="672.70" y2="631.60" stroke="#000" stroke-width="2"/>
<text x="550.30" y="564.60" font-size="7.5" text-anchor="end" fill="#000">0.0005</text>
<text x="550.30" y="599.60" font-size="7.5" text-anchor="end" fill="#000">0.0000</text>
<text x="550.30" y="634.60" font-size="7.5" text-anchor="end" fill="#000">-0.0005</text>
<text x="578.30" y="656.10" font-size="8" text-anchor="middle" fill="#000">400</text>
<text x="610.80" y="656.10" font-size="8" text-anchor="middle" fill="#000">500</text>
<text x="643.30" y="656.10" font-size="8" text-anchor="middle" fill="#000">600</text>
<text x="675.80" y="656.10" font-size="8" text-anchor="middle" fill="#000">700</text>
<text x="622.20" y="665.10" font-size="9.8" text-anchor="middle" fill="#000">Wavelength (nm)</text>
<text x="522.90" y="597.60" font-size="10.0" text-anchor="middle" fill="#000" transform="rotate(-90 522.90 597.60)">Diff. Abs.</text>
<text x="153.30" y="795.00" font-size="24" text-anchor="start" fill="#000" font-weight="bold">d</text>
<path d="M245.00,768.80 L248.80,778.60 L241.20,778.60 Z M262.25,775.95 L258.01,785.56 L252.64,780.19 Z M269.40,793.20 L259.60,797.00 L259.60,789.40 Z M262.25,810.45 L252.64,806.21 L258.01,800.84 Z M245.00,817.60 L241.20,807.80 L248.80,807.80 Z M227.75,810.45 L231.99,800.84 L237.36,806.21 Z M220.60,793.20 L230.40,789.40 L230.40,797.00 Z M227.75,775.95 L237.36,780.19 L231.99,785.56 Z" fill="url(#sb)"/>
<circle cx="245.00" cy="793.20" r="12.50" fill="url(#sbc)" stroke="none" stroke-width="1"/>
<path d="M317.00,768.80 L320.80,778.60 L313.20,778.60 Z M334.25,775.95 L330.01,785.56 L324.64,780.19 Z M341.40,793.20 L331.60,797.00 L331.60,789.40 Z M334.25,810.45 L324.64,806.21 L330.01,800.84 Z M317.00,817.60 L313.20,807.80 L320.80,807.80 Z M299.75,810.45 L303.99,800.84 L309.36,806.21 Z M292.60,793.20 L302.40,789.40 L302.40,797.00 Z M299.75,775.95 L309.36,780.19 L303.99,785.56 Z" fill="url(#sg)"/>
<circle cx="317.00" cy="793.20" r="12.50" fill="url(#sgc)" stroke="none" stroke-width="1"/>
<path d="M381.00,768.50 L384.80,778.30 L377.20,778.30 Z M398.25,775.65 L394.01,785.26 L388.64,779.89 Z M405.40,792.90 L395.60,796.70 L395.60,789.10 Z M398.25,810.15 L388.64,805.91 L394.01,800.54 Z M381.00,817.30 L377.20,807.50 L384.80,807.50 Z M363.75,810.15 L367.99,800.54 L373.36,805.91 Z M356.60,792.90 L366.40,789.10 L366.40,796.70 Z M363.75,775.65 L373.36,779.89 L367.99,785.26 Z" fill="url(#sy)"/>
<circle cx="381.00" cy="792.90" r="12.50" fill="url(#syc)" stroke="none" stroke-width="1"/>
<path d="M446.10,768.50 L449.90,778.30 L442.30,778.30 Z M463.35,775.65 L459.11,785.26 L453.74,779.89 Z M470.50,792.90 L460.70,796.70 L460.70,789.10 Z M463.35,810.15 L453.74,805.91 L459.11,800.54 Z M446.10,817.30 L442.30,807.50 L449.90,807.50 Z M428.85,810.15 L433.09,800.54 L438.46,805.91 Z M421.70,792.90 L431.50,789.10 L431.50,796.70 Z M428.85,775.65 L438.46,779.89 L433.09,785.26 Z" fill="url(#sr)"/>
<circle cx="446.10" cy="792.90" r="12.50" fill="url(#src)" stroke="none" stroke-width="1"/>
<rect x="309.3" y="846.8" width="191.5" height="80.6" rx="12" ry="12" fill="#fdf0f0" stroke="#ee1111" stroke-width="1.7" stroke-dasharray="1.5 2.0"/>
<line x1="240.90" y1="818.50" x2="231.30" y2="842.21" stroke="#0a2aff" stroke-width="3.6"/>
<path d="M225.60,856.30 L223.80,838.09 L239.56,844.47 Z" fill="#0a2aff"/>
<line x1="275.50" y1="819.10" x2="341.47" y2="855.29" stroke="#0a2aff" stroke-width="3.6"/>
<path d="M354.80,862.60 L336.51,862.26 L344.68,847.36 Z" fill="#0a2aff"/>
<line x1="329.90" y1="819.30" x2="358.97" y2="846.84" stroke="#11bb11" stroke-width="3.6"/>
<path d="M370.00,857.30 L352.39,852.33 L364.09,839.99 Z" fill="#11bb11"/>
<line x1="385.20" y1="819.10" x2="386.03" y2="841.51" stroke="#ff8c00" stroke-width="3.6"/>
<path d="M386.60,856.70 L377.50,840.83 L394.49,840.19 Z" fill="#ff8c00"/>
<ellipse cx="222.9" cy="874" rx="60.5" ry="14.9" fill="url(#eb)"/>
<ellipse cx="401.5" cy="873.9" rx="59.1" ry="13.4" fill="url(#ep)"/>
<text x="224.00" y="879.40" font-size="15.2" text-anchor="middle" fill="#000">Opsin3.2</text>
<text x="399.00" y="879.40" font-size="15" text-anchor="middle" fill="#000">Opsin2</text>
<line x1="223.00" y1="894.00" x2="223.00" y2="922.80" stroke="#000" stroke-width="1.3"/>
<path d="M223.00,930.80 L219.40,921.80 L226.60,921.80 Z" fill="#000"/>
<line x1="223.10" y1="966.00" x2="223.10" y2="983.20" stroke="#000" stroke-width="1.3"/>
<path d="M223.10,991.20 L219.50,982.20 L226.70,982.20 Z" fill="#000"/>
<polyline points="312.4,955 240.1,973.9 240.1,983" fill="none" stroke="#000" stroke-width="1.3"/>
<line x1="240.10" y1="975.00" x2="240.10" y2="983.20" stroke="#000" stroke-width="1.3"/>
<path d="M240.10,991.20 L236.50,982.20 L243.70,982.20 Z" fill="#000"/>
<line x1="368.00" y1="894.00" x2="368.00" y2="921.20" stroke="#000" stroke-width="1.3"/>
<line x1="356.00" y1="921.20" x2="380.00" y2="921.20" stroke="#000" stroke-width="1.3"/>
<line x1="368.00" y1="963.20" x2="368.00" y2="990.10" stroke="#000" stroke-width="1.3"/>
<line x1="356.00" y1="990.10" x2="380.00" y2="990.10" stroke="#000" stroke-width="1.3"/>
<line x1="439.30" y1="894.00" x2="439.30" y2="921.20" stroke="#000" stroke-width="1.3"/>
<line x1="427.30" y1="921.20" x2="451.30" y2="921.20" stroke="#000" stroke-width="1.3"/>
<line x1="439.30" y1="963.20" x2="439.30" y2="990.10" stroke="#000" stroke-width="1.3"/>
<line x1="427.30" y1="990.10" x2="451.30" y2="990.10" stroke="#000" stroke-width="1.3"/>
<line x1="269.7" y1="934.9" x2="301.2" y2="914.5" stroke="#ee1111" stroke-width="1.7" stroke-dasharray="1.5 2.0"/>
<line x1="295.1" y1="905.7" x2="307.7" y2="924.7" stroke="#ee1111" stroke-width="1.7" stroke-dasharray="1.5 2.0"/>
<rect x="177.6" y="936.3" width="90.7" height="23.1" rx="3.5" fill="url(#gs)" stroke="#333" stroke-width="0.9"/>
<rect x="319.0" y="936.6" width="89.9" height="22.2" rx="3.5" fill="url(#gd)" stroke="#333" stroke-width="0.9"/>
<rect x="417.4" y="936.5" width="103.2" height="22.4" rx="3.5" fill="url(#ga)" stroke="#333" stroke-width="0.9"/>
<text x="223.00" y="951.70" font-size="15.1" text-anchor="middle" fill="#000">Serotonin</text>
<text x="363.80" y="951.60" font-size="15.2" text-anchor="middle" fill="#000">Dopamine</text>
<text x="468.80" y="951.60" font-size="15.2" text-anchor="middle" fill="#000">Acetylcholine</text>
<text x="222.40" y="1006.70" font-size="15.3" text-anchor="middle" fill="#000">Pyloric opening</text>
<text x="406.60" y="1006.20" font-size="15.3" text-anchor="middle" fill="#000">Anal opening</text>
</svg>
</body></html>
